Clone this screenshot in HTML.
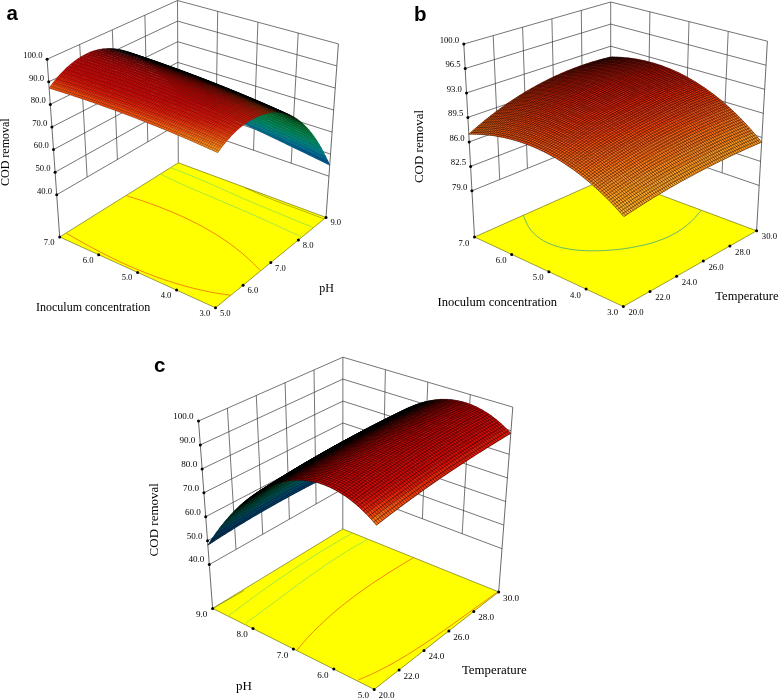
<!DOCTYPE html>
<html><head><meta charset="utf-8"><title>Figure</title>
<style>
html,body{margin:0;padding:0;background:#fff}
svg{display:block}
.g{stroke:#3a3a3a;stroke-width:.7;fill:none}
.ax{stroke:#2a2a2a;stroke-width:.7;fill:none}
.fl{fill:#ffff00;stroke:#5a5a00;stroke-width:.6}
.m{stroke:#000;fill:none;stroke-linejoin:round}
text{font-family:"Liberation Serif",serif;fill:#000}
.t{font-size:8.6px}
.tc{font-size:9.1px}
.lc{font-size:12.9px}
.ld{font-size:13px}
.l{font-size:12px}
.lb{font-size:12.55px}
.tb{font-size:8.7px}
.p{font-family:"Liberation Sans",sans-serif;font-weight:bold;font-size:20.5px;fill:#000}
</style></head><body>
<svg width="779" height="699" viewBox="0 0 779 699">
<rect width="779" height="699" fill="#fff"/>
<g><path class="g" d="M56.7 194.8L178.1 124.2"/>
<path class="g" d="M178.1 124.2L328.9 176.2"/>
<path class="g" d="M55.1 172.2L178 103.6"/>
<path class="g" d="M178 103.6L330.5 154.1"/>
<path class="g" d="M53.5 149.6L177.9 83"/>
<path class="g" d="M177.9 83L332.1 132.1"/>
<path class="g" d="M51.9 127L177.8 62.4"/>
<path class="g" d="M177.8 62.4L333.7 110"/>
<path class="g" d="M50.3 104.4L177.7 41.7"/>
<path class="g" d="M177.7 41.7L335.2 88"/>
<path class="g" d="M48.7 81.8L177.6 21.1"/>
<path class="g" d="M177.6 21.1L336.8 65.9"/>
<path class="g" d="M47.1 59.2L177.5 0.5"/>
<path class="g" d="M177.5 0.5L338.4 43.9"/>
<path class="g" d="M87.1 177.1L79.7 44.5"/>
<path class="g" d="M117.4 159.5L112.3 29.9"/>
<path class="g" d="M147.8 141.9L144.9 15.2"/>
<path class="g" d="M215.8 137.2L217.7 11.3"/>
<path class="g" d="M253.5 150.2L257.9 22.2"/>
<path class="g" d="M291.2 163.2L298.2 33"/>
<path class="g" d="M178.3 162.8L177.5 0.5"/><path class="fl" d="M59.7 237 215.5 307.8 326 217.4 178.3 162.8z"/></g>
<g><path class="g" d="M471.9 190.8L610.7 134.7"/>
<path class="g" d="M610.7 134.7L759.2 185.5"/>
<path class="g" d="M470.6 166.4L610.7 112.6"/>
<path class="g" d="M610.7 112.6L760.6 161.4"/>
<path class="g" d="M469.2 141.9L610.7 90.5"/>
<path class="g" d="M610.7 90.5L761.9 137.4"/>
<path class="g" d="M467.9 117.4L610.7 68.3"/>
<path class="g" d="M610.7 68.3L763.3 113.3"/>
<path class="g" d="M466.5 92.9L610.7 46.2"/>
<path class="g" d="M610.7 46.2L764.7 89.3"/>
<path class="g" d="M465.2 68.5L610.7 24.1"/>
<path class="g" d="M610.7 24.1L766 65.2"/>
<path class="g" d="M463.8 44L610.7 2"/>
<path class="g" d="M610.7 2L767.4 41.2"/>
<path class="g" d="M499.7 179.6L493.2 35.6"/>
<path class="g" d="M527.4 168.4L522.6 27.2"/>
<path class="g" d="M555.2 157.2L551.9 18.8"/>
<path class="g" d="M582.9 145.9L581.3 10.4"/>
<path class="g" d="M647.8 147.4L649.9 11.8"/>
<path class="g" d="M684.9 160.1L689 21.6"/>
<path class="g" d="M722.1 172.8L728.2 31.4"/>
<path class="g" d="M610.7 176.4L610.7 2"/><path class="fl" d="M474.5 237 623.3 306.5 756.6 230.8 610.7 176.4z"/></g>
<g><path class="g" d="M209.3 564.6L342.8 488.8"/>
<path class="g" d="M342.8 488.8L502 548.7"/>
<path class="g" d="M207.5 540.7L342.8 466.9"/>
<path class="g" d="M342.8 466.9L503.8 525.1"/>
<path class="g" d="M205.7 516.7L342.8 445"/>
<path class="g" d="M342.8 445L505.6 501.5"/>
<path class="g" d="M203.9 492.8L342.9 423"/>
<path class="g" d="M342.9 423L507.4 477.9"/>
<path class="g" d="M202.1 468.9L342.9 401.1"/>
<path class="g" d="M342.9 401.1L509.2 454.3"/>
<path class="g" d="M200.3 444.9L342.9 379.1"/>
<path class="g" d="M342.9 379.1L511 430.7"/>
<path class="g" d="M198.5 421L342.9 357.2"/>
<path class="g" d="M342.9 357.2L512.8 407.1"/>
<path class="g" d="M236 549.5L227.4 408.2"/>
<path class="g" d="M262.7 534.3L256.3 395.5"/>
<path class="g" d="M289.4 519.1L285.1 382.7"/>
<path class="g" d="M316.1 504L314 370"/>
<path class="g" d="M382.6 503.8L385.4 369.7"/>
<path class="g" d="M422.4 518.8L427.8 382.1"/>
<path class="g" d="M462.2 533.7L470.3 394.6"/>
<path class="g" d="M342.8 529L342.9 357.2"/><path class="fl" d="M212.6 608.4 374.2 689.4 498.7 591.9 342.8 529z"/></g>
<path d="M126.4 195.7C129.1 196.6 137.3 199.1 142.7 200.9C148.1 202.8 153.6 204.7 158.9 206.8C164.3 208.9 169.7 211 175 213.3C180.4 215.6 185.6 218 190.8 220.6C196 223.1 201.2 225.8 206.2 228.7C211.2 231.5 216.2 234.5 221 237.6C225.8 240.8 230.5 244.1 235.1 247.6C239.6 251.1 244 254.7 248.3 258.6C252.5 262.4 258.5 268.7 260.5 270.7" fill="none" stroke="#ee6a12" stroke-width=".8"/>
<path d="M66.6 233.3C69.3 234.9 77.6 239.8 83.3 242.9C89 246.1 94.7 249.2 100.5 252.2C106.3 255.2 112.2 258.1 118.1 260.9C124 263.7 130 266.4 136.1 268.9C142.1 271.4 148.2 273.9 154.4 276.2C160.5 278.4 166.7 280.6 173 282.5C179.2 284.5 185.5 286.3 191.9 287.9C198.2 289.5 204.6 290.9 211 292.2C217.5 293.4 227.2 294.7 230.4 295.2" fill="none" stroke="#ee6a12" stroke-width=".8"/>
<path d="M161.2 174.5C166 176.7 175.6 181.5 190 187.8C204.4 194.1 229.3 204.3 247.9 212.5C266.5 220.7 292.6 232.9 301.5 237" fill="none" stroke="#8fe24e" stroke-width=".8"/>
<path d="M170.8 167.7C176.5 170 192.2 176 205 181.5C217.8 187 229.9 192.8 247.9 200.5C265.9 208.2 302.1 223 313 227.5" fill="none" stroke="#8fe24e" stroke-width=".8"/>
<path d="M245 187.8C249.3 189.7 261.8 195.3 271 199C280.2 202.7 291.2 206.5 300 209.8C308.8 213.1 320 217.3 324 218.8" fill="none" stroke="#6b6b10" stroke-width=".5"/>
<path d="M523.1 215.3C524.2 217.4 526.8 224.4 529.3 228C531.8 231.7 534.9 234.6 538.2 237.2C541.5 239.8 545.2 241.8 549.1 243.5C553 245.3 557.2 246.5 561.5 247.6C565.9 248.7 570.4 249.3 575 249.9C579.6 250.4 584.4 250.7 589.1 250.8C593.9 250.9 598.7 250.8 603.5 250.6C608.2 250.3 613 250 617.7 249.5C622.4 249 627.1 248.3 631.7 247.5C636.2 246.7 640.7 245.8 645.1 244.8C649.4 243.7 653.7 242.5 657.8 241C661.9 239.6 665.9 238 669.8 236.1C673.6 234.2 677.4 232.2 681 229.7C684.6 227.2 688 224.5 691.4 221.3C694.8 218.1 699.5 212.3 701.1 210.5" fill="none" stroke="#3fa878" stroke-width=".8"/>
<path d="M228.6 615.8C230.8 614.1 237.4 609.1 241.8 605.8C246.2 602.5 250.7 599.2 255.2 596C259.6 592.7 264.1 589.5 268.6 586.3C273.2 583.1 277.7 580 282.2 576.9C286.8 573.8 291.4 570.7 296 567.6C300.6 564.6 305.2 561.6 309.9 558.6C314.5 555.6 319.2 552.7 323.9 549.8C328.6 546.9 333.4 544.1 338.1 541.3C342.9 538.5 350.1 534.4 352.5 533" fill="none" stroke="#8fe24e" stroke-width=".8"/>
<path d="M245.5 623.4C247.7 621.8 254.4 616.9 258.8 613.7C263.3 610.4 267.7 607.1 272.1 603.8C276.5 600.5 280.9 597.2 285.4 593.9C289.8 590.6 294.2 587.3 298.7 584.1C303.1 580.8 307.6 577.6 312.1 574.4C316.6 571.2 321.1 568 325.7 565C330.2 561.9 334.8 558.8 339.5 555.9C344.1 552.9 348.8 550.1 353.6 547.3C358.3 544.5 365.6 540.5 368 539.2" fill="none" stroke="#8fe24e" stroke-width=".8"/>
<path d="M296.9 650.1C298.7 648 304.1 641.6 307.8 637.5C311.6 633.4 315.5 629.4 319.5 625.6C323.5 621.7 327.6 618 331.8 614.3C336 610.6 340.3 607.1 344.7 603.6C349.1 600.2 353.5 596.8 358 593.5C362.5 590.2 367.1 587 371.7 583.9C376.4 580.8 381 577.7 385.7 574.7C390.4 571.7 395.2 568.7 399.9 565.8C404.7 562.9 411.8 558.7 414.2 557.3" fill="none" stroke="#ee6a12" stroke-width=".8"/>
<path d="M358.2 680C361 678.8 369.5 675.2 375.1 672.5C380.6 669.9 386 667 391.4 664.1C396.8 661.1 402.1 658 407.3 654.8C412.6 651.6 417.8 648.3 422.9 644.9C428.1 641.5 433.1 638 438.2 634.5C443.3 631 448.3 627.4 453.3 623.8C458.3 620.3 463.3 616.6 468.3 613C473.3 609.4 478.2 605.8 483.2 602.2C488.2 598.6 495.7 593.4 498.2 591.6" fill="none" stroke="#ee6a12" stroke-width=".8"/>
<path d="M213.5 608.2C215.9 606.8 222.9 602.7 228 599.8C233.1 596.9 241.3 592.1 244 590.6" fill="none" stroke="#6b6b10" stroke-width=".5"/>
<g transform="scale(.1)" stroke-width="6.5" stroke-opacity="0.38"><path fill="#00ac98" d="M1747 893l80 34 28 42-79-36z"/>
<path fill="#00ab9c" d="M1820 926l80 34 28 42-79-35z"/>
<path fill="#00aba1" d="M1894 959l79 34 28 43-79-35z"/>
<path fill="#00aaa5" d="M1967 992l79 34 28 44-79-36z"/>
<path fill="#00a9a9" d="M2040 1025l79 34 28 45-79-36z"/>
<path fill="#00a7ad" d="M2113 1058l79 34 27 46-78-36z"/>
<path fill="#00a6b1" d="M2186 1091l79 34 27 46-79-35z"/>
<path fill="#00a4b4" d="M2259 1124l79 35 26 47-78-36z"/>
<path fill="#00a0b5" d="M2332 1157l79 35 26 48-79-36z"/>
<path fill="#009bb5" d="M2405 1191l79 35 25 48-78-36z"/>
<path fill="#0097b6" d="M2477 1224l79 35 26 49-79-36z"/>
<path fill="#0093b6" d="M2550 1258l79 35 25 49-79-35z"/>
<path fill="#008eb6" d="M2623 1292l78 35 25 50-78-36z"/>
<path fill="#008ab7" d="M2695 1326l79 35 24 50-78-36z"/>
<path fill="#0085b7" d="M2768 1360l78 35 24 51-78-36z"/>
<path fill="#0081b8" d="M2840 1394l78 35 24 51-78-36z"/>
<path fill="#007db8" d="M2912 1428l79 35 22 52-77-36z"/>
<path fill="#0078b9" d="M2985 1462l78 36 22 51-78-36z"/>
<path fill="#0074b8" d="M3057 1496l78 36 22 52-78-36z"/>
<path fill="#0171b5" d="M3129 1531l78 36 21 52-77-36z"/>
<path fill="#016eb2" d="M3201 1565l78 36 21 53-78-36z"/>
<path class="m" d="M1765 914l73 33 73 33 73 34 73 33 73 33 73 34 73 34 72 33 73 34 72 34 73 34 72 34 73 34 72 34 72 34 72 35 72 34 72 35 72 34 72 35 71 35m-1506-694l73 34 73 33 72 34 73 34 73 34 73 33 72 34 73 34 72 34 73 35 72 34 72 34 72 34 72 35 72 34 72 35 72 34 72 35 71 35 72 35 71 35m-1547-757l30 38m18 8l-30-38m18 8l30 39m18 8l-29-38m18 8l30 39m18 8l-30-39m19 8l29 39m18 9l-29-40m18 9l30 39m18 9l-29-40m18 8l29 40m18 8l-29-40m19 9l28 40m19 8l-29-40m18 8l29 41m18 8l-28-41m18 9l28 41m18 8l-28-41m18 8l29 42m18 8l-28-42m18 9l28 42m18 8l-28-42m18 8l28 42m18 9l-27-42m18 8l28 42m18 9l-28-43m18 9l28 42m18 9l-27-43m18 8l27 43m18 9l-27-43m18 8l27 43m19 9l-28-44m19 9l27 43m18 9l-27-44m18 8l27 44m18 9l-27-44m18 8l27 44m18 9l-26-45m18 9l26 45m18 8l-26-45m18 9l27 45m18 8l-27-45m19 8l26 46m18 8l-26-45m18 8l26 46m18 8l-26-45m18 8l26 46m18 9l-26-46m18 8l26 46m18 9l-25-47m18 9l25 46m18 9l-25-47m18 9l25 46m18 9l-25-47m18 9l25 47m18 8l-25-47m18 9l25 47m18 8l-25-47m19 9l24 47m18 9l-24-48m18 9l24 47m18 9l-24-48m18 9l24 48m18 8l-24-48m18 9l24 48m18 9l-24-48m18 8l24 48m18 9l-24-48m18 8l24 48m18 9l-24-48m18 8l24 49m18 8l-24-48m18 9l24 48m17 9l-23-49m18 9l23 48m18 9l-23-49m18 9l23 49m18 9l-23-49m18 8l23 49m18 9l-23-49m18 8l23 50m18 8l-23-49m18 9l23 49m17 9l-22-50m18 9l22 50"/>
<path fill="#00b281" d="M1717 857l80 33 29 40-80-35z"/>
<path fill="#00b285" d="M1791 889l80 33 28 41-79-35z"/>
<path fill="#00b189" d="M1864 921l80 33 29 42-80-35z"/>
<path fill="#00b08d" d="M1938 953l80 34 28 42-80-35z"/>
<path fill="#00b091" d="M2011 985l80 34 28 43-80-35z"/>
<path fill="#00af95" d="M2085 1018l79 34 28 43-80-35z"/>
<path fill="#00ae99" d="M2158 1050l80 34 27 44-80-35z"/>
<path fill="#00ad9c" d="M2231 1083l80 34 26 45-79-35z"/>
<path fill="#00aba0" d="M2305 1116l79 34 26 45-79-35z"/>
<path fill="#00aaa4" d="M2378 1148l79 35 26 46-79-35z"/>
<path fill="#00a9a8" d="M2451 1181l79 35 26 46-79-35z"/>
<path fill="#00a8ac" d="M2524 1215l79 34 25 47-79-35z"/>
<path fill="#00a6af" d="M2597 1248l79 35 25 47-79-35z"/>
<path fill="#00a5b3" d="M2670 1281l79 35 24 48-78-35z"/>
<path fill="#00a2b4" d="M2743 1315l78 35 24 48-78-35z"/>
<path fill="#009db5" d="M2815 1348l79 36 24 48-79-35z"/>
<path fill="#0099b5" d="M2888 1382l79 35 23 49-78-35z"/>
<path fill="#0095b6" d="M2960 1416l79 35 23 50-78-36z"/>
<path fill="#0091b6" d="M3033 1450l78 36 23 49-78-36z"/>
<path fill="#008cb7" d="M3105 1484l79 36 22 50-78-36z"/>
<path fill="#0088b7" d="M3178 1518l78 36 22 50-78-36z"/>
<path class="m" d="M1735 877l73 32 74 32 73 33 73 33 74 32 73 33 73 33 73 33 73 34 73 33 73 33 73 34 72 33 73 34 72 34 73 34 72 34 73 34 72 34 72 35 72 34m-1514-683l73 33 73 33 74 33 73 33 73 33 73 33 73 33 73 34 72 33 73 34 73 33 72 34 73 34 72 34 73 34 72 34 72 34 72 35 72 34 72 34 72 35m-1555-743l30 36m18 8l-30-36m19 8l29 36m19 9l-30-37m18 8l30 37m18 8l-29-37m18 8l30 37m18 8l-29-37m18 8l29 38m19 8l-30-38m19 8l29 38m18 8l-29-38m19 8l29 39m18 8l-29-39m18 8l29 39m19 8l-29-39m18 8l29 40m18 8l-29-40m19 8l28 40m19 8l-29-39m19 8l28 40m18 8l-28-40m18 8l28 40m19 9l-28-41m18 8l28 41m18 8l-28-41m19 9l27 41m19 8l-28-41m18 8l28 41m18 9l-27-42m18 8l27 42m18 8l-27-42m18 9l28 42m18 8l-27-42m18 8l27 42m18 9l-27-43m19 9l26 42m19 8l-27-42m18 8l27 43m18 8l-27-43m19 9l26 43m18 8l-26-43m18 8l27 43m18 9l-27-44m19 9l26 43m18 9l-26-44m18 8l26 44m18 9l-26-44m19 8l25 44m19 8l-26-44m18 9l26 44m18 8l-26-44m18 8l26 45m18 8l-25-44m18 8l25 45m18 8l-25-44m18 8l25 45m18 8l-25-45m19 9l25 45m18 8l-25-45m18 9l25 45m18 8l-25-45m18 8l25 46m18 8l-25-45m19 8l24 46m18 9l-24-46m18 8l24 46m18 9l-24-46m18 8l24 46m18 9l-24-46m18 8l24 46m18 9l-23-46m18 8l23 47m18 8l-23-46m18 8l23 47m18 8l-23-46m18 8l23 47m18 9l-23-47m18 9l23 46m18 9l-23-47m18 9l23 46m18 9l-22-47m18 9l22 47m18 8l-22-46m18 8l22 47"/>
<path fill="#00b070" d="M1687 822l80 33 29 38-80-34z"/>
<path fill="#00b173" d="M1761 853l80 33 29 39-80-34z"/>
<path fill="#00b276" d="M1835 885l80 33 29 39-80-34z"/>
<path fill="#00b378" d="M1909 916l80 33 28 40-80-34z"/>
<path fill="#00b47b" d="M1982 948l80 33 28 41-79-34z"/>
<path fill="#00b47e" d="M2056 980l80 33 28 41-80-34z"/>
<path fill="#00b581" d="M2130 1011l80 34 27 42-80-34z"/>
<path fill="#00b484" d="M2203 1044l80 33 27 43-79-35z"/>
<path fill="#00b388" d="M2277 1076l80 34 26 43-79-35z"/>
<path fill="#00b28c" d="M2351 1108l79 34 26 44-79-35z"/>
<path fill="#00b190" d="M2424 1141l80 34 25 44-79-35z"/>
<path fill="#00b093" d="M2497 1173l80 35 25 44-79-35z"/>
<path fill="#00af97" d="M2571 1206l79 35 25 45-79-35z"/>
<path fill="#00ad9a" d="M2644 1239l79 35 25 45-79-35z"/>
<path fill="#00ac9e" d="M2717 1272l79 35 25 46-79-35z"/>
<path fill="#00aba2" d="M2790 1305l79 35 24 47-78-36z"/>
<path fill="#00aaa6" d="M2863 1339l79 35 24 46-79-35z"/>
<path fill="#00a8aa" d="M2936 1372l79 36 23 46-78-35z"/>
<path fill="#00a7ad" d="M3009 1406l79 36 23 47-79-36z"/>
<path fill="#00a6b1" d="M3082 1440l79 36 22 47-78-36z"/>
<path fill="#00a4b4" d="M3154 1474l79 36 22 47-78-36z"/>
<path class="m" d="M1705 841l74 32 73 31 74 32 74 32 73 32 74 33 73 32 74 32 73 33 73 33 73 33 74 33 73 33 73 33 72 34 73 33 73 34 73 34 72 34 73 34 72 35m-1521-674l73 32 74 32 74 32 73 32 74 33 73 32 73 33 73 33 74 33 73 33 73 33 73 33 72 33 73 34 73 34 73 33 72 34 73 34 72 34 72 35 73 34m-1563-731l30 35m18 8l-30-35m19 7l30 36m18 8l-30-36m19 8l29 36m19 8l-30-36m19 8l29 36m19 8l-30-36m19 8l29 36m18 8l-29-37m19 8l29 37m18 8l-29-37m18 8l30 37m18 8l-29-37m18 8l29 37m19 8l-29-37m18 8l29 37m18 8l-28-37m18 8l29 37m18 9l-28-38m18 8l29 38m18 8l-29-39m19 8l28 39m19 8l-29-39m19 8l28 39m18 8l-28-39m19 8l28 40m18 8l-28-39m18 8l28 39m19 8l-28-39m18 8l28 39m18 8l-27-39m18 8l27 40m19 8l-28-40m19 8l27 40m18 8l-27-40m18 8l28 41m18 8l-27-41m18 8l27 41m18 8l-27-40m19 8l27 41m18 8l-27-41m19 8l26 41m18 8l-26-41m18 8l27 42m18 8l-26-41m18 8l26 41m18 9l-26-42m18 8l27 42m18 8l-26-42m18 9l26 42m18 8l-26-42m19 8l25 42m19 9l-26-43m18 9l26 42m18 9l-25-43m18 8l25 43m18 8l-25-42m18 8l26 43m18 8l-25-43m18 9l25 43m18 8l-25-43m18 8l25 43m18 9l-24-43m18 8l25 43m18 9l-25-44m18 9l25 43m18 9l-24-44m18 9l24 43m18 9l-24-44m18 9l24 43m19 9l-24-44m18 8l24 44m18 9l-24-44m18 8l24 44m18 9l-24-44m18 8l24 44m18 9l-23-44m18 8l23 45m18 8l-23-44m18 8l23 45m19 8l-24-44m19 9l23 44m18 9l-23-45m18 9l23 44"/>
<path fill="#00ae61" d="M1656 789l81 32 30 36-81-33z"/>
<path fill="#00af64" d="M1731 819l80 33 30 36-81-33z"/>
<path fill="#00af66" d="M1805 850l81 33 28 37-80-33z"/>
<path fill="#00b068" d="M1879 881l81 33 28 38-80-34z"/>
<path fill="#00b16b" d="M1953 912l81 33 28 38-80-33z"/>
<path fill="#00b26d" d="M2027 943l81 33 28 39-80-33z"/>
<path fill="#00b270" d="M2101 975l81 33 27 40-80-34z"/>
<path fill="#00b372" d="M2175 1006l81 33 27 41-80-34z"/>
<path fill="#00b375" d="M2249 1038l80 33 27 41-80-34z"/>
<path fill="#00b477" d="M2323 1070l80 33 27 42-80-34z"/>
<path fill="#00b47a" d="M2397 1102l80 34 26 41-80-34z"/>
<path fill="#00b57c" d="M2471 1134l80 34 25 42-79-34z"/>
<path fill="#00b57f" d="M2544 1166l80 35 26 42-80-34z"/>
<path fill="#00b582" d="M2618 1199l80 34 25 43-80-34z"/>
<path fill="#00b486" d="M2691 1232l80 34 25 44-80-35z"/>
<path fill="#00b38a" d="M2765 1265l79 34 25 44-80-35z"/>
<path fill="#00b28d" d="M2838 1298l80 35 24 44-80-35z"/>
<path fill="#00b091" d="M2911 1331l80 35 23 45-79-36z"/>
<path fill="#00af95" d="M2985 1365l79 35 23 44-79-35z"/>
<path fill="#00ae99" d="M3058 1398l79 36 23 45-79-36z"/>
<path fill="#00ad9d" d="M3131 1432l79 36 23 45-79-36z"/>
<path class="m" d="M1675 807l74 31 74 31 74 31 74 32 74 31 74 32 73 32 74 32 74 32 73 32 74 32 73 33 74 33 73 33 73 33 73 33 74 34 73 33 73 34 72 34 73 34m-1528-665l74 31 74 32 73 31 74 32 74 32 74 31 73 33 74 32 73 32 74 33 73 32 73 33 74 33 73 33 73 34 73 33 73 34 73 33 72 34 73 34 73 35m-1571-720l31 33m18 8l-30-34m19 8l30 33m18 8l-30-33m19 7l30 34m18 8l-30-34m19 8l30 34m18 8l-30-35m19 8l30 35m18 7l-30-34m19 7l30 35m18 8l-29-35m18 8l29 35m19 8l-29-35m18 7l29 36m19 8l-29-36m18 8l29 36m19 8l-29-36m18 8l29 36m19 8l-29-37m18 8l29 37m18 7l-28-36m18 8l29 36m18 8l-28-36m18 8l29 36m18 8l-28-37m18 8l29 37m18 9l-28-38m18 8l28 38m19 8l-28-38m18 8l28 38m19 8l-28-38m18 8l28 38m18 8l-27-38m18 8l28 38m18 8l-27-38m18 8l27 38m19 8l-28-38m19 8l27 38m18 9l-27-39m19 8l27 39m18 8l-27-39m19 8l27 39m18 8l-27-39m18 8l27 39m19 9l-27-40m18 8l27 40m18 8l-26-40m18 8l26 40m19 8l-26-39m18 8l26 40m18 8l-26-40m19 8l26 40m18 8l-26-40m18 8l26 41m19 8l-26-40m18 8l26 40m18 9l-25-41m18 8l25 41m19 8l-26-40m19 8l25 41m18 8l-25-41m18 8l25 41m19 9l-25-41m18 8l25 41m18 8l-25-41m19 9l24 41m19 8l-25-41m18 8l25 42m18 8l-24-41m18 8l24 42m19 8l-25-42m18 9l25 41m18 9l-24-42m18 9l24 41m18 9l-24-42m19 9l23 41m19 9l-24-42m18 9l24 41m18 9l-24-42m19 9l23 41m18 9l-23-42m18 9l24 42m18 8l-24-42m19 9l23 42"/>
<path fill="#00ab53" d="M1626 757l81 32 30 34-81-32z"/>
<path fill="#00ab55" d="M1701 787l81 32 29 35-81-33z"/>
<path fill="#00ac57" d="M1775 817l81 32 29 36-81-33z"/>
<path fill="#00ad59" d="M1850 848l80 32 29 36-80-33z"/>
<path fill="#00ae5c" d="M1924 878l81 32 28 37-80-33z"/>
<path fill="#00ae5e" d="M1998 909l81 32 28 37-80-33z"/>
<path fill="#00af60" d="M2073 940l80 32 28 38-80-33z"/>
<path fill="#00b062" d="M2147 971l81 32 27 39-80-34z"/>
<path fill="#00b065" d="M2221 1002l81 33 27 39-80-34z"/>
<path fill="#00b167" d="M2295 1033l81 34 27 39-80-34z"/>
<path fill="#00b169" d="M2370 1065l80 33 26 40-80-34z"/>
<path fill="#00b26c" d="M2444 1097l80 33 26 40-80-34z"/>
<path fill="#00b26e" d="M2518 1129l80 34 26 40-80-34z"/>
<path fill="#00b371" d="M2592 1161l80 34 25 41-80-35z"/>
<path fill="#00b373" d="M2665 1194l80 34 25 41-79-35z"/>
<path fill="#00b376" d="M2739 1226l80 35 25 41-80-35z"/>
<path fill="#00b478" d="M2813 1259l80 35 24 41-80-35z"/>
<path fill="#00b47b" d="M2886 1292l80 35 24 42-79-35z"/>
<path fill="#00b47d" d="M2960 1326l80 35 23 42-79-36z"/>
<path fill="#00b480" d="M3034 1359l79 36 23 42-79-36z"/>
<path fill="#00b384" d="M3107 1393l80 36 22 42-79-36z"/>
<path class="m" d="M1644 775l75 30 74 30 74 31 75 31 74 31 74 31 74 31 74 32 74 31 74 32 74 32 74 32 74 33 73 32 74 33 73 33 74 34 73 33 73 34 74 34 73 34m-1536-658l75 30 74 31 74 31 74 31 74 31 74 32 74 31 74 32 74 32 74 32 73 32 74 32 74 33 73 33 74 33 73 33 73 33 73 34 74 34 73 34 73 34m-1578-710l30 32m19 7l-30-31m18 7l31 32m18 8l-30-33m19 8l30 32m18 8l-30-32m19 7l30 33m18 7l-30-32m19 7l30 33m18 8l-29-33m18 7l30 33m19 8l-30-33m19 7l29 34m19 8l-30-34m19 8l29 33m19 8l-30-34m19 8l29 34m19 8l-29-34m18 7l29 35m19 7l-29-34m18 8l29 34m19 8l-29-35m19 8l28 35m19 8l-29-35m19 7l28 36m19 7l-29-35m19 8l28 35m19 8l-29-35m19 8l28 35m19 8l-28-36m18 8l28 36m19 8l-28-36m18 8l28 36m19 8l-28-36m18 8l28 36m19 8l-28-37m18 8l28 37m18 8l-27-37m18 8l28 37m18 8l-27-37m18 8l28 37m18 8l-27-37m19 8l27 37m18 8l-27-37m19 8l26 37m19 8l-27-37m19 8l26 37m19 8l-27-37m18 8l27 37m19 9l-27-38m18 8l27 38m18 8l-26-38m18 8l27 38m18 8l-26-38m18 8l26 38m19 9l-26-39m18 9l26 38m19 8l-26-38m18 8l26 38m18 9l-25-39m18 8l26 39m18 8l-26-38m19 8l25 38m19 9l-26-39m19 8l25 39m18 8l-25-39m19 9l25 39m18 8l-25-39m18 8l25 39m19 9l-25-39m18 8l25 39m18 8l-25-39m19 9l24 39m19 8l-25-39m19 8l24 40m18 8l-24-39m18 8l25 40m18 8l-24-39m18 8l24 40m18 8l-24-39m19 8l24 40m18 8l-24-39m18 8l24 40m18 8l-23-39m18 8l24 40"/>
<path fill="#00a34a" d="M1595 727l82 31 30 33-82-32z"/>
<path fill="#00a44b" d="M1670 757l82 31 29 33-81-32z"/>
<path fill="#00a64c" d="M1745 786l81 32 30 33-81-32z"/>
<path fill="#00a74e" d="M1820 816l81 32 29 34-81-32z"/>
<path fill="#00a84f" d="M1895 846l81 32 28 34-80-32z"/>
<path fill="#00aa51" d="M1969 876l81 32 29 35-81-32z"/>
<path fill="#00ab52" d="M2044 906l81 33 28 35-81-32z"/>
<path fill="#00ac53" d="M2119 937l81 33 27 36-80-33z"/>
<path fill="#00ad55" d="M2193 968l81 33 27 36-80-33z"/>
<path fill="#00ae58" d="M2268 999l80 33 27 37-80-34z"/>
<path fill="#00ae5a" d="M2342 1030l81 33 26 38-80-34z"/>
<path fill="#00ae5c" d="M2416 1062l81 33 26 38-80-34z"/>
<path fill="#00af5e" d="M2491 1093l80 34 26 38-80-34z"/>
<path fill="#00af61" d="M2565 1125l81 34 25 39-80-35z"/>
<path fill="#00b063" d="M2639 1158l81 34 25 38-80-34z"/>
<path fill="#00b065" d="M2713 1190l81 34 25 39-80-34z"/>
<path fill="#00b068" d="M2787 1223l81 34 24 39-80-35z"/>
<path fill="#00b16a" d="M2861 1256l80 35 25 39-80-35z"/>
<path fill="#00b16d" d="M2935 1289l80 35 24 39-80-35z"/>
<path fill="#00b16f" d="M3009 1322l80 36 24 39-80-35z"/>
<path fill="#00b172" d="M3083 1356l80 36 23 39-80-36z"/>
<path class="m" d="M1614 744l74 30 75 29 75 30 74 31 75 30 74 31 75 31 74 31 74 31 75 31 74 32 74 32 74 32 74 32 74 33 74 33 74 33 73 33 74 34 74 33 73 34m-1542-651l75 30 74 30 75 30 74 31 74 31 75 30 74 32 74 31 74 31 74 32 75 32 73 32 74 32 74 33 74 32 74 33 73 33 74 34 73 33 74 34 73 34m-1585-700l31 30m19 8l-31-31m19 8l30 30m19 7l-30-30m18 7l31 31m18 8l-30-31m19 7l30 31m18 8l-30-31m19 7l30 31m19 8l-30-32m18 8l30 31m19 8l-30-32m19 8l30 31m18 8l-29-32m18 8l30 32m18 7l-29-32m19 8l29 32m19 8l-30-33m19 8l29 32m19 8l-29-33m18 8l29 33m19 7l-29-32m19 7l29 33m18 8l-29-33m19 7l29 33m18 8l-28-33m18 8l29 33m18 8l-28-34m19 8l28 34m19 7l-29-33m19 7l28 34m19 8l-29-34m19 8l28 34m19 8l-28-34m18 7l28 35m19 7l-28-34m19 8l27 34m19 8l-28-34m19 7l27 35m19 8l-28-35m19 8l27 35m19 8l-27-35m18 8l28 35m18 8l-27-35m18 8l28 35m18 8l-27-35m18 7l28 36m18 8l-27-36m19 8l26 36m19 8l-27-36m19 8l26 36m19 8l-27-36m19 8l26 36m19 8l-27-36m19 8l26 36m19 8l-27-35m19 8l26 36m19 8l-26-36m18 8l26 36m19 8l-26-36m18 8l26 36m18 9l-25-37m18 8l26 37m18 8l-25-36m18 8l26 36m18 8l-25-36m18 8l26 37m18 8l-25-37m18 9l25 36m19 9l-25-37m18 8l25 37m18 8l-24-36m18 8l25 37m18 8l-25-37m19 9l25 36m18 9l-25-37m19 8l24 37m19 9l-25-37m19 8l24 37m18 9l-24-37m19 8l24 37m18 9l-24-38m18 9l24 37m19 9l-24-38m18 9l24 37"/>
<path fill="#009b41" d="M1565 699l81 31 30 30-81-31z"/>
<path fill="#009c42" d="M1640 728l81 31 30 31-81-32z"/>
<path fill="#009e43" d="M1715 757l82 31 29 31-81-31z"/>
<path fill="#009f45" d="M1790 786l82 31 29 32-82-31z"/>
<path fill="#00a046" d="M1865 816l82 31 28 33-81-32z"/>
<path fill="#00a147" d="M1940 845l82 32 28 33-81-32z"/>
<path fill="#00a349" d="M2015 875l81 32 29 34-82-33z"/>
<path fill="#00a44a" d="M2090 905l81 33 28 34-81-33z"/>
<path fill="#00a54b" d="M2165 936l81 32 28 35-81-33z"/>
<path fill="#00a64c" d="M2240 967l81 32 27 35-81-33z"/>
<path fill="#00a84e" d="M2314 998l81 32 27 36-81-34z"/>
<path fill="#00a94f" d="M2389 1029l81 33 27 35-81-33z"/>
<path fill="#00aa51" d="M2464 1060l81 34 26 35-81-33z"/>
<path fill="#00ab52" d="M2538 1092l81 34 26 36-81-35z"/>
<path fill="#00ac54" d="M2613 1124l81 34 25 36-80-34z"/>
<path fill="#00ac56" d="M2687 1156l81 34 25 37-80-35z"/>
<path fill="#00ad58" d="M2761 1189l81 34 25 37-80-35z"/>
<path fill="#00ad5b" d="M2836 1221l80 35 25 37-80-35z"/>
<path fill="#00ad5d" d="M2910 1254l80 36 25 36-81-35z"/>
<path fill="#00ad5f" d="M2984 1288l80 35 24 37-80-36z"/>
<path fill="#00ae62" d="M3058 1321l80 36 24 37-80-36z"/>
<path class="m" d="M1583 715l75 29 75 29 75 30 75 29 75 30 75 30 74 31 75 31 75 30 74 32 75 31 74 31 75 32 74 32 74 33 74 32 74 33 74 33 74 34 74 33 74 34m-1549-645l75 29 75 30 75 30 75 30 74 30 75 30 75 31 74 31 75 31 74 31 74 32 75 31 74 32 74 33 74 32 74 33 74 33 74 33 74 33 74 34 73 34m-1591-691l30 28m19 7l-31-28m19 7l31 29m19 7l-31-29m19 8l30 28m19 8l-30-29m18 7l31 29m18 8l-30-30m19 8l30 29m19 7l-30-29m19 7l29 30m19 7l-30-29m19 7l30 30m19 7l-30-30m19 8l29 30m19 7l-30-30m19 7l30 31m18 7l-29-30m19 7l29 31m19 7l-30-30m19 7l29 31m19 8l-29-31m19 7l29 31m18 8l-29-31m19 7l29 31m19 8l-29-31m18 7l29 32m19 7l-29-31m19 7l29 32m18 8l-28-32m18 7l29 32m18 8l-28-32m19 8l28 32m19 8l-29-33m19 8l28 32m19 8l-28-32m19 7l28 33m18 8l-28-33m19 8l28 32m18 8l-27-32m18 7l28 33m19 8l-28-33m19 8l27 33m19 8l-28-33m19 8l27 33m19 8l-27-34m18 8l27 33m19 8l-27-33m19 8l27 33m18 8l-27-33m19 8l27 33m18 8l-27-33m19 8l27 33m18 8l-26-33m18 8l27 33m18 9l-26-34m19 8l26 34m19 8l-27-34m19 8l26 34m19 8l-27-34m19 8l26 34m19 8l-26-34m18 8l26 34m19 9l-26-35m18 9l26 34m19 8l-26-34m18 8l26 34m19 8l-26-34m19 8l25 35m19 8l-26-34m19 8l25 34m19 9l-26-35m19 8l25 35m18 8l-25-34m19 8l25 35m18 8l-25-35m19 9l25 34m18 9l-25-35m19 9l25 34m18 9l-25-35m19 8l25 35m18 8l-25-34m19 8l24 35m19 8l-25-34m19 8l24 35"/>
<path fill="#009339" d="M1534 672l82 30 30 29-82-30z"/>
<path fill="#00943a" d="M1609 701l82 30 30 29-82-31z"/>
<path fill="#00953b" d="M1685 729l82 31 29 30-82-32z"/>
<path fill="#00973c" d="M1760 758l82 31 29 30-81-31z"/>
<path fill="#00983d" d="M1835 787l82 31 29 31-81-32z"/>
<path fill="#00993e" d="M1911 816l81 32 29 31-81-32z"/>
<path fill="#009a3f" d="M1986 846l82 32 28 31-81-32z"/>
<path fill="#009b41" d="M2061 876l82 32 28 32-82-33z"/>
<path fill="#009d42" d="M2136 906l82 32 28 32-82-32z"/>
<path fill="#009e43" d="M2211 936l82 33 27 32-81-33z"/>
<path fill="#009f44" d="M2286 967l82 33 27 32-81-33z"/>
<path fill="#00a046" d="M2361 998l82 33 27 33-82-33z"/>
<path fill="#00a147" d="M2436 1029l82 33 26 34-81-34z"/>
<path fill="#00a248" d="M2511 1061l81 33 27 34-81-34z"/>
<path fill="#00a34a" d="M2586 1092l81 34 26 34-81-34z"/>
<path fill="#00a44b" d="M2661 1124l81 35 25 33-80-34z"/>
<path fill="#00a54d" d="M2735 1157l81 34 26 34-81-35z"/>
<path fill="#00a74e" d="M2810 1189l81 35 25 34-81-35z"/>
<path fill="#00a84f" d="M2884 1222l81 36 25 34-81-36z"/>
<path fill="#00a951" d="M2959 1256l81 35 24 34-81-35z"/>
<path fill="#00a953" d="M3033 1289l81 36 24 34-81-36z"/>
<path class="m" d="M1552 687l76 29 75 29 75 29 75 29 75 29 75 30 76 30 75 30 74 31 75 31 75 31 75 31 75 32 74 32 75 32 74 32 75 33 74 33 74 33 75 34 74 34m-1555-640l75 29 75 29 75 29 75 29 75 30 75 30 75 30 75 31 75 30 74 31 75 32 75 31 74 32 75 32 74 32 74 33 75 32 74 33 74 34 74 33 74 34m-1598-683l31 27m18 7l-30-27m19 7l30 27m19 7l-31-27m19 7l31 28m19 7l-31-27m19 7l30 27m19 7l-30-27m19 7l30 28m19 7l-30-28m18 7l31 28m18 8l-30-28m19 7l30 28m19 7l-30-28m19 7l30 29m18 7l-29-28m18 7l30 28m19 8l-30-29m19 7l30 29m18 8l-29-29m19 7l29 29m19 8l-30-29m19 7l30 29m18 8l-29-30m19 8l29 29m19 8l-29-30m19 8l28 29m19 8l-29-30m19 8l29 29m19 8l-29-30m19 8l28 29m19 8l-29-30m19 8l29 30m18 7l-28-30m19 8l28 30m19 8l-28-31m18 8l29 30m18 8l-28-30m19 7l28 31m19 8l-28-31m18 8l28 30m19 8l-28-31m19 8l28 31m18 8l-27-31m18 8l28 31m19 7l-28-31m19 8l27 31m19 8l-27-31m18 8l28 31m18 8l-27-31m19 8l27 31m18 8l-27-31m19 7l27 32m19 8l-27-32m19 8l26 32m19 8l-27-32m19 8l27 32m18 8l-26-32m18 8l27 32m18 8l-26-32m19 8l26 32m19 8l-27-32m19 8l26 32m19 8l-26-31m18 8l26 32m19 8l-26-32m19 8l25 32m19 8l-26-32m19 8l26 32m18 9l-25-32m18 8l26 32m18 8l-25-32m18 8l26 32m18 9l-25-32m19 8l25 32m18 8l-25-32m19 9l25 32m18 8l-25-32m19 8l25 33m18 8l-24-32m18 8l25 32m18 9l-24-32m18 8l25 32m18 9l-24-32m18 8l25 32"/>
<path fill="#008a31" d="M1503 648l82 29 30 27-82-30z"/>
<path fill="#008c32" d="M1579 675l82 30 30 28-82-31z"/>
<path fill="#008d33" d="M1654 703l82 31 30 27-82-30z"/>
<path fill="#008e34" d="M1730 732l82 30 29 28-81-30z"/>
<path fill="#008f35" d="M1805 761l83 30 29 29-82-31z"/>
<path fill="#009136" d="M1881 789l82 31 29 29-82-31z"/>
<path fill="#009237" d="M1957 819l82 31 28 29-82-31z"/>
<path fill="#009338" d="M2032 848l82 32 28 29-81-32z"/>
<path fill="#009439" d="M2108 878l81 32 28 30-81-32z"/>
<path fill="#00953a" d="M2183 908l82 32 27 30-81-32z"/>
<path fill="#00963b" d="M2258 938l82 33 27 30-81-32z"/>
<path fill="#00973d" d="M2334 969l81 33 27 31-81-33z"/>
<path fill="#00983e" d="M2409 1000l81 33 27 31-81-33z"/>
<path fill="#00993f" d="M2484 1031l82 34 26 31-81-34z"/>
<path fill="#009a40" d="M2559 1063l82 34 26 31-82-34z"/>
<path fill="#009b42" d="M2634 1095l81 34 26 31-81-34z"/>
<path fill="#009c43" d="M2709 1127l81 35 26 31-81-35z"/>
<path fill="#009d45" d="M2784 1160l81 35 25 31-81-35z"/>
<path fill="#009e46" d="M2859 1193l81 35 25 31-81-35z"/>
<path fill="#009f47" d="M2933 1226l82 36 24 31-81-36z"/>
<path fill="#00a049" d="M3008 1259l81 36 24 32-80-36z"/>
<path class="m" d="M1521 661l76 28 76 29 75 28 75 29 76 29 75 30 76 29 75 30 75 31 75 30 75 31 76 31 75 32 74 31 75 32 75 33 75 32 75 33 74 33 75 34 74 34m-1561-636l75 28 76 29 75 29 75 29 76 29 75 30 75 30 75 30 75 30 75 31 75 31 75 31 75 31 75 32 75 32 74 33 75 32 74 33 75 34 74 33 74 34m-1604-676l31 25m19 7l-31-25m19 7l31 25m18 7l-30-25m19 7l30 25m19 8l-30-26m19 7l30 26m19 7l-31-26m19 7l31 26m19 7l-31-26m19 7l30 26m19 8l-30-27m19 7l30 27m19 7l-30-26m19 7l30 26m19 8l-30-27m19 7l29 27m19 7l-30-27m19 8l30 26m19 8l-30-27m19 7l30 27m18 8l-29-28m19 8l29 27m19 7l-29-27m19 7l29 28m19 7l-29-27m18 7l30 28m18 7l-29-28m19 8l29 28m19 7l-29-28m19 8l29 28m18 7l-28-28m19 8l28 28m19 7l-29-28m19 8l29 28m19 7l-29-28m19 8l28 28m19 8l-28-29m19 8l28 28m19 8l-29-28m19 7l28 29m19 7l-28-28m19 7l28 29m19 8l-28-29m19 8l27 29m19 7l-28-28m19 7l28 29m19 8l-28-29m19 8l27 29m19 8l-27-29m18 8l28 29m18 8l-27-30m19 8l27 29m19 8l-27-29m18 8l28 29m18 8l-27-29m19 8l27 29m19 8l-27-29m19 8l26 29m19 8l-27-29m19 8l27 29m18 8l-26-29m19 8l26 29m19 9l-27-30m19 8l26 30m19 8l-26-30m18 8l27 30m18 8l-26-30m19 9l26 29m19 9l-26-30m18 8l26 30m19 8l-26-30m19 8l25 30m19 9l-26-30m19 8l26 30m18 8l-25-30m18 9l26 30m18 8l-25-30m19 8l25 30m19 9l-26-30m19 8l25 30m19 9l-25-30m18 8l25 30m19 9l-25-30m19 8l24 30"/>
<path fill="#018129" d="M1472 624l82 30 31 24-82-29z"/>
<path fill="#00832a" d="M1548 652l82 29 30 26-82-30z"/>
<path fill="#00842b" d="M1624 679l82 30 30 26-82-30z"/>
<path fill="#00852c" d="M1700 707l82 31 30 26-83-31z"/>
<path fill="#00872d" d="M1775 736l83 30 29 27-82-31z"/>
<path fill="#00882e" d="M1851 764l83 31 29 27-82-31z"/>
<path fill="#00892f" d="M1927 793l82 31 29 27-82-31z"/>
<path fill="#008a30" d="M2003 822l82 32 29 27-82-31z"/>
<path fill="#008b31" d="M2079 852l82 32 28 27-82-32z"/>
<path fill="#008c32" d="M2154 882l82 32 28 28-82-33z"/>
<path fill="#008d33" d="M2230 912l82 32 28 29-82-33z"/>
<path fill="#008e34" d="M2305 942l83 33 27 29-82-33z"/>
<path fill="#008f35" d="M2381 973l82 33 27 29-82-33z"/>
<path fill="#009036" d="M2456 1004l82 34 27 29-82-34z"/>
<path fill="#009138" d="M2532 1036l82 34 26 29-81-35z"/>
<path fill="#009239" d="M2607 1068l82 34 26 29-81-35z"/>
<path fill="#00933a" d="M2682 1100l82 35 26 28-81-34z"/>
<path fill="#00933b" d="M2758 1132l81 35 26 29-82-35z"/>
<path fill="#00943d" d="M2833 1165l81 36 25 29-81-36z"/>
<path fill="#00953e" d="M2908 1198l81 36 25 29-81-36z"/>
<path fill="#00963f" d="M2983 1232l81 36 25 29-81-36z"/>
<path class="m" d="M1490 637l76 28 76 28 76 28 76 29 75 28 76 29 76 30 75 29 76 30 75 31 76 30 75 31 75 31 75 32 76 32 75 32 75 33 75 32 75 34 74 33 75 34m-1567-632l76 28 75 28 76 28 76 29 75 29 76 29 75 30 76 30 75 30 75 30 76 31 75 31 75 31 75 32 75 32 75 32 75 33 75 32 74 34 75 33 75 34m-1611-669l31 23m19 7l-31-23m19 6l31 24m19 7l-31-24m19 7l31 24m19 7l-31-24m19 7l31 24m18 7l-30-24m19 7l30 24m19 7l-30-24m19 7l30 24m19 7l-30-24m19 7l30 24m19 8l-30-25m19 7l30 25m19 7l-30-25m19 7l30 25m18 7l-29-25m19 8l29 25m19 7l-30-25m19 7l30 25m19 7l-30-25m19 7l30 26m19 7l-30-25m19 7l30 25m19 8l-30-26m19 7l29 26m19 7l-29-25m19 7l29 26m19 7l-29-26m19 8l29 26m19 7l-29-26m19 8l29 26m18 7l-28-26m19 8l28 26m19 7l-29-26m19 8l29 26m19 7l-29-26m19 8l29 26m18 8l-28-27m19 8l28 26m19 8l-28-27m19 8l28 26m19 8l-28-26m19 7l28 27m18 8l-28-27m19 8l28 26m19 8l-28-27m19 8l28 27m19 8l-28-27m19 8l27 27m19 7l-27-27m19 8l27 27m19 8l-28-27m19 8l27 27m19 8l-27-27m19 8l27 27m19 8l-27-27m19 8l27 27m18 8l-27-27m19 7l27 28m19 8l-27-28m19 9l27 27m18 8l-26-27m18 8l27 27m19 8l-27-27m19 8l26 27m19 8l-26-27m19 8l26 28m19 8l-27-28m19 9l26 27m19 8l-26-27m19 8l26 27m18 9l-25-28m18 9l26 27m19 8l-26-27m19 8l25 28m19 8l-25-27m18 8l26 27m18 9l-25-28m19 9l25 27m19 9l-26-28m19 9l25 27m19 9l-25-28m19 9l25 27"/>
<path fill="#087120" d="M1441 603l83 29 30 23-82-30z"/>
<path fill="#087321" d="M1517 630l83 29 30 23-83-29z"/>
<path fill="#077522" d="M1593 657l83 30 30 23-83-29z"/>
<path fill="#067723" d="M1669 685l83 30 30 24-83-30z"/>
<path fill="#057924" d="M1745 713l83 30 30 24-83-30z"/>
<path fill="#047b25" d="M1822 741l82 31 29 24-82-30z"/>
<path fill="#037c26" d="M1898 770l82 31 29 25-82-32z"/>
<path fill="#027e27" d="M1974 799l82 31 29 25-82-31z"/>
<path fill="#018028" d="M2050 828l82 32 28 25-82-32z"/>
<path fill="#00822a" d="M2126 858l82 32 28 25-82-32z"/>
<path fill="#00832b" d="M2201 888l83 32 28 26-82-33z"/>
<path fill="#00842c" d="M2277 918l83 33 27 26-82-33z"/>
<path fill="#00852d" d="M2353 949l82 33 28 26-82-33z"/>
<path fill="#00862e" d="M2429 980l82 33 27 26-82-33z"/>
<path fill="#00862f" d="M2505 1011l82 34 26 26-82-34z"/>
<path fill="#008730" d="M2580 1043l82 34 27 26-82-34z"/>
<path fill="#008831" d="M2656 1075l82 35 26 26-82-35z"/>
<path fill="#008932" d="M2731 1107l82 35 26 27-82-35z"/>
<path fill="#008934" d="M2807 1140l81 36 26 26-82-36z"/>
<path fill="#008a35" d="M2882 1173l82 36 25 27-82-36z"/>
<path fill="#008b36" d="M2957 1207l82 36 25 27-82-37z"/>
<path class="m" d="M1459 615l77 27 76 28 76 27 76 29 76 28 75 29 76 29 76 29 76 30 76 30 75 31 76 30 76 31 75 32 76 32 75 32 75 32 76 33 75 33 75 34 75 34m-1573-629l76 27 76 28 76 28 76 28 75 29 76 29 76 29 76 30 75 30 76 30 76 30 75 31 76 31 75 32 75 31 75 33 76 32 75 33 75 33 75 34 75 34m-1617-664l31 22m19 7l-31-22m19 7l31 21m19 7l-31-22m19 7l31 22m19 7l-31-22m19 7l31 22m19 7l-31-22m19 7l31 22m19 7l-31-22m19 6l31 23m19 7l-31-23m19 7l31 23m19 7l-31-23m19 7l31 23m19 7l-30-23m19 7l30 23m19 7l-30-23m19 7l30 24m18 7l-29-23m19 7l29 23m19 7l-29-23m19 7l29 23m19 8l-29-24m19 7l29 24m19 7l-29-23m19 7l29 23m19 8l-29-24m19 7l29 24m19 7l-29-23m19 7l29 24m19 7l-29-24m19 8l29 24m19 7l-29-24m19 7l29 25m18 7l-28-24m19 7l28 25m19 7l-28-24m19 7l28 25m19 7l-28-24m19 7l28 25m19 7l-28-24m18 7l29 25m19 8l-29-25m19 8l29 24m18 8l-28-25m19 8l28 25m19 7l-28-24m19 7l28 25m19 8l-28-25m19 8l28 25m19 7l-28-24m19 7l28 25m18 8l-27-25m19 8l27 25m19 8l-27-25m19 8l27 25m19 8l-28-25m19 8l28 25m18 8l-27-25m19 7l27 25m19 8l-27-25m19 8l27 26m19 8l-27-25m19 8l26 25m19 8l-26-25m18 8l27 25m19 8l-27-25m19 8l27 25m18 8l-26-25m19 8l26 26m19 8l-26-25m19 8l26 25m19 8l-27-25m19 8l26 26m19 8l-26-25m19 8l26 25m19 9l-26-26m18 9l26 25m19 8l-26-25m19 9l26 25m18 8l-25-25m19 9l25 25m19 8l-26-25m19 9l26 25"/>
<path fill="#0e6118" d="M1410 583l83 29 30 21-83-29z"/>
<path fill="#0e6319" d="M1486 610l83 29 30 21-82-29z"/>
<path fill="#0d6519" d="M1562 637l83 29 31 22-83-30z"/>
<path fill="#0d671a" d="M1639 664l83 30 30 22-83-30z"/>
<path fill="#0c681b" d="M1715 692l83 30 30 22-83-30z"/>
<path fill="#0b6a1c" d="M1792 720l83 30 29 23-83-31z"/>
<path fill="#0b6c1d" d="M1868 748l83 31 29 23-83-31z"/>
<path fill="#0a6d1e" d="M1944 777l83 31 29 23-83-31z"/>
<path fill="#096f1f" d="M2020 806l83 32 29 23-83-32z"/>
<path fill="#087120" d="M2097 836l82 32 29 23-83-32z"/>
<path fill="#067321" d="M2173 865l83 33 28 23-83-32z"/>
<path fill="#057423" d="M2249 896l83 32 27 24-82-33z"/>
<path fill="#047624" d="M2325 926l83 33 27 24-82-33z"/>
<path fill="#037825" d="M2401 957l83 34 27 23-83-33z"/>
<path fill="#017a26" d="M2477 988l82 34 27 24-82-34z"/>
<path fill="#007b28" d="M2553 1020l82 34 27 24-82-34z"/>
<path fill="#007c29" d="M2629 1052l82 35 26 24-82-35z"/>
<path fill="#007c2a" d="M2704 1085l83 35 26 24-82-36z"/>
<path fill="#007d2b" d="M2780 1117l82 36 26 24-82-36z"/>
<path fill="#007d2c" d="M2856 1151l82 36 25 23-82-36z"/>
<path fill="#007e2d" d="M2931 1184l82 37 25 23-81-36z"/>
<path class="m" d="M1428 594l77 27 76 27 76 28 76 28 77 28 76 28 76 29 76 29 76 30 76 30 76 30 76 31 76 31 76 31 76 32 75 32 76 32 75 33 76 33 75 34 75 34m-1578-627l76 27 76 28 76 27 77 28 76 29 76 28 76 29 76 30 76 29 76 30 75 31 76 30 76 31 76 32 75 31 76 33 75 32 76 33 75 33 75 34 75 34m-1622-659l31 20m19 7l-31-20m19 7l31 20m19 6l-31-20m19 7l31 20m19 7l-31-20m19 7l31 20m19 7l-31-21m20 7l30 21m19 7l-30-21m19 7l30 20m19 7l-30-20m19 7l30 20m19 7l-30-21m19 7l30 21m20 7l-31-21m19 7l31 21m19 7l-31-21m20 7l30 21m19 8l-30-22m19 7l30 22m19 7l-30-22m19 8l30 21m19 7l-30-21m19 7l30 21m19 8l-30-22m19 7l30 22m19 7l-30-22m19 8l30 21m19 8l-30-22m19 7l30 22m19 7l-29-22m19 8l29 22m19 7l-29-22m19 7l29 22m19 8l-29-22m19 7l29 22m19 8l-29-22m19 7l29 22m19 8l-29-22m19 7l29 22m19 8l-29-22m19 7l28 22m19 8l-28-22m19 7l28 23m19 7l-28-22m19 7l28 23m19 8l-28-23m19 8l28 22m19 8l-28-23m19 8l28 23m19 8l-28-23m19 8l28 22m19 8l-28-23m19 8l28 23m19 8l-28-23m19 8l28 23m18 8l-27-23m19 8l27 23m19 8l-27-23m19 8l27 22m19 8l-27-22m19 8l27 22m19 9l-27-23m19 8l27 23m19 8l-27-23m19 8l26 23m19 8l-26-23m18 8l27 23m19 8l-27-23m19 9l27 22m19 9l-27-23m19 8l27 23m18 8l-26-23m19 9l26 22m19 9l-26-23m19 8l26 23m19 8l-26-22m18 8l26 23m19 8l-26-22m19 8l26 23m19 8l-26-23m19 9l26 23m18 8l-25-22m19 8l25 23"/>
<path fill="#135010" d="M1378 565l84 28 30 19-83-28z"/>
<path fill="#135211" d="M1455 591l83 29 31 20-83-30z"/>
<path fill="#125412" d="M1532 618l83 29 30 20-83-30z"/>
<path fill="#125612" d="M1608 645l84 30 30 20-83-30z"/>
<path fill="#115713" d="M1685 673l83 30 30 20-83-30z"/>
<path fill="#115914" d="M1762 701l83 30 29 20-83-30z"/>
<path fill="#105a15" d="M1838 729l83 30 30 21-83-31z"/>
<path fill="#0f5c16" d="M1915 757l83 31 29 21-83-31z"/>
<path fill="#0e5d17" d="M1991 786l83 32 29 21-83-32z"/>
<path fill="#0e5f17" d="M2068 816l83 31 28 22-83-33z"/>
<path fill="#0d6018" d="M2144 845l83 33 28 21-82-33z"/>
<path fill="#0b6219" d="M2220 875l83 33 28 21-82-33z"/>
<path fill="#0a631b" d="M2297 906l83 33 27 21-82-33z"/>
<path fill="#09651c" d="M2373 937l83 33 27 22-82-34z"/>
<path fill="#08661d" d="M2449 968l83 34 27 21-82-34z"/>
<path fill="#07671e" d="M2525 1000l83 34 27 21-82-34z"/>
<path fill="#05691f" d="M2601 1032l83 35 27 21-83-35z"/>
<path fill="#046a20" d="M2677 1064l83 35 26 22-82-36z"/>
<path fill="#026b21" d="M2753 1097l83 36 26 21-82-36z"/>
<path fill="#016c22" d="M2829 1130l82 37 26 21-82-37z"/>
<path fill="#006d23" d="M2905 1164l82 37 26 21-82-37z"/>
<path class="m" d="M1397 575l77 27 76 27 77 27 76 27 77 28 76 29 77 28 76 29 76 30 77 30 76 30 76 30 76 31 76 31 76 32 76 32 76 33 76 33 76 33 75 34 76 34m-1584-626l76 27 77 27 76 28 76 27 77 28 76 29 76 29 77 29 76 29 76 30 76 30 76 31 76 31 76 31 76 32 76 32 75 32 76 33 76 33 75 34 76 34m-1629-654l32 18m19 7l-31-18m19 6l31 19m19 6l-31-18m19 7l31 18m19 7l-31-19m20 7l30 19m19 6l-30-18m19 6l31 19m19 7l-31-19m19 7l31 19m19 7l-31-19m19 7l31 19m19 6l-30-19m19 7l30 19m19 7l-30-19m19 7l30 19m19 7l-30-19m19 7l31 19m19 7l-30-19m19 7l30 19m19 7l-30-19m19 7l30 20m19 7l-30-20m19 7l30 20m19 7l-30-20m20 7l29 20m19 7l-29-19m19 7l29 20m19 7l-29-20m19 7l29 20m20 7l-30-20m19 8l30 20m19 7l-30-20m20 7l29 20m19 8l-29-20m19 7l29 20m19 8l-29-21m19 8l29 20m19 8l-29-21m19 8l29 20m19 8l-29-21m19 8l29 20m19 8l-28-21m19 8l28 20m19 8l-28-21m19 8l28 20m19 8l-28-20m19 7l28 21m19 7l-28-20m19 8l28 20m19 8l-28-21m19 8l28 21m19 7l-28-20m19 8l28 20m19 8l-28-20m19 8l28 20m19 8l-28-21m19 8l28 21m19 8l-27-21m19 8l27 21m19 8l-27-21m19 8l27 21m19 8l-27-21m19 8l27 21m19 8l-27-21m19 8l27 21m19 8l-27-20m19 8l26 20m19 8l-26-20m19 8l26 21m19 8l-26-21m19 9l26 20m19 8l-27-20m19 8l27 21m19 8l-27-20m19 8l27 20m19 9l-27-21m19 9l26 20m19 9l-26-21m19 9l26 20m19 8l-26-20m19 9l26 20m19 9l-26-21m19 9l26 20"/>
<path fill="#143d09" d="M1347 549l84 28 30 17-83-29z"/>
<path fill="#143f0a" d="M1424 575l83 28 31 18-83-29z"/>
<path fill="#14410a" d="M1501 601l83 29 31 18-84-29z"/>
<path fill="#14420b" d="M1578 628l83 30 30 17-83-29z"/>
<path fill="#14440c" d="M1655 655l83 30 30 18-83-30z"/>
<path fill="#13450c" d="M1731 683l84 30 30 19-84-31z"/>
<path fill="#13460d" d="M1808 711l84 31 29 18-83-31z"/>
<path fill="#12480e" d="M1885 740l83 31 30 18-84-31z"/>
<path fill="#12490e" d="M1962 768l83 32 29 19-83-32z"/>
<path fill="#114a0f" d="M2039 798l83 32 28 18-83-32z"/>
<path fill="#104b10" d="M2115 827l83 33 29 18-83-32z"/>
<path fill="#0f4c11" d="M2192 857l83 33 28 19-83-33z"/>
<path fill="#0e4d12" d="M2268 888l83 33 28 19-82-34z"/>
<path fill="#0d4e12" d="M2345 918l83 34 28 19-83-34z"/>
<path fill="#0c4f13" d="M2421 950l83 34 28 19-83-34z"/>
<path fill="#0b4f14" d="M2498 981l83 35 27 19-83-35z"/>
<path fill="#095015" d="M2574 1013l83 35 27 19-83-35z"/>
<path fill="#085015" d="M2650 1046l83 35 27 19-83-35z"/>
<path fill="#075016" d="M2727 1079l82 36 26 18-82-35z"/>
<path fill="#055017" d="M2803 1112l82 37 26 18-82-36z"/>
<path fill="#044f17" d="M2879 1146l82 37 26 18-82-36z"/>
<path class="m" d="M1366 558l77 26 76 27 77 27 77 27 77 28 76 28 77 29 77 29 76 29 77 29 76 31 77 30 76 31 76 31 77 32 76 32 76 32 76 33 76 34 76 33 76 35m-1590-625l77 27 77 26 76 28 77 27 77 28 76 28 77 29 76 29 77 29 76 30 77 30 76 30 76 31 76 32 77 31 76 32 76 33 76 33 75 33 76 34 76 34m-1634-650l31 16m20 7l-32-17m20 7l31 16m19 7l-31-17m19 7l31 17m19 6l-31-16m20 6l31 17m19 7l-31-17m19 7l31 16m19 7l-31-17m19 7l31 17m19 7l-30-17m19 7l30 17m20 6l-31-17m19 7l31 17m19 7l-30-17m19 7l30 17m19 7l-30-17m19 7l30 17m20 7l-31-17m20 7l30 17m19 7l-30-17m19 7l30 17m19 7l-30-17m19 7l30 17m19 7l-29-17m19 7l30 17m19 8l-30-18m19 7l30 18m19 7l-30-18m20 7l29 18m19 7l-29-17m19 7l29 18m19 7l-29-18m19 7l30 18m19 8l-29-18m19 7l29 18m19 7l-29-18m19 8l29 18m19 7l-29-18m19 8l29 18m19 7l-28-18m19 8l28 18m20 7l-29-18m19 8l29 18m19 7l-29-18m19 8l29 18m19 8l-29-18m20 7l28 18m19 8l-28-18m19 8l28 18m19 7l-28-18m19 8l28 18m19 8l-28-18m19 8l28 18m19 8l-28-19m20 8l27 19m19 7l-27-18m19 8l27 18m20 8l-28-18m19 8l28 18m19 8l-28-18m19 8l28 18m19 8l-28-18m19 8l28 18m19 8l-28-18m19 8l28 18m19 9l-28-19m20 9l27 18m19 8l-27-18m19 8l27 18m19 8l-27-18m19 8l27 19m18 8l-26-18m19 8l26 18m19 9l-26-19m19 9l26 18m19 8l-26-18m19 9l26 18m19 8l-26-18m19 9l26 18m19 8l-26-18m19 9l26 18m19 8l-26-18m19 9l26 18"/>
<path fill="#0f2304" d="M1316 534l83 28 31 15-83-28z"/>
<path fill="#102504" d="M1393 560l84 28 30 16-83-29z"/>
<path fill="#112704" d="M1470 586l84 29 30 16-83-29z"/>
<path fill="#112905" d="M1547 613l84 29 30 16-83-29z"/>
<path fill="#112a05" d="M1624 640l84 30 30 16-84-30z"/>
<path fill="#112b05" d="M1701 668l84 30 30 16-84-30z"/>
<path fill="#112c06" d="M1778 696l84 30 29 16-83-30z"/>
<path fill="#102d06" d="M1855 724l84 31 29 16-83-31z"/>
<path fill="#102e07" d="M1932 753l84 31 29 16-83-31z"/>
<path fill="#0f2e07" d="M2009 782l84 32 29 16-84-32z"/>
<path fill="#0e2f08" d="M2086 811l84 33 28 16-83-32z"/>
<path fill="#0d2f08" d="M2163 841l83 33 29 17-83-33z"/>
<path fill="#0d2e08" d="M2240 872l83 33 28 16-83-33z"/>
<path fill="#0b2e09" d="M2317 902l83 34 28 17-83-34z"/>
<path fill="#0a2d09" d="M2393 934l84 34 27 16-83-34z"/>
<path fill="#092c09" d="M2470 965l83 35 27 16-82-34z"/>
<path fill="#082a09" d="M2547 997l83 36 27 16-83-35z"/>
<path fill="#072709" d="M2623 1030l83 36 27 16-83-36z"/>
<path fill="#062409" d="M2700 1063l82 36 27 16-83-36z"/>
<path fill="#042008" d="M2776 1097l83 36 26 16-83-36z"/>
<path fill="#031b07" d="M2852 1130l83 38 26 15-82-37z"/>
<path class="m" d="M1335 542l77 26 77 27 77 27 77 27 77 28 76 28 77 28 77 29 77 29 77 29 77 30 76 31 77 31 77 31 76 32 77 32 76 32 76 33 76 34 77 34 76 34m-1595-624l77 26 77 27 77 27 77 27 77 28 76 28 77 28 77 29 77 29 76 30 77 30 77 30 76 31 77 31 76 32 76 32 77 33 76 32 76 34 76 34 76 34m-1639-647l31 15m19 6l-31-14m19 6l32 15m19 6l-31-14m19 6l31 15m19 7l-31-15m20 6l31 15m19 7l-31-15m19 7l31 15m19 6l-31-15m20 7l30 15m20 7l-31-15m19 6l31 16m19 6l-30-15m19 7l30 15m20 7l-31-15m19 7l31 15m19 7l-30-16m19 7l30 16m19 7l-30-16m19 7l31 16m19 7l-30-16m19 7l30 16m19 7l-30-16m19 7l30 16m20 7l-30-16m19 7l30 16m19 7l-30-16m20 7l29 16m19 7l-29-16m19 8l30 15m19 8l-30-16m19 7l30 16m19 7l-29-16m19 8l29 15m20 8l-30-16m19 7l30 16m19 7l-29-15m19 7l29 16m19 7l-29-16m19 8l29 16m20 7l-29-16m19 8l29 16m19 7l-29-16m19 8l29 16m19 7l-29-16m20 8l28 16m19 8l-28-17m19 8l29 16m19 8l-29-16m19 7l29 17m19 7l-28-16m19 8l28 16m19 8l-28-16m19 7l28 17m19 7l-28-16m20 8l28 16m19 8l-28-16m19 8l28 16m19 8l-28-16m19 8l28 16m19 8l-28-16m19 8l28 16m19 8l-27-16m19 8l27 16m19 8l-27-16m19 8l27 16m19 8l-27-16m19 9l28 16m19 8l-28-16m19 8l28 16m19 8l-27-16m19 9l27 15m19 9l-27-16m19 8l27 16m19 8l-27-15m19 8l27 16m19 8l-27-16m19 9l27 16m19 8l-27-16m19 9l27 16m19 8l-27-15m19 8l27 16m19 8l-27-15m19 8l27 16"/>
<path fill="#000000" d="M1284 521l84 28 31 13-84-28zM1362 547l84 28 30 14-83-29zM1439 573l84 29 31 14-84-29zM1516 600l84 29 31 14-84-30zM1594 627l84 30 30 13-84-30zM1671 654l84 30 30 14-84-30zM1748 682l84 31 30 14-84-31zM1825 710l84 31 30 14-84-31zM1903 739l83 31 30 14-84-31zM1980 768l84 32 29 14-84-32zM2057 798l84 32 28 14-83-32zM2134 827l84 33 28 14-83-32zM2211 858l84 33 28 14-83-33zM2288 889l84 33 28 15-83-34zM2365 920l84 34 27 14-83-34zM2442 952l83 34 28 14-83-34zM2519 984l83 35 27 14-83-35zM2596 1016l83 36 27 14-83-36zM2672 1050l83 36 27 13-83-36zM2749 1083l83 37 26 13-82-36zM2825 1117l83 37 27 14-83-37z"/>
<path class="m" d="M1303 529l77 26 78 26 77 26 77 28 77 27 77 28 78 28 77 29 77 29 77 30 77 29 77 31 77 31 76 31 77 32 77 32 77 32 76 33 77 34 76 34 76 34m-1599-624l77 26 77 27 77 26 77 28 77 27 77 28 78 28 76 29 77 29 77 30 77 30 77 30 77 31 77 31 76 32 77 32 76 33 77 33 76 33 76 34 76 34m-1644-644l32 13m19 7l-31-13m19 6l31 13m20 7l-31-13m19 6l31 13m19 7l-31-13m20 6l31 13m19 7l-31-13m19 6l31 14m19 6l-30-13m19 7l31 13m19 7l-31-14m20 7l30 13m20 7l-31-13m19 7l31 13m19 7l-30-14m19 7l30 14m20 6l-31-13m20 7l30 13m19 7l-30-13m19 7l30 13m20 7l-31-14m20 7l30 14m19 7l-30-14m19 7l30 14m20 7l-30-14m19 7l30 14m19 7l-30-14m20 8l30 13m19 7l-30-13m19 7l30 14m19 7l-29-14m19 7l29 14m20 7l-30-14m20 8l29 14m19 7l-29-14m19 7l29 14m20 8l-30-14m20 7l29 14m19 7l-29-14m19 8l29 14m20 7l-29-14m19 8l29 14m19 7l-29-14m19 8l29 14m19 7l-28-14m19 8l29 14m19 7l-29-13m19 7l29 14m19 8l-28-14m19 8l28 13m20 8l-29-14m19 8l29 14m19 8l-28-14m19 8l28 13m19 8l-28-14m19 8l29 14m19 8l-28-14m19 8l28 14m19 8l-28-14m19 8l28 14m19 8l-28-14m20 8l27 14m20 8l-28-14m19 8l28 14m19 8l-28-14m19 8l28 14m19 8l-27-13m19 8l27 14m19 8l-27-14m19 8l27 14m20 8l-28-13m19 8l28 14m19 8l-27-14m19 9l27 13m19 9l-27-14m19 9l27 13m19 8l-27-13m19 8l27 14m19 8l-27-13m20 9l26 13m19 9l-26-14m19 9l26 13m19 9l-26-14m19 9l26 13"/>
<path fill="#000000" d="M1253 510l84 28 31 11-84-28zM1330 536l85 28 30 12-83-29zM1408 562l84 29 31 11-84-29zM1485 589l85 29 30 11-84-29zM1563 615l84 30 30 12-83-30zM1641 643l84 30 30 12-84-31zM1718 671l84 30 30 12-84-31zM1796 699l84 31 29 11-84-31zM1873 727l84 32 29 12-83-32zM1950 756l84 32 30 12-84-32zM2028 786l84 32 29 12-84-32zM2105 816l84 33 29 11-84-32zM2182 846l84 34 29 11-84-33zM2260 877l83 34 29 12-84-34zM2337 908l83 35 28 11-83-34zM2414 940l83 35 28 12-83-35zM2491 972l83 36 28 11-83-35zM2568 1005l83 36 28 11-83-36zM2645 1038l83 37 27 11-83-36zM2722 1072l83 37 27 11-83-37zM2798 1106l83 38 27 11-83-38z"/>
<path class="m" d="M1272 517l77 26 78 26 77 26 78 27 77 27 77 28 78 28 77 29 77 29 78 30 77 30 77 30 77 31 77 31 77 32 77 32 77 33 77 33 76 34 77 34 77 34m-1605-625l78 26 77 26 78 27 77 27 77 28 77 27 78 29 77 28 77 29 77 30 77 30 77 30 77 31 77 31 77 32 77 32 77 33 76 33 77 34 77 34 76 34m-1649-641l31 10m20 7l-32-11m20 6l31 11m20 7l-32-11m20 6l31 11m19 7l-31-11m19 6l32 11m19 7l-31-11m19 6l31 11m20 7l-31-11m19 6l31 12m19 6l-31-11m20 7l31 11m19 7l-31-12m20 7l30 12m20 6l-31-11m19 7l31 11m19 7l-30-12m19 7l31 12m19 7l-31-12m20 7l30 12m19 6l-30-11m20 7l30 11m19 7l-30-11m19 7l30 11m20 7l-30-11m19 7l30 11m19 7l-30-11m20 7l30 12m19 7l-30-12m20 7l29 12m20 7l-30-12m19 8l30 11m19 7l-29-11m19 7l30 12m19 7l-30-12m20 8l29 11m19 8l-29-12m19 7l30 12m19 7l-29-11m19 7l29 12m20 7l-30-11m20 7l29 12m19 7l-29-11m19 7l29 12m20 7l-29-11m19 7l29 12m19 8l-29-12m20 7l28 12m20 8l-29-12m19 8l29 12m19 7l-28-11m19 7l28 12m20 8l-29-12m19 8l29 12m19 7l-28-11m19 8l28 11m20 8l-29-11m20 7l28 12m19 8l-28-12m19 8l28 12m19 8l-28-12m20 8l28 12m19 8l-28-11m19 8l28 11m19 8l-28-11m20 8l27 11m20 9l-28-12m19 8l28 12m19 8l-28-11m20 8l27 11m19 9l-27-12m19 9l27 11m20 8l-28-11m20 8l27 12m19 8l-27-11m19 8l27 12m19 8l-27-11m19 8l27 11m19 9l-27-11m20 9l27 11m19 8l-27-11m19 9l27 11m19 8l-27-11m19 9l27 11"/>
<path fill="#000000" d="M1221 501l85 28 31 9-84-28zM1299 527l84 28 32 9-85-28zM1377 553l84 29 31 9-84-29zM1455 579l84 29 31 10-85-29zM1532 606l85 30 30 9-84-30zM1610 633l84 30 31 10-84-30zM1688 661l84 31 30 9-84-31zM1766 689l84 31 30 10-84-31zM1843 718l84 31 30 10-84-32zM1921 747l84 32 29 9-84-32zM1998 776l85 33 29 9-84-32zM2076 806l84 33 29 10-84-33zM2154 837l83 33 29 10-84-34zM2231 867l84 35 28 9-83-34zM2308 899l84 34 28 10-83-35zM2386 931l83 35 28 9-83-35zM2463 963l84 36 27 9-83-36zM2540 996l84 36 27 9-83-36zM2617 1029l84 37 27 9-83-37zM2694 1063l84 37 27 9-83-37zM2771 1097l83 38 27 9-82-38z"/>
<path class="m" d="M1240 507l78 25 78 26 77 27 78 27 78 27 77 28 78 28 77 28 78 29 77 30 78 30 77 30 78 31 77 32 77 31 77 33 77 33 77 33 77 34 77 34 77 35m-1609-626l78 25 77 26 78 27 77 27 78 27 77 28 78 28 77 29 78 29 77 29 77 30 78 30 77 31 77 32 77 31 77 33 77 32 77 34 77 33 77 35 76 34m-1653-640l31 10m19 6l-31-9m20 6l31 9m19 7l-31-9m19 6l32 9m19 7l-31-10m19 7l31 9m20 7l-31-10m19 7l31 9m20 7l-31-10m19 7l31 9m19 7l-30-9m19 6l31 10m19 6l-31-9m20 7l31 9m19 7l-31-10m20 7l30 10m20 6l-31-9m20 7l30 9m19 7l-30-9m19 6l31 10m19 7l-30-10m19 7l31 10m19 7l-30-10m19 7l30 10m20 7l-30-10m19 7l30 10m19 7l-30-10m20 7l30 10m19 7l-30-10m20 8l30 9m19 7l-30-9m20 7l29 10m20 7l-30-10m19 7l30 10m19 7l-29-9m19 7l30 10m19 7l-29-10m19 8l29 9m20 8l-30-10m20 7l29 10m19 8l-29-10m20 7l29 10m19 8l-29-10m19 7l29 10m20 8l-29-10m19 8l29 9m19 8l-29-10m20 8l29 9m19 8l-29-9m20 7l28 10m20 8l-29-10m19 8l29 9m19 8l-28-9m19 7l28 10m20 8l-29-10m20 8l28 10m19 8l-28-10m19 8l29 9m19 8l-28-9m19 8l28 9m19 8l-28-9m20 8l28 9m19 9l-28-10m19 8l28 10m19 8l-27-9m19 8l28 9m19 8l-28-9m19 8l28 9m19 9l-27-10m19 9l28 9m19 8l-28-9m20 9l27 9m19 8l-27-9m19 8l28 9m19 9l-28-9m20 8l27 9m19 9l-27-9m19 8l27 9m19 9l-27-9m20 9l27 9m19 8l-27-9m19 9l27 9m19 8l-27-8m19 9l27 8"/>
<path fill="#000000" d="M1190 494l84 28 32 7-85-28zM1268 520l84 28 32 7-85-28zM1346 545l84 29 31 7-84-28zM1424 572l84 29 31 7-84-29zM1502 599l84 29 31 7-85-29zM1580 626l84 30 30 7-84-30zM1658 653l84 31 30 7-84-30zM1736 682l84 31 30 7-84-31zM1813 710l85 32 29 7-84-32zM1891 739l85 32 29 8-84-33zM1969 769l84 32 30 8-84-33zM2047 799l84 33 29 7-84-33zM2125 829l84 34 29 7-84-34zM2202 860l84 34 29 7-84-34zM2280 892l84 34 28 7-83-34zM2357 924l84 35 29 7-84-36zM2435 956l84 36 28 6-84-35zM2512 989l84 36 28 7-84-36zM2590 1022l83 37 28 7-84-37zM2667 1056l83 38 28 6-83-37zM2744 1091l83 38 28 6-84-38z"/>
<path class="m" d="M1209 499l78 25 78 26 78 26 77 27 78 27 78 28 78 28 78 29 77 29 78 29 78 30 77 31 78 31 77 31 78 32 77 33 78 32 77 34 77 34 77 34 77 35m-1613-628l77 26 78 26 78 26 78 27 77 27 78 28 78 28 78 29 77 29 78 29 77 30 78 31 77 31 78 31 77 32 77 32 77 33 78 34 77 33 77 35 76 35m-1658-639l32 7m19 7l-31-8m19 7l32 7m19 7l-31-8m19 7l31 7m20 6l-31-7m19 7l31 7m20 6l-31-7m19 7l31 7m20 6l-31-7m19 7l31 7m20 7l-31-8m19 7l31 7m19 7l-30-7m19 6l31 8m19 6l-30-7m19 7l31 7m19 7l-30-8m19 7l31 8m19 7l-30-8m19 7l30 7m20 7l-31-7m20 7l30 7m20 7l-31-7m20 7l30 7m20 7l-31-7m20 7l30 7m19 7l-30-7m20 7l30 7m19 7l-30-7m20 7l30 8m19 7l-30-8m20 7l30 8m19 7l-30-7m20 7l29 7m20 8l-30-8m20 7l29 8m20 7l-30-7m19 7l30 8m19 7l-29-8m19 8l30 7m19 8l-29-8m19 8l30 7m19 8l-29-8m19 8l29 7m20 8l-29-8m19 8l29 8m19 7l-29-7m20 7l29 8m19 8l-29-8m20 8l29 7m19 8l-29-7m20 7l28 8m20 8l-29-8m19 8l29 7m19 8l-28-7m19 8l29 7m19 8l-28-7m19 8l28 7m20 8l-29-7m20 8l28 7m19 8l-28-7m19 8l29 7m19 8l-28-7m19 8l28 7m20 9l-29-8m20 9l28 7m19 8l-28-7m20 8l27 7m20 8l-28-6m19 8l28 7m19 8l-27-7m19 9l28 7m19 8l-28-7m19 9l28 6m19 9l-27-7m19 9l28 6m19 9l-28-7m20 9l27 6m19 9l-27-7m19 9l28 7m19 8l-27-6m19 9l27 6m19 9l-27-7m19 9l27 7"/>
<path fill="#000000" d="M1158 489l85 28 32 5-85-28zM1237 514l84 28 32 5-85-28zM1315 540l84 29 31 5-84-29zM1393 566l85 30 30 5-84-30zM1471 593l85 30 30 5-84-30zM1549 620l85 30 30 6-84-31zM1627 648l85 31 30 5-84-31zM1705 676l85 31 30 5-84-31zM1784 705l84 31 30 5-84-31zM1862 734l84 32 30 5-85-32zM1940 763l84 33 29 5-84-33zM2018 793l84 34 29 5-84-34zM2095 824l85 34 29 4-84-33zM2173 855l85 34 28 5-84-34zM2251 887l84 34 29 5-84-35zM2329 919l84 35 28 4-83-35zM2407 951l84 36 28 4-84-35zM2484 984l84 37 28 4-83-37zM2562 1018l84 37 27 4-83-37zM2639 1052l84 38 28 3-84-37zM2717 1087l83 38 28 3-84-38z"/>
<path class="m" d="M1178 492l78 26 78 26 78 26 78 27 78 27 78 28 78 28 78 28 78 29 78 30 78 30 77 30 78 31 78 32 77 32 78 33 78 33 77 33 77 34 78 35 77 35m-1618-630l78 26 78 26 78 26 78 27 78 27 78 28 78 28 78 28 78 29 77 30 78 30 78 30 78 31 77 32 78 32 77 32 78 33 77 34 77 34 77 34 77 35m-1662-637l31 5m20 6l-32-5m20 6l31 6m20 6l-32-5m20 6l31 6m20 6l-32-5m20 6l31 6m20 6l-31-5m19 6l31 6m20 6l-31-5m19 6l31 6m20 6l-31-5m19 6l31 6m20 7l-31-6m19 7l31 5m20 7l-31-6m19 7l31 6m20 6l-31-5m19 7l31 5m20 7l-31-6m20 7l30 6m19 7l-30-6m20 7l30 6m19 7l-30-6m20 7l30 6m19 7l-30-6m20 7l30 6m19 7l-30-6m20 7l30 6m19 7l-30-6m20 7l30 6m19 7l-30-5m20 7l30 5m19 8l-30-6m20 7l30 6m19 7l-30-5m20 7l30 5m19 8l-30-6m20 8l29 5m20 7l-30-5m20 7l29 6m20 7l-30-5m20 7l29 6m20 7l-30-5m20 8l29 5m20 7l-30-5m20 8l29 5m19 8l-29-6m20 8l29 5m19 8l-29-5m20 8l29 5m19 8l-29-6m20 8l29 5m19 8l-29-5m20 8l28 5m20 8l-29-5m19 8l29 5m20 8l-29-5m19 8l29 5m19 8l-28-5m19 8l29 5m19 8l-28-5m19 8l28 5m20 8l-29-5m20 8l28 5m19 8l-28-4m20 8l28 5m19 8l-28-5m20 8l28 5m19 9l-28-5m19 8l28 5m20 8l-28-4m19 8l28 5m19 8l-28-5m20 9l27 5m20 8l-28-4m19 8l28 5m19 8l-27-4m19 8l28 5m19 8l-27-4m19 9l27 4m20 9l-28-4m20 8l27 5m19 8l-27-4m19 9l27 4"/>
<path fill="#000000" d="M1127 485l85 28 31 3-84-28zM1205 511l85 28 31 3-84-28zM1284 537l85 28 31 3-85-28zM1362 563l85 29 31 3-85-29zM1440 590l85 29 31 3-85-29zM1519 617l84 30 31 3-85-30zM1597 645l85 30 30 3-84-31zM1675 673l85 31 30 3-84-31zM1754 701l84 32 30 3-84-32zM1832 730l84 33 30 2-84-32zM1910 760l85 33 29 3-84-33zM1988 790l85 34 29 2-84-33zM2066 821l85 34 29 2-84-34zM2144 852l85 34 29 3-84-35z"/>
<path fill="#060200" d="M2222 884l85 35 29 2-85-35z"/>
<path fill="#0d0401" d="M2300 916l85 35 28 2-84-35z"/>
<path fill="#140701" d="M2378 948l84 37 29 2-84-37z"/>
<path fill="#1b0b02" d="M2456 982l84 36 28 2-83-36z"/>
<path fill="#231003" d="M2534 1015l84 38 28 1-84-37z"/>
<path fill="#2a1504" d="M2611 1050l84 38 28 1-83-38z"/>
<path fill="#311b06" d="M2689 1084l84 39 27 1-83-38z"/>
<path class="m" d="M1146 488l78 25 79 26 78 26 78 27 78 27 79 28 78 28 78 29 78 29 78 30 78 30 78 30 78 31 78 32 78 32 78 33 77 33 78 34 78 34 77 34 77 36m-1621-632l78 25 78 26 78 26 78 27 79 27 78 28 78 28 78 29 78 29 78 29 78 31 78 30 78 31 77 32 78 32 78 32 78 33 77 34 77 34 78 35 77 35m-1667-637l32 4m19 6l-31-3m20 6l31 3m19 7l-31-4m20 7l31 3m19 7l-31-4m20 7l31 3m20 7l-32-4m20 7l31 3m20 7l-31-4m19 7l31 3m20 7l-31-4m19 7l31 3m20 7l-31-4m20 7l30 4m20 6l-31-3m20 7l30 3m20 7l-31-4m20 7l30 4m20 6l-31-3m20 7l31 3m19 7l-30-3m19 7l31 3m19 7l-30-3m19 7l31 3m19 7l-30-3m20 7l30 3m19 7l-30-3m20 7l30 3m19 7l-30-3m20 7l30 3m19 8l-30-4m20 7l30 4m19 7l-30-3m20 7l30 3m19 8l-29-4m19 7l30 4m19 7l-29-3m19 7l30 4m19 7l-29-3m19 7l30 3m19 8l-29-3m19 7l30 3m19 8l-29-3m20 7l29 4m19 7l-29-3m20 8l29 3m19 7l-29-3m20 8l29 3m19 8l-29-3m20 7l29 4m19 7l-29-3m20 8l29 3m19 8l-29-3m20 8l29 3m19 8l-29-3m20 8l28 3m20 8l-29-3m20 8l28 3m20 8l-29-3m20 8l28 3m20 8l-29-3m20 8l28 3m19 8l-28-3m20 9l28 2m19 9l-28-3m19 8l29 3m19 8l-28-3m19 9l29 2m19 9l-28-3m19 9l28 2m20 9l-28-3m19 9l28 2m19 8l-27-2m19 9l28 2m19 9l-28-3m20 9l27 2m20 9l-28-3m20 9l27 2m20 9l-28-2m19 9l28 2m19 9l-27-3m19 9l28 2m19 9l-28-2m20 9l27 2"/>
<path fill="#100101" d="M1096 484l85 28 31 1-85-28z"/>
<path fill="#130101" d="M1174 509l85 29 31 0-84-28z"/>
<path fill="#160101" d="M1253 535l85 29 31 1-85-29z"/>
<path fill="#190201" d="M1331 561l85 30 31 0-85-29z"/>
<path fill="#1c0201" d="M1410 588l85 30 30 1-84-30z"/>
<path fill="#1f0301" d="M1488 615l85 31 31 0-85-30z"/>
<path fill="#230301" d="M1567 643l85 31 30 1-85-31z"/>
<path fill="#270402" d="M1645 671l85 32 30 0-84-31z"/>
<path fill="#2b0402" d="M1724 700l84 32 31 0-85-31z"/>
<path fill="#2f0502" d="M1802 729l85 33 30 0-85-32z"/>
<path fill="#340602" d="M1880 759l85 33 30 0-85-33z"/>
<path fill="#380702" d="M1959 789l84 34 30 0-84-34z"/>
<path fill="#3d0903" d="M2037 820l85 34 29 0-84-34z"/>
<path fill="#420c03" d="M2115 851l85 35 29 0-84-35z"/>
<path fill="#470f04" d="M2194 883l84 35 29 0-84-35z"/>
<path fill="#4d1304" d="M2272 915l84 36 29 0-84-36z"/>
<path fill="#521705" d="M2350 948l84 36 29 0-84-36z"/>
<path fill="#581c06" d="M2428 981l84 37 28 0-84-37z"/>
<path fill="#5d2207" d="M2506 1015l84 38 28-1-84-37z"/>
<path fill="#632808" d="M2584 1050l83 38 29-1-84-38z"/>
<path fill="#682f0a" d="M2661 1085l84 38 28-1-84-38z"/>
<path class="m" d="M1115 485l78 26 79 26 78 26 78 27 79 27 78 28 79 28 78 28 78 30 79 29 78 30 78 31 78 31 78 32 78 32 78 33 78 33 78 34 78 34 77 35 78 36m-1626-635l79 26 78 26 78 26 79 27 78 27 78 28 79 28 78 28 78 29 78 30 79 30 78 31 78 31 78 32 78 32 78 33 77 33 78 34 78 34 77 35 78 35m-1671-636l31 1m20 7l-31-2m19 6l32 2m19 6l-31-1m20 6l31 2m19 6l-31-1m20 6l31 2m19 6l-31-1m20 6l31 2m20 6l-31-1m19 6l31 2m20 6l-31-1m20 6l30 2m20 6l-31-1m20 7l31 1m19 7l-31-2m20 7l31 2m19 6l-30-1m19 7l31 1m19 7l-30-2m20 7l30 2m20 7l-31-2m20 7l30 2m20 7l-31-2m20 7l30 2m20 7l-30-2m19 7l31 2m19 7l-30-2m20 7l30 2m19 7l-30-2m20 8l30 1m19 7l-30-1m20 7l30 1m19 8l-29-2m19 8l30 1m20 7l-30-1m19 7l30 1m20 8l-30-1m20 7l29 1m20 8l-30-2m20 8l29 1m20 8l-30-2m20 8l29 1m20 8l-29-1m19 7l30 1m19 8l-29-1m19 7l30 2m19 7l-29-1m19 8l30 1m19 8l-29-1m20 7l29 1m19 8l-29-1m20 8l29 1m19 8l-29-1m20 8l29 1m19 8l-29-1m20 8l29 1m19 8l-29-1m20 8l29 1m19 8l-28-1m19 8l29 1m19 8l-28-1m19 8l29 1m19 8l-28 0m19 8l29 1m19 8l-28-1m19 9l28 0m20 8l-28 0m19 8l28 1m20 8l-28 0m19 8l28 1m20 8l-28 0m19 8l28 1m20 8l-29 0m20 8l28 1m19 8l-28 0m20 9l28 0m19 8l-28 0m20 9l28 0m19 9l-28 0m20 9l27 0m20 8l-28 0m19 9l28 0m19 9l-27 0m19 9l28 0"/>
<path fill="#440303" d="M1064 485l85 27 32-1-85-28z"/>
<path fill="#460303" d="M1143 510l85 28 31-1-85-28z"/>
<path fill="#480303" d="M1222 536l85 29 31-2-85-29z"/>
<path fill="#4b0303" d="M1300 562l85 29 31-1-85-29z"/>
<path fill="#4d0403" d="M1379 589l85 30 31-2-85-30z"/>
<path fill="#4f0403" d="M1458 616l85 30 30-1-84-30z"/>
<path fill="#520503" d="M1536 644l85 31 31-2-85-31z"/>
<path fill="#550503" d="M1615 672l85 31 30-1-84-32z"/>
<path fill="#590603" d="M1694 701l85 32 30-2-85-32z"/>
<path fill="#5c0704" d="M1772 730l85 33 30-2-85-33z"/>
<path fill="#600904" d="M1851 760l85 33 30-2-85-33z"/>
<path fill="#630a04" d="M1929 790l85 34 30-2-85-34z"/>
<path fill="#670c04" d="M2008 821l85 34 29-2-84-34z"/>
<path fill="#6c0d05" d="M2086 852l85 35 29-2-84-35z"/>
<path fill="#701005" d="M2165 884l84 36 29-3-84-35z"/>
<path fill="#741406" d="M2243 917l84 35 29-2-84-36z"/>
<path fill="#791906" d="M2321 949l85 37 28-3-84-36z"/>
<path fill="#7e1f07" d="M2399 983l85 37 28-3-84-37z"/>
<path fill="#832508" d="M2477 1017l85 38 28-3-84-38z"/>
<path fill="#872d09" d="M2556 1052l84 38 28-3-84-38z"/>
<path fill="#8c350b" d="M2633 1087l84 39 29-4-84-38z"/>
<path class="m" d="M1083 485l79 25 79 26 78 26 79 27 78 27 79 28 78 28 79 29 78 29 79 30 78 30 79 31 78 31 78 32 79 33 78 32 78 34 78 34 78 34 78 35 77 36m-1629-637l79 25 78 26 79 26 78 27 79 27 78 28 79 28 78 29 78 29 79 30 78 30 78 31 79 31 78 32 78 32 78 33 78 33 78 34 78 35 78 35 77 35m-1674-636l31 0m20 6l-32 1m20 6l31-1m20 7l-31 0m19 7l32-1m19 7l-31 0m20 7l31-1m19 7l-31 0m20 6l31 0m20 7l-31 0m19 7l31-1m20 7l-31 0m20 7l31-1m19 7l-31 0m20 7l31 0m19 6l-30 1m19 7l31-1m20 7l-31 0m20 7l30 0m20 6l-31 1m20 7l31-1m19 7l-30 1m19 7l31-1m19 7l-30 1m20 7l30-1m20 7l-31 1m20 7l30-1m20 7l-30 1m19 7l31-1m19 7l-30 1m20 7l30 0m19 7l-30 0m20 8l30-1m20 7l-30 1m19 7l30 0m20 7l-30 1m20 7l29-1m20 8l-30 0m20 8l30-1m19 7l-29 1m19 8l30-1m19 7l-29 1m19 8l30-1m20 8l-30 0m20 8l29-1m20 8l-30 1m20 7l29-1m20 8l-29 1m19 8l29-1m20 8l-29 1m19 7l30-1m19 8l-29 1m20 8l29-1m19 8l-29 1m20 8l29-1m19 8l-29 1m20 8l29-1m19 8l-28 1m19 8l29-1m20 8l-29 1m19 9l29-2m20 8l-29 2m19 8l29-2m20 9l-29 1m20 8l28-1m20 8l-29 2m20 8l28-1m20 8l-29 2m20 8l28-2m20 9l-29 1m20 9l28-2m20 9l-29 1m20 9l28-2m19 9l-28 2m20 8l28-2m19 9l-28 2m20 9l28-2m19 8l-28 2m20 9l28-2m19 9l-28 2m20 9l28-2m19 8l-28 3m20 9l27-3m20 9l-28 2m20 9l27-2"/>
<path fill="#680504" d="M1033 487l85 28 32-4-85-27z"/>
<path fill="#690504" d="M1112 512l85 29 31-4-85-28z"/>
<path fill="#6b0504" d="M1191 538l85 29 31-3-85-29z"/>
<path fill="#6d0504" d="M1269 565l86 29 31-4-85-29z"/>
<path fill="#6f0504" d="M1348 591l86 30 30-3-85-30z"/>
<path fill="#700504" d="M1427 619l85 30 31-4-85-30z"/>
<path fill="#720504" d="M1506 646l85 31 31-3-85-31z"/>
<path fill="#740504" d="M1585 675l85 31 30-4-85-31z"/>
<path fill="#770604" d="M1664 704l85 32 30-4-85-32z"/>
<path fill="#790605" d="M1742 733l85 33 31-4-85-33z"/>
<path fill="#7c0805" d="M1821 763l85 33 30-4-85-33z"/>
<path fill="#800905" d="M1900 793l85 34 30-4-85-34z"/>
<path fill="#830b05" d="M1978 824l85 34 30-4-85-34z"/>
<path fill="#870d06" d="M2057 856l85 34 29-4-84-35z"/>
<path fill="#8b0f06" d="M2136 888l84 35 30-5-85-35z"/>
<path fill="#8f1206" d="M2214 920l85 36 29-5-85-36z"/>
<path fill="#931607" d="M2293 953l84 37 29-5-84-37z"/>
<path fill="#971c07" d="M2371 987l84 37 29-5-84-37z"/>
<path fill="#9c2308" d="M2449 1021l85 38 28-5-84-38z"/>
<path fill="#a12a09" d="M2527 1056l85 38 28-5-84-39z"/>
<path fill="#a5330b" d="M2606 1091l84 39 28-6-84-38z"/>
<path class="m" d="M1052 486l79 26 78 25 79 27 79 27 79 27 79 28 78 28 79 29 79 29 78 30 79 30 79 31 78 32 79 32 78 32 78 33 79 34 78 34 78 34 78 36 78 35m-1633-640l78 26 79 25 79 27 78 27 79 27 79 28 78 28 79 29 79 29 78 30 79 30 78 31 79 31 78 32 78 33 79 32 78 34 78 34 78 35 78 35 78 35m-1679-635l32-3m19 7l-31 2m20 6l31-2m20 6l-32 3m20 6l31-2m20 6l-31 3m20 6l31-2m19 6l-31 2m20 7l31-3m20 7l-31 2m19 7l31-2m20 6l-31 3m20 6l31-2m19 6l-30 3m19 7l31-3m20 7l-31 2m20 7l30-2m20 6l-31 3m20 7l31-3m19 7l-30 3m20 6l30-2m20 7l-31 2m20 7l30-2m20 7l-30 2m19 7l31-2m19 7l-30 2m20 7l30-2m20 7l-31 2m20 8l30-3m20 7l-30 3m20 7l30-3m19 7l-30 3m20 7l30-2m20 7l-30 3m19 7l30-3m20 8l-30 2m20 8l30-3m19 7l-30 3m20 8l30-3m20 7l-30 3m19 8l30-3m20 7l-30 3m20 8l29-3m20 7l-29 3m19 8l30-3m19 8l-29 3m20 7l29-3m20 8l-30 3m20 8l29-3m20 8l-29 3m19 8l29-4m20 8l-29 4m19 7l30-3m19 8l-29 3m20 8l29-3m19 8l-29 3m20 8l29-3m20 8l-29 4m19 8l29-4m20 8l-29 4m20 8l28-3m20 8l-29 3m20 8l28-3m20 8l-29 4m20 8l29-4m19 9l-28 3m19 9l29-4m19 9l-28 3m19 9l29-4m19 8l-28 4m19 9l29-4m19 8l-28 4m20 9l28-4m19 9l-28 4m20 8l28-4m19 9l-28 4m20 9l28-4m19 8l-28 4m20 9l28-4m19 9l-28 4m20 9l28-4m19 9l-28 4m20 9l28-4m19 8l-28 5m20 9l28-5"/>
<path fill="#820605" d="M1002 492l85 27 32-5-86-28z"/>
<path fill="#830605" d="M1081 517l85 28 31-5-85-29z"/>
<path fill="#840605" d="M1160 543l85 29 31-6-85-29z"/>
<path fill="#860605" d="M1239 569l85 30 31-6-85-30z"/>
<path fill="#870605" d="M1318 596l85 30 31-6-85-30z"/>
<path fill="#880605" d="M1397 623l85 31 31-6-85-30z"/>
<path fill="#8a0605" d="M1476 651l85 31 31-6-86-31z"/>
<path fill="#8c0605" d="M1555 680l85 31 30-6-85-31z"/>
<path fill="#8d0605" d="M1634 709l85 32 30-6-85-33z"/>
<path fill="#8f0705" d="M1712 738l86 33 30-7-85-32z"/>
<path fill="#910705" d="M1791 768l86 33 30-6-85-33z"/>
<path fill="#930706" d="M1870 798l85 34 30-6-85-34z"/>
<path fill="#960906" d="M1949 829l85 35 30-7-85-34z"/>
<path fill="#9a0c06" d="M2028 861l85 35 29-7-84-35z"/>
<path fill="#9d0e06" d="M2107 893l84 36 30-7-85-36z"/>
<path fill="#a11007" d="M2185 926l85 36 29-7-84-36z"/>
<path fill="#a51307" d="M2264 959l85 37 29-7-85-37z"/>
<path fill="#a91607" d="M2342 993l85 37 29-7-84-37z"/>
<path fill="#ad1e08" d="M2421 1027l84 38 29-7-84-38z"/>
<path fill="#b22609" d="M2499 1062l85 38 28-7-84-39z"/>
<path fill="#b62e0a" d="M2577 1097l85 40 28-8-84-39z"/>
<path class="m" d="M1021 490l79 25 79 26 78 26 79 27 79 28 79 27 79 29 79 29 79 29 79 30 78 30 79 31 79 32 79 32 78 33 79 33 78 33 78 35 79 34 78 36 78 36m-1637-643l79 25 79 26 79 26 79 27 79 27 78 28 79 29 79 28 79 30 78 30 79 30 79 31 78 31 79 32 79 33 78 33 78 34 79 34 78 35 78 35 78 36m-1682-636l31-4m20 6l-31 5m20 6l31-5m19 7l-31 4m20 7l31-5m20 7l-31 4m20 6l31-4m19 6l-31 5m20 6l31-4m20 6l-31 5m20 7l30-5m20 7l-31 4m20 7l31-5m20 7l-31 5m20 6l30-4m20 6l-31 5m20 7l31-5m19 7l-30 5m20 6l30-4m20 7l-31 4m20 7l31-5m19 7l-30 5m20 7l30-5m20 7l-31 5m20 7l30-5m20 7l-30 5m20 7l30-5m19 7l-30 5m20 7l30-4m20 7l-30 5m19 7l31-5m19 7l-30 5m20 7l30-5m20 8l-30 5m19 7l30-5m20 7l-30 5m20 8l30-5m19 7l-29 5m19 8l30-5m20 7l-30 5m20 8l29-5m20 7l-29 5m19 8l30-5m20 7l-30 5m20 8l29-5m20 8l-30 5m20 8l30-6m19 8l-29 5m19 8l30-5m20 8l-30 5m20 8l29-5m20 8l-29 5m19 8l29-6m20 8l-29 6m20 8l29-6m19 8l-29 6m20 8l29-6m20 9l-29 5m19 8l29-5m20 8l-29 5m20 9l29-6m19 8l-29 6m20 8l29-6m19 9l-28 5m19 9l29-6m20 8l-29 6m20 9l28-6m20 8l-29 6m20 9l28-6m20 8l-29 6m20 9l28-6m20 8l-28 6m19 9l29-6m19 9l-28 6m19 8l29-6m19 9l-28 6m20 9l28-6m19 8l-28 7m20 8l28-6m19 9l-28 6m20 9l28-6m19 9l-28 6m20 9l28-6m19 9l-28 6m20 9l28-6"/>
<path fill="#950606" d="M970 498l86 28 32-8-86-28z"/>
<path fill="#960606" d="M1050 524l85 28 32-8-86-28z"/>
<path fill="#970606" d="M1129 549l85 29 31-8-85-29z"/>
<path fill="#980606" d="M1208 576l85 29 31-8-85-29z"/>
<path fill="#990706" d="M1287 603l85 30 31-8-85-30z"/>
<path fill="#9a0706" d="M1366 630l86 31 30-8-85-31z"/>
<path fill="#9c0706" d="M1445 658l86 31 30-8-85-31z"/>
<path fill="#9d0706" d="M1524 686l86 32 30-8-85-32z"/>
<path fill="#9e0706" d="M1604 715l85 33 30-9-85-32z"/>
<path fill="#a00706" d="M1683 745l85 33 30-9-85-32z"/>
<path fill="#a10706" d="M1762 775l85 33 30-8-85-33z"/>
<path fill="#a30806" d="M1841 806l85 34 30-9-85-34z"/>
<path fill="#a40806" d="M1920 837l85 34 30-8-85-35z"/>
<path fill="#a70906" d="M1999 868l85 35 29-8-84-35z"/>
<path fill="#aa0c07" d="M2077 900l85 36 30-9-85-35z"/>
<path fill="#ae0f07" d="M2156 933l85 37 30-9-85-37z"/>
<path fill="#b21207" d="M2235 967l85 37 29-10-84-37z"/>
<path fill="#b51508" d="M2314 1000l84 38 30-9-85-38z"/>
<path fill="#ba1808" d="M2392 1035l85 38 29-9-84-38z"/>
<path fill="#be2009" d="M2471 1070l84 39 29-10-84-39z"/>
<path fill="#c3290a" d="M2549 1106l85 39 28-10-84-39z"/>
<path class="m" d="M989 495l80 26 79 26 79 26 79 27 79 27 79 28 79 29 79 28 79 30 79 30 79 30 79 32 79 31 78 32 79 33 79 33 78 34 79 35 78 35 79 35 78 36m-1640-646l79 26 79 25 79 27 79 27 79 27 79 28 79 28 79 29 79 30 79 30 79 30 78 31 79 32 79 32 79 33 78 33 79 34 78 34 79 35 78 35 78 36m-1685-635l31-7m20 7l-31 6m19 6l32-6m19 6l-31 7m20 6l31-6m20 6l-31 7m20 6l31-7m19 7l-31 7m20 6l31-7m20 7l-31 7m20 6l31-6m19 6l-30 7m19 6l31-6m20 7l-31 6m20 7l31-7m19 7l-30 7m19 6l31-6m20 7l-31 6m20 7l31-7m19 7l-30 7m20 7l30-7m20 7l-31 7m20 7l31-7m19 7l-30 7m20 7l30-7m20 7l-30 7m19 7l31-7m19 7l-30 7m20 7l30-7m20 8l-30 6m19 8l30-7m20 7l-30 7m20 7l30-7m20 8l-30 6m20 8l29-7m20 7l-30 7m20 8l30-7m20 7l-30 7m20 8l29-7m20 7l-30 7m20 8l30-7m20 7l-30 7m20 8l29-7m20 7l-30 8m20 7l30-7m19 8l-29 7m20 8l29-7m20 7l-30 8m20 7l29-7m20 8l-29 7m20 8l29-7m20 8l-30 7m20 8l29-7m20 8l-29 7m19 8l30-7m19 8l-29 7m20 8l29-7m20 8l-29 7m19 9l29-8m20 8l-29 8m20 8l29-7m19 8l-29 7m20 9l29-8m20 8l-29 8m19 8l29-7m20 8l-29 8m20 8l29-7m19 8l-29 8m20 8l29-7m19 8l-28 8m19 8l29-7m20 8l-29 8m20 9l28-8m20 9l-29 7m20 9l28-8m20 9l-28 8m19 9l29-8m19 9l-28 8m20 9l28-9m19 9l-28 8m20 9l28-8m19 9l-28 8m20 9l28-8m19 9l-28 9m20 9l28-9"/>
<path fill="#a50706" d="M939 507l86 28 31-10-85-28zM1019 532l85 29 32-10-86-29z"/>
<path fill="#a60706" d="M1098 558l85 29 32-10-86-29z"/>
<path fill="#a70706" d="M1177 585l86 29 31-10-86-30z"/>
<path fill="#a80706" d="M1256 611l86 31 31-11-85-30z"/>
<path fill="#a90707" d="M1336 639l85 31 31-11-85-30zM1415 667l85 31 31-10-85-31z"/>
<path fill="#ab0707" d="M1494 695l86 32 30-10-85-32z"/>
<path fill="#ac0707" d="M1574 724l85 33 30-11-85-32z"/>
<path fill="#ad0807" d="M1653 754l85 33 31-11-86-32z"/>
<path fill="#ae0807" d="M1732 784l85 34 31-11-86-33z"/>
<path fill="#af0807" d="M1811 815l85 34 31-11-86-34z"/>
<path fill="#b10807" d="M1890 846l85 35 30-11-85-35z"/>
<path fill="#b20807" d="M1969 878l85 35 30-11-85-35z"/>
<path fill="#b40a07" d="M2048 910l85 36 30-11-85-36z"/>
<path fill="#b80d07" d="M2127 943l85 36 30-11-85-36z"/>
<path fill="#bb1008" d="M2206 976l85 37 30-11-85-37z"/>
<path fill="#bf1308" d="M2285 1010l85 38 29-11-84-38z"/>
<path fill="#c31708" d="M2364 1045l85 38 29-11-85-39z"/>
<path fill="#c71b09" d="M2443 1080l84 39 29-12-84-39z"/>
<path fill="#cc240a" d="M2521 1116l85 39 28-12-84-39z"/>
<path class="m" d="M958 503l80 25 79 26 79 27 79 26 79 28 80 28 79 28 79 29 79 30 79 30 79 31 79 31 79 31 79 33 79 33 79 33 79 34 79 34 78 36 79 35 78 37m-1643-649l79 25 79 26 79 26 79 27 80 28 79 28 79 28 79 29 79 30 79 30 79 30 79 31 79 32 79 32 79 33 78 33 79 34 79 35 78 35 79 35 78 37m-1688-636l31-8m20 6l-31 9m19 6l31-9m20 7l-31 8m20 7l31-9m20 7l-31 8m20 7l31-9m19 7l-31 8m20 7l31-9m20 7l-31 8m20 7l31-9m20 7l-31 8m20 7l30-9m20 7l-31 9m20 7l31-9m20 7l-31 8m20 7l30-9m20 7l-30 9m20 7l30-9m20 7l-31 9m20 7l31-9m19 7l-30 8m20 7l30-8m20 7l-30 8m19 8l31-9m20 7l-31 9m20 7l30-9m20 7l-30 9m20 7l30-9m20 7l-30 9m19 7l30-8m20 7l-30 9m20 7l30-9m20 7l-30 9m20 8l30-9m19 7l-30 9m20 8l30-9m20 7l-30 9m20 8l30-9m19 7l-29 9m19 8l30-9m20 7l-30 9m20 8l30-9m19 8l-29 9m20 7l29-9m20 8l-30 9m20 8l30-9m19 8l-29 9m20 8l29-10m20 8l-30 10m20 7l30-9m19 8l-29 9m20 8l29-9m20 8l-29 9m19 8l29-9m20 8l-29 10m20 8l29-10m20 8l-29 10m19 8l29-9m20 8l-29 9m20 9l29-10m19 8l-29 10m20 8l29-9m20 8l-29 10m20 8l28-10m20 9l-29 9m20 9l29-10m19 9l-28 9m19 9l29-10m20 9l-29 10m20 8l28-10m20 9l-28 10m19 9l29-10m19 8l-28 10m20 9l28-10m20 9l-29 10m20 9l28-10m20 9l-28 10m19 9l29-10m19 8l-28 11m20 9l28-11m19 9l-28 11m20 9l28-11m19 10l-28 10m20 9l28-10"/>
<path fill="#b10707" d="M908 518l86 28 32-13-86-28z"/>
<path fill="#b20707" d="M988 543l85 29 32-13-86-28zM1067 569l86 29 31-12-85-29z"/>
<path fill="#b30707" d="M1146 595l86 30 31-12-85-30zM1226 622l86 31 31-13-86-30z"/>
<path fill="#b40807" d="M1305 650l86 31 31-13-86-31z"/>
<path fill="#b50807" d="M1385 678l85 31 31-12-85-32zM1464 706l86 32 30-12-85-32z"/>
<path fill="#b60807" d="M1544 735l85 33 31-13-86-32z"/>
<path fill="#b70807" d="M1623 765l85 33 31-13-86-33z"/>
<path fill="#b80807" d="M1702 795l86 34 30-13-85-33z"/>
<path fill="#b90807" d="M1782 826l85 34 30-13-85-34z"/>
<path fill="#bb0807" d="M1861 857l85 35 30-13-85-35z"/>
<path fill="#bc0907" d="M1940 889l85 35 30-13-85-35z"/>
<path fill="#bd0907" d="M2019 921l85 36 30-13-85-36z"/>
<path fill="#c00b07" d="M2098 954l85 37 30-13-85-37z"/>
<path fill="#c30e08" d="M2177 988l85 37 30-13-85-37z"/>
<path fill="#c71208" d="M2256 1022l85 38 30-14-85-37z"/>
<path fill="#cb1508" d="M2335 1057l85 38 29-13-84-39z"/>
<path fill="#cf1909" d="M2414 1092l85 39 29-14-85-39z"/>
<path fill="#d3200a" d="M2493 1128l84 39 29-13-84-40z"/>
<path class="m" d="M927 512l80 26 79 26 79 26 80 27 79 28 79 28 80 28 79 29 79 30 80 30 79 31 79 31 79 32 79 32 79 33 79 34 79 34 79 34 79 35 78 36 79 37m-1646-652l79 26 79 26 80 26 79 27 79 28 79 28 80 28 79 29 79 30 79 30 80 30 79 32 79 31 79 33 79 33 79 33 78 34 79 35 79 35 79 36 78 36m-1691-635l31-11m20 7l-31 10m19 7l31-11m20 6l-31 11m20 7l31-11m20 6l-31 11m20 6l31-10m19 6l-30 11m20 6l30-10m20 6l-31 11m20 7l31-11m20 6l-31 11m20 7l31-11m19 7l-30 11m20 6l30-10m20 6l-31 11m20 7l31-11m20 7l-31 11m20 7l31-11m19 7l-30 10m20 7l30-10m20 6l-30 11m19 7l31-11m20 7l-31 11m20 7l30-10m20 7l-30 10m20 8l30-11m20 7l-30 11m20 7l30-11m20 7l-31 11m20 7l30-11m20 8l-30 11m20 7l30-11m20 7l-30 11m20 8l30-11m19 7l-30 11m20 8l30-11m20 7l-30 11m20 8l30-11m20 7l-30 11m20 8l29-11m20 7l-30 11m20 8l30-11m20 8l-30 11m20 8l30-12m19 8l-29 11m20 8l29-11m20 8l-30 11m20 8l30-11m19 8l-29 11m20 8l29-12m20 8l-29 12m19 8l30-12m20 8l-30 12m20 8l29-12m20 9l-29 11m20 8l29-11m20 8l-30 11m20 8l29-11m20 8l-29 12m20 8l29-11m19 8l-28 11m19 9l29-12m20 9l-29 11m20 9l29-12m19 8l-28 12m19 8l29-11m20 8l-29 12m20 9l28-12m20 9l-28 11m19 9l29-12m20 9l-29 12m20 8l28-11m20 8l-29 12m20 9l29-12m19 9l-28 12m20 9l28-12m20 9l-29 12m20 8l28-11m20 9l-28 11m19 9l29-11m19 9l-28 12m20 9l28-12m19 9l-28 12m20 9l28-12"/>
<path fill="#bc0807" d="M877 531l86 28 32-15-86-28zM957 556l86 29 31-15-86-29zM1036 582l86 29 31-15-85-29zM1116 608l86 30 31-15-86-29z"/>
<path fill="#bd0807" d="M1195 635l86 30 31-14-85-30zM1275 663l86 30 31-14-86-31z"/>
<path fill="#be0807" d="M1354 691l86 31 31-15-86-31zM1434 719l86 32 30-14-85-32z"/>
<path fill="#bf0807" d="M1514 748l85 33 31-15-86-32z"/>
<path fill="#c00807" d="M1593 778l86 33 30-15-85-33z"/>
<path fill="#c10807" d="M1673 808l85 34 30-15-85-34z"/>
<path fill="#c20907" d="M1752 839l85 34 31-15-86-34z"/>
<path fill="#c30907" d="M1831 870l86 35 30-15-85-35z"/>
<path fill="#c40907" d="M1911 902l85 36 30-15-85-36z"/>
<path fill="#c50907" d="M1990 935l85 36 30-15-85-36z"/>
<path fill="#c60a07" d="M2069 968l85 36 30-15-85-36z"/>
<path fill="#ca0d08" d="M2148 1001l86 37 29-15-85-37z"/>
<path fill="#cd1008" d="M2228 1035l85 38 29-15-85-38z"/>
<path fill="#d11409" d="M2307 1070l85 39 29-16-85-38z"/>
<path fill="#d51809" d="M2386 1105l84 40 30-16-85-39z"/>
<path fill="#d91c09" d="M2464 1141l85 40 29-15-84-40z"/>
<path class="m" d="M896 524l80 26 79 26 80 26 79 27 80 28 79 28 80 28 79 29 79 30 80 30 79 31 80 31 79 32 79 32 79 33 79 34 79 34 79 35 79 35 79 36 79 37m-1649-654l79 26 80 25 79 27 79 27 80 27 79 28 80 29 79 29 79 30 80 30 79 31 79 31 79 32 80 32 79 33 79 34 79 34 79 34 79 36 78 35 79 37m-1694-634l31-13m20 6l-31 13m20 7l30-13m20 6l-31 13m20 7l31-13m20 6l-31 13m20 6l31-13m20 7l-31 13m20 6l31-13m19 7l-30 13m20 7l30-13m20 6l-31 13m20 7l31-13m20 7l-31 13m20 6l31-13m19 7l-30 13m20 7l30-13m20 7l-30 13m20 6l30-12m20 6l-30 13m19 7l31-13m20 7l-31 13m20 7l30-13m20 7l-30 13m20 7l30-13m20 7l-30 13m20 7l30-12m20 7l-30 13m19 7l31-13m19 7l-30 13m20 7l30-13m20 8l-30 13m20 7l30-13m20 7l-30 13m20 8l30-13m19 7l-29 13m19 8l30-13m20 7l-30 13m20 8l30-13m20 7l-30 13m20 8l30-13m19 7l-29 13m20 8l29-13m20 8l-29 13m19 7l30-12m20 7l-30 13m20 8l30-13m19 8l-29 13m20 8l29-13m20 8l-29 13m19 8l30-13m20 8l-30 13m20 8l29-13m20 8l-29 13m20 8l29-13m20 8l-29 13m19 8l30-13m19 8l-29 13m20 9l29-14m20 9l-29 13m20 8l29-13m20 8l-29 14m19 8l29-13m20 8l-29 13m20 9l29-13m20 8l-29 13m19 9l29-14m20 9l-29 13m20 9l29-13m20 8l-29 14m20 8l28-13m20 9l-29 13m20 9l29-14m19 9l-28 14m20 8l28-13m20 9l-29 13m20 9l29-13m19 9l-28 13m19 9l29-14m20 9l-29 14m20 9l28-14m20 10l-28 13m19 9l29-13m19 9l-28 14m20 9l28-14"/>
<path fill="#c50808" d="M847 546l85 28 32-17-86-28zM926 571l86 29 31-17-85-29z"/>
<path fill="#c40808" d="M1006 597l86 29 31-17-86-29z"/>
<path fill="#c50808" d="M1085 623l86 30 31-17-85-29zM1165 650l86 30 31-16-86-31zM1245 678l85 30 31-16-85-31zM1324 706l86 31 31-17-86-31z"/>
<path fill="#c60808" d="M1404 734l86 32 30-17-85-32zM1484 763l85 33 31-17-86-32z"/>
<path fill="#c70808" d="M1563 793l86 33 30-17-85-33z"/>
<path fill="#c70908" d="M1643 823l85 34 31-17-86-34z"/>
<path fill="#c80908" d="M1722 854l86 34 30-17-85-34z"/>
<path fill="#c90908" d="M1802 885l85 35 31-17-86-35z"/>
<path fill="#ca0908" d="M1881 917l86 35 30-16-85-36z"/>
<path fill="#cb0908" d="M1961 949l85 37 30-17-85-36z"/>
<path fill="#cc0a08" d="M2040 983l85 36 30-17-85-36z"/>
<path fill="#cf0c08" d="M2120 1016l85 37 29-16-85-38z"/>
<path fill="#d21008" d="M2199 1050l85 38 30-17-85-37z"/>
<path fill="#d61309" d="M2278 1085l85 39 29-17-84-39z"/>
<path fill="#da1809" d="M2357 1121l85 39 29-17-84-39z"/>
<path fill="#de1c0a" d="M2436 1157l85 40 29-18-85-39z"/>
<path class="m" d="M865 539l80 25 80 26 79 26 80 27 79 27 80 28 79 29 80 29 80 30 79 30 80 31 79 31 79 32 80 32 79 33 79 34 80 34 79 35 79 36 79 36 79 36m-1652-655l79 26 80 25 79 27 80 27 79 27 80 28 79 29 80 29 79 30 80 30 79 30 80 32 79 32 79 32 80 33 79 34 79 34 79 35 79 35 79 36 79 37m-1697-633l31-15m20 6l-31 16m20 6l31-15m19 6l-30 15m20 7l30-15m20 6l-30 15m19 7l31-16m20 7l-31 15m20 6l31-15m20 7l-31 15m20 7l31-15m19 6l-30 15m20 7l30-15m20 7l-30 14m20 7l30-15m20 7l-30 15m19 7l31-15m20 7l-31 14m20 7l31-15m20 7l-31 15m20 7l30-15m20 7l-30 15m20 7l30-15m20 7l-30 15m20 7l30-15m20 7l-30 15m20 7l30-15m20 8l-30 14m19 8l30-15m20 7l-30 15m20 7l30-15m20 8l-30 14m20 8l30-15m20 7l-30 15m20 7l30-14m20 7l-30 15m20 7l29-14m20 7l-29 15m19 7l30-14m20 7l-30 15m20 7l30-14m20 7l-30 15m20 8l30-15m20 8l-30 15m20 7l29-15m20 8l-29 15m20 8l29-15m20 8l-30 15m20 8l30-15m20 8l-30 15m20 7l29-14m20 8l-29 14m20 9l29-15m20 8l-29 15m20 8l29-15m20 8l-30 15m20 8l29-15m20 8l-29 15m20 8l29-14m20 8l-29 15m20 8l29-15m20 9l-30 14m20 9l29-15m20 8l-29 15m20 9l29-15m20 8l-29 15m20 9l28-15m20 8l-29 15m20 9l29-15m20 9l-29 15m20 8l29-15m19 9l-28 15m19 9l29-15m20 9l-29 15m20 9l29-16m19 9l-28 15m20 9l28-15m20 9l-29 15m20 9l28-15m20 9l-28 15m20 9l28-15m20 9l-29 16m20 9l28-16m20 10l-28 15m19 9l29-15"/>
<path fill="#cb0808" d="M816 563l86 28 31-19-86-28zM896 588l85 29 32-19-86-29zM975 614l86 29 31-19-85-29zM1055 640l86 30 31-19-86-29zM1135 667l86 30 31-19-86-30z"/>
<path fill="#cc0808" d="M1214 695l86 30 31-19-85-30zM1294 722l86 32 31-19-86-31z"/>
<path fill="#cc0908" d="M1374 751l86 32 31-19-86-32zM1454 780l85 32 31-18-86-33z"/>
<path fill="#cd0908" d="M1533 809l86 33 31-18-86-33zM1613 840l86 33 30-18-85-34z"/>
<path fill="#ce0908" d="M1693 870l85 34 31-18-86-34zM1772 902l86 34 30-18-85-35z"/>
<path fill="#cf0908" d="M1852 933l86 36 30-18-86-36z"/>
<path fill="#d00a08" d="M1932 966l85 36 30-18-85-36z"/>
<path fill="#d10a08" d="M2011 999l86 37 29-19-85-36z"/>
<path fill="#d30c08" d="M2091 1033l85 37 30-18-85-38z"/>
<path fill="#d70f08" d="M2170 1067l85 38 30-19-85-37z"/>
<path fill="#da1309" d="M2249 1102l85 38 30-18-85-39z"/>
<path fill="#de1709" d="M2329 1137l85 40 29-19-85-39z"/>
<path fill="#e31c0a" d="M2408 1173l85 40 29-18-85-40z"/>
<path class="m" d="M835 555l79 25 80 26 80 26 79 27 80 27 80 28 79 29 80 29 80 29 79 30 80 31 80 32 79 32 80 32 79 33 80 34 79 34 79 35 79 35 79 37 79 36m-1654-656l80 26 79 25 80 27 79 27 80 27 80 28 79 29 80 29 80 29 79 30 80 31 79 32 80 32 79 32 80 33 79 34 79 34 79 35 80 35 79 36 78 37m-1699-630l31-18m20 7l-31 17m20 6l31-17m20 6l-31 17m20 7l31-17m20 6l-31 17m20 7l30-17m20 6l-30 17m20 7l30-18m20 7l-30 17m20 7l30-17m20 6l-30 17m19 7l31-17m20 6l-31 17m20 7l31-17m20 7l-31 17m20 7l30-17m20 6l-30 17m20 7l30-17m20 7l-30 17m20 7l30-17m20 7l-30 17m20 7l30-17m20 7l-30 17m20 7l30-17m20 7l-30 17m20 7l30-17m20 7l-31 17m20 7l30-16m20 7l-30 16m20 8l30-17m20 7l-30 17m20 7l30-16m20 7l-30 17m20 7l30-17m20 8l-30 16m20 8l30-17m20 8l-30 16m20 8l29-17m20 8l-29 16m20 8l29-17m20 8l-29 17m19 7l30-16m20 8l-30 16m20 8l30-17m20 8l-30 16m20 8l30-16m19 8l-29 16m20 8l29-16m20 8l-29 16m20 8l29-17m20 8l-29 17m20 8l29-16m20 8l-30 16m20 8l30-16m19 8l-29 16m20 8l29-16m20 8l-29 17m20 8l29-17m20 9l-29 16m20 9l29-17m19 8l-29 17m20 8l29-16m20 8l-29 17m20 8l29-16m20 8l-29 17m20 8l29-16m19 8l-28 17m19 9l29-17m20 9l-29 16m20 9l29-17m20 9l-29 17m20 8l28-16m20 9l-28 16m19 9l29-16m20 8l-29 17m20 9l29-17m19 9l-28 17m20 9l28-17m20 9l-29 17m20 9l29-17m19 10l-28 16m20 9l28-16m20 9l-29 17m20 9l28-17"/>
<path fill="#ce0908" d="M785 582l86 28 32-21-86-28z"/>
<path fill="#ce0808" d="M865 608l86 28 31-21-86-29zM945 633l86 29 31-21-86-29zM1025 659l86 30 31-21-86-30z"/>
<path fill="#ce0908" d="M1104 686l86 30 31-21-85-30zM1184 713l86 31 31-21-86-30z"/>
<path fill="#cf0908" d="M1264 741l86 31 31-20-86-32zM1344 770l86 31 31-20-86-32zM1424 799l86 32 30-21-85-32z"/>
<path fill="#d00908" d="M1504 828l85 33 31-21-86-33zM1583 858l86 34 31-21-86-33z"/>
<path fill="#d10908" d="M1663 889l86 34 30-21-85-34zM1743 920l86 35 30-21-86-34z"/>
<path fill="#d20a08" d="M1823 952l85 35 31-20-86-36z"/>
<path fill="#d30a08" d="M1902 984l86 36 30-20-85-36z"/>
<path fill="#d40a08" d="M1982 1017l86 37 29-20-85-37z"/>
<path fill="#d60c08" d="M2062 1051l85 37 30-20-85-37z"/>
<path fill="#d91009" d="M2141 1085l85 38 30-20-85-38z"/>
<path fill="#dc1309" d="M2221 1120l85 38 29-19-85-39z"/>
<path fill="#e01709" d="M2300 1155l85 40 30-20-85-40z"/>
<path fill="#e41c0a" d="M2379 1191l85 40 30-20-85-39z"/>
<path class="m" d="M804 573l80 25 80 26 79 26 80 27 80 27 80 28 79 28 80 29 80 30 80 30 80 31 79 31 80 32 79 32 80 33 80 34 79 34 79 35 80 36 79 36 79 37m-1657-656l80 25 80 26 79 26 80 27 80 27 80 28 79 28 80 29 80 30 80 30 79 31 80 31 80 32 79 32 80 34 79 33 79 35 80 34 79 36 79 36 79 37m-1701-628l30-19m20 6l-30 19m20 6l30-19m20 6l-30 19m20 7l30-19m20 6l-31 19m20 7l31-19m20 6l-31 19m20 6l31-18m20 6l-31 19m20 7l31-19m20 6l-31 19m20 7l30-19m20 6l-30 19m20 7l30-19m20 7l-30 19m20 6l30-18m20 6l-30 19m20 7l30-19m20 7l-30 19m20 7l30-19m20 7l-30 19m20 7l30-19m20 7l-30 19m20 7l30-19m20 7l-30 19m20 7l30-19m19 7l-29 19m19 7l30-19m20 7l-30 19m20 7l30-18m20 7l-30 19m20 7l30-19m20 8l-30 18m20 8l30-19m20 7l-30 19m20 7l30-18m20 7l-30 19m20 7l30-18m20 7l-30 19m20 8l30-19m20 8l-30 18m20 8l29-19m20 8l-29 18m20 8l29-18m20 7l-29 19m20 8l29-19m20 8l-29 19m19 7l30-18m20 8l-30 18m20 8l30-18m20 8l-30 18m20 8l30-18m19 8l-29 18m20 8l29-18m20 8l-29 19m20 8l29-19m20 9l-29 18m20 8l29-18m20 8l-29 18m20 9l29-18m19 8l-29 18m20 8l29-18m20 9l-29 18m20 8l29-18m20 9l-29 18m20 8l29-18m20 9l-29 18m20 9l28-18m20 8l-29 18m20 9l29-18m20 9l-29 18m20 8l29-18m20 9l-29 18m20 9l28-18m20 9l-28 18m19 9l29-18m20 9l-29 18m20 9l29-18m19 9l-28 18m20 9l28-18m20 9l-29 18m20 9l29-18m19 10l-28 18m20 9l28-18"/>
<path fill="#cf0908" d="M755 603l86 28 31-23-86-28zM835 629l86 28 31-23-86-29zM915 654l85 29 32-23-86-29zM994 680l86 30 31-23-85-30zM1074 707l86 30 31-23-86-30zM1154 734l86 31 31-23-86-31zM1234 762l86 31 31-23-86-31zM1314 790l86 32 31-23-86-32z"/>
<path fill="#d00908" d="M1394 819l86 33 31-23-86-33zM1474 849l86 33 30-23-85-33z"/>
<path fill="#d10908" d="M1554 879l86 33 30-22-85-34zM1634 909l86 34 30-22-86-34z"/>
<path fill="#d20908" d="M1714 941l85 34 31-22-86-35z"/>
<path fill="#d20a08" d="M1793 972l86 36 30-23-85-35z"/>
<path fill="#d30a08" d="M1873 1005l86 36 30-23-86-36z"/>
<path fill="#d40a08" d="M1953 1038l85 36 31-22-86-37z"/>
<path fill="#d70d08" d="M2033 1071l85 37 30-22-85-37z"/>
<path fill="#da1009" d="M2112 1105l86 38 29-22-85-38z"/>
<path fill="#dd1409" d="M2192 1140l85 39 30-23-85-38z"/>
<path fill="#e11809" d="M2271 1175l85 40 30-22-85-40z"/>
<path fill="#e41c0a" d="M2351 1211l85 40 29-22-85-40z"/>
<path class="m" d="M774 593l79 25 80 26 80 26 80 27 80 27 80 28 80 28 79 29 80 29 80 31 80 30 80 31 80 32 79 33 80 33 80 33 79 34 80 35 79 36 79 36 80 36m-1659-655l80 25 79 25 80 27 80 26 80 28 80 28 79 28 80 29 80 29 80 31 80 30 79 31 80 32 80 33 80 33 79 33 80 35 79 34 79 36 80 36 79 37m-1704-625l31-21m20 6l-31 21m20 6l31-21m20 6l-31 21m20 7l31-21m19 6l-30 21m20 6l30-20m20 6l-30 21m20 6l30-21m20 7l-30 21m20 6l30-20m20 6l-30 21m20 7l30-21m20 6l-30 21m20 7l30-21m20 7l-30 21m20 6l30-21m20 7l-30 21m20 7l30-21m20 7l-30 21m20 7l30-21m20 7l-30 20m20 7l30-20m20 7l-30 20m20 7l30-20m20 7l-30 20m20 7l30-20m20 7l-30 21m20 7l29-21m20 7l-29 21m20 7l29-21m20 8l-29 20m20 8l29-21m20 7l-29 21m19 7l30-20m20 7l-30 21m20 7l30-21m20 8l-30 20m20 8l30-21m20 8l-30 21m20 7l30-20m20 7l-30 21m20 7l30-20m20 7l-30 21m20 8l30-21m20 8l-30 20m20 8l30-20m20 8l-30 20m20 8l29-21m20 8l-29 21m20 8l29-21m20 8l-29 21m20 8l29-21m20 8l-29 21m20 8l29-21m20 9l-29 20m20 8l29-20m20 8l-29 20m20 8l29-20m20 8l-30 21m20 8l30-20m19 8l-29 20m20 9l29-21m20 9l-29 20m20 9l29-21m20 9l-29 20m20 9l29-21m20 9l-29 20m20 9l29-20m19 8l-28 20m19 9l29-20m20 9l-29 20m20 9l29-21m20 9l-29 20m20 9l29-20m20 9l-29 20m20 9l28-20m20 9l-28 20m19 9l29-20m20 9l-29 20m20 9l29-20m19 9l-28 20m20 9l28-20m20 10l-28 19m19 10l29-20"/>
<path fill="#d00908" d="M725 626l85 28 32-25-86-28z"/>
<path fill="#cf0908" d="M804 652l86 28 32-26-86-28zM884 677l86 29 31-25-85-29zM964 703l86 30 31-26-86-29zM1044 730l86 30 31-25-86-30z"/>
<path fill="#d00908" d="M1124 757l86 31 31-26-86-30zM1204 785l86 31 31-25-86-31zM1284 813l86 32 31-25-86-32zM1364 842l86 32 31-25-86-32z"/>
<path fill="#d10908" d="M1444 871l86 33 31-25-86-32zM1524 901l86 34 31-25-86-33z"/>
<path fill="#d20908" d="M1604 932l86 34 31-25-86-34z"/>
<path fill="#d20a08" d="M1684 963l86 35 30-25-85-35z"/>
<path fill="#d30a08" d="M1764 995l86 35 30-25-85-35z"/>
<path fill="#d40a08" d="M1844 1027l86 36 30-25-86-36z"/>
<path fill="#d60c08" d="M1924 1060l85 37 31-25-86-37z"/>
<path fill="#d80f08" d="M2004 1094l85 37 30-25-85-37z"/>
<path fill="#db1209" d="M2083 1128l86 37 30-24-86-38z"/>
<path fill="#df1609" d="M2163 1162l85 39 30-25-85-38z"/>
<path fill="#e21a0a" d="M2243 1198l85 39 30-25-86-39z"/>
<path fill="#e61e0a" d="M2322 1234l85 39 30-24-85-40z"/>
<path class="m" d="M743 615l80 25 80 26 80 26 80 26 80 28 80 27 80 29 80 29 80 29 80 30 80 31 79 31 80 32 80 32 80 33 80 33 79 35 80 34 79 36 80 36 79 37m-1661-656l80 25 80 25 80 27 80 26 80 28 80 27 80 29 80 29 79 29 80 30 80 31 80 31 80 32 80 32 79 33 80 34 80 34 79 35 80 35 79 36 79 37m-1705-623l30-22m20 6l-30 23m20 6l30-23m20 6l-30 23m20 7l30-23m20 6l-30 23m20 6l30-23m20 7l-30 23m20 6l30-23m20 7l-30 23m20 6l30-23m20 7l-30 23m20 6l30-22m20 6l-30 23m20 7l30-23m20 7l-30 22m20 7l30-23m20 7l-30 23m20 7l30-23m20 7l-30 22m20 7l30-22m20 6l-30 23m20 7l30-23m20 7l-30 23m20 7l30-23m20 7l-30 23m20 7l30-23m20 8l-30 22m20 7l30-22m20 7l-30 23m20 7l30-23m20 7l-30 23m20 7l30-22m20 7l-30 23m20 7l29-23m20 8l-29 22m20 8l29-23m20 7l-29 23m20 8l29-23m20 8l-29 22m20 8l29-23m20 8l-29 22m20 8l29-23m20 8l-29 23m20 7l29-22m20 7l-29 23m20 8l29-23m20 8l-29 23m20 7l29-22m20 8l-29 22m20 8l29-22m20 8l-29 22m20 8l29-22m20 8l-29 22m20 8l29-22m20 8l-29 22m20 8l29-22m20 8l-30 23m20 8l30-23m19 9l-29 22m20 8l29-22m20 8l-29 23m20 8l29-22m20 8l-29 23m20 8l29-22m20 8l-29 22m20 9l29-22m20 8l-29 22m20 9l29-22m20 8l-29 23m20 8l28-22m20 9l-28 22m19 9l29-22m20 8l-29 23m20 8l29-22m20 9l-29 22m20 9l29-22m20 9l-29 22m20 9l28-22m20 9l-28 22m20 9l28-22m20 9l-29 22m20 9l29-22m20 9l-29 23m20 9l28-22"/>
<path fill="#d10908" d="M694 651l86 28 31-27-85-28zM774 676l86 29 31-28-86-28zM854 702l86 29 31-28-86-28z"/>
<path fill="#d00908" d="M934 728l86 29 31-27-86-29z"/>
<path fill="#d10908" d="M1014 755l86 30 31-28-86-29zM1094 782l86 30 31-27-86-30zM1174 810l86 31 31-28-86-30zM1255 838l86 32 30-28-86-31zM1335 867l86 32 30-27-86-32z"/>
<path fill="#d20908" d="M1415 896l86 33 30-27-86-33z"/>
<path fill="#d20a08" d="M1495 926l86 33 30-27-86-33z"/>
<path fill="#d30a08" d="M1575 957l86 34 30-27-86-34zM1655 988l86 34 30-27-86-34z"/>
<path fill="#d40a08" d="M1735 1019l86 36 30-27-86-35z"/>
<path fill="#d60c08" d="M1815 1052l86 36 30-27-86-36z"/>
<path fill="#d80f08" d="M1895 1085l85 36 31-27-86-36z"/>
<path fill="#db1209" d="M1975 1118l85 37 30-27-85-37z"/>
<path fill="#de1509" d="M2054 1152l86 38 30-27-85-38z"/>
<path fill="#e11809" d="M2134 1187l86 38 30-26-86-39z"/>
<path fill="#e41c0a" d="M2214 1222l85 39 30-26-85-39z"/>
<path fill="#e8230b" d="M2294 1258l85 40 29-27-85-39z"/>
<path class="m" d="M713 639l80 25 80 25 80 27 80 26 80 27 80 28 80 28 80 29 80 30 80 30 80 30 80 31 80 32 80 32 80 33 80 34 79 34 80 35 80 35 79 36 80 37m-1663-657l80 26 80 25 80 26 80 27 80 27 80 28 80 28 80 29 80 30 80 30 80 30 80 31 80 32 80 32 79 33 80 34 80 34 79 35 80 35 80 36 79 37m-1707-620l30-25m20 7l-30 25m20 6l30-25m20 6l-30 25m20 6l30-24m20 6l-30 25m20 6l30-25m20 7l-30 25m20 6l30-25m20 7l-30 25m20 6l30-25m20 7l-30 25m20 6l30-25m20 7l-30 25m20 6l30-24m20 6l-30 25m20 7l30-25m20 7l-30 25m20 6l30-24m20 6l-30 25m20 7l30-25m20 7l-30 25m20 7l30-25m20 7l-30 25m20 7l30-25m20 7l-30 25m20 7l30-25m20 7l-30 25m20 7l30-25m20 8l-30 24m20 7l30-24m20 7l-30 25m20 7l30-25m20 8l-30 24m20 8l30-25m20 7l-30 25m20 7l30-24m20 7l-30 25m20 7l30-24m20 7l-30 25m20 7l30-24m20 7l-30 25m20 8l30-25m20 8l-30 24m20 8l30-25m20 8l-30 25m20 7l30-24m20 8l-30 24m20 8l30-25m20 8l-30 25m20 8l30-25m20 8l-30 25m20 8l30-25m20 8l-30 25m20 8l30-25m20 8l-30 25m20 8l30-25m19 9l-29 24m20 8l29-24m20 8l-29 25m20 8l29-25m20 9l-29 24m20 9l29-25m20 9l-29 24m20 8l29-24m20 8l-29 25m20 8l29-24m20 8l-29 25m20 9l29-25m20 9l-29 24m20 9l29-25m20 9l-29 25m20 8l28-24m20 9l-28 24m20 9l28-25m20 9l-29 25m20 9l29-25m20 9l-29 25m20 9l29-25m20 9l-29 25m20 9l29-25m19 9l-28 25m20 9l28-25m20 10l-28 24m20 9l28-24"/>
<path fill="#d20a08" d="M664 678l86 28 31-30-86-27z"/>
<path fill="#d20908" d="M744 703l86 28 31-29-86-28zM824 729l86 29 31-30-86-28zM904 755l86 29 31-29-86-29zM985 782l86 29 30-29-86-30zM1065 809l86 30 30-29-85-31z"/>
<path fill="#d20a08" d="M1145 837l86 30 31-29-86-31zM1225 865l86 31 31-29-86-31z"/>
<path fill="#d30a08" d="M1305 894l86 32 31-30-86-32zM1385 923l86 33 31-30-86-32zM1465 953l86 33 31-29-86-33z"/>
<path fill="#d40a08" d="M1546 983l85 34 31-29-86-34z"/>
<path fill="#d50b08" d="M1626 1015l85 34 31-29-86-35z"/>
<path fill="#d70d08" d="M1706 1046l86 35 30-29-86-35z"/>
<path fill="#d91009" d="M1786 1079l86 35 30-29-86-36z"/>
<path fill="#db1209" d="M1866 1111l85 37 31-29-86-37z"/>
<path fill="#de1509" d="M1946 1145l85 37 30-29-85-37z"/>
<path fill="#e11809" d="M2026 1179l85 38 30-29-85-38z"/>
<path fill="#e41c0a" d="M2105 1214l86 38 30-29-85-38z"/>
<path fill="#e7210a" d="M2185 1249l86 39 30-29-86-39z"/>
<path fill="#eb2b0b" d="M2265 1285l85 39 30-29-85-39z"/>
<path class="m" d="M683 665l80 25 80 25 80 26 80 27 80 27 80 28 80 28 80 29 80 29 81 30 80 31 80 31 80 32 80 32 80 33 80 33 80 35 79 34 80 36 80 36 79 36m-1664-657l80 25 80 26 80 26 80 27 80 27 80 28 80 28 80 29 80 29 80 30 80 31 80 31 80 32 80 32 80 33 80 33 80 35 80 34 79 36 80 36 80 36m-1709-617l30-27m20 7l-30 26m20 7l30-27m20 6l-30 27m20 6l30-27m20 7l-30 27m20 6l30-27m20 7l-30 26m20 7l30-27m20 7l-30 26m20 7l30-27m20 7l-30 26m20 7l30-27m20 7l-30 27m20 6l30-27m20 7l-30 27m20 7l30-27m20 7l-30 26m20 7l30-27m20 7l-30 27m20 7l30-27m20 7l-30 27m20 7l30-27m20 7l-30 27m20 7l30-27m20 7l-30 27m20 7l30-27m20 7l-30 27m20 7l30-27m20 7l-30 27m21 7l29-27m20 8l-29 26m20 8l29-27m20 7l-29 27m20 7l29-26m20 7l-29 27m20 7l29-27m20 8l-29 27m20 7l29-27m20 8l-29 27m20 7l29-27m20 8l-29 27m20 7l29-26m20 7l-29 27m20 8l29-27m20 8l-29 26m20 8l29-27m20 8l-29 27m20 8l29-27m20 8l-29 27m20 8l29-27m20 8l-29 26m20 8l29-26m20 8l-29 26m20 8l29-26m20 8l-29 27m20 8l29-27m20 8l-29 27m20 8l29-27m20 9l-29 26m20 9l29-27m20 8l-29 27m20 8l29-26m20 8l-29 27m20 8l29-27m20 9l-29 27m20 8l29-27m20 9l-29 27m20 8l29-26m20 8l-29 27m20 8l29-26m20 9l-29 26m20 9l29-27m20 9l-29 27m20 8l29-26m19 9l-28 26m20 9l28-26m20 9l-28 26m20 9l28-26m20 9l-28 26m19 9l29-26m20 9l-29 26m20 9l29-26m20 9l-29 26m20 10l29-27"/>
<path fill="#d40a08" d="M635 707l85 28 31-32-86-27zM715 732l85 28 31-31-86-28z"/>
<path fill="#d30a08" d="M795 758l86 28 30-31-85-29zM875 784l86 29 31-31-86-30zM955 811l86 29 31-31-86-30zM1035 838l86 30 31-31-86-31zM1115 865l86 31 31-31-86-31z"/>
<path fill="#d40a08" d="M1195 894l86 31 31-31-86-32zM1276 923l86 32 30-32-86-32z"/>
<path fill="#d50b08" d="M1356 952l86 33 30-32-86-33z"/>
<path fill="#d60c08" d="M1436 982l86 33 31-31-86-34z"/>
<path fill="#d80e08" d="M1516 1012l86 34 31-31-86-34z"/>
<path fill="#d91009" d="M1596 1043l86 35 31-31-86-35z"/>
<path fill="#db1209" d="M1677 1075l85 35 31-31-86-35z"/>
<path fill="#dd1409" d="M1757 1107l85 36 31-31-86-36z"/>
<path fill="#e01709" d="M1837 1140l85 37 31-32-86-36z"/>
<path fill="#e21a0a" d="M1917 1174l85 37 31-32-86-37z"/>
<path fill="#e51d0a" d="M1997 1208l85 37 30-31-85-38z"/>
<path fill="#e8230b" d="M2077 1242l85 39 30-32-85-38z"/>
<path fill="#eb2b0b" d="M2157 1278l85 39 30-32-85-39z"/>
<path fill="#ef340c" d="M2236 1314l86 39 30-31-86-40z"/>
<path class="m" d="M653 692l80 25 80 26 80 26 80 27 80 27 80 28 81 28 80 29 80 29 80 30 80 31 81 31 80 32 80 32 80 33 80 33 80 34 80 35 79 35 80 36 80 37m-1666-658l80 25 80 26 80 26 80 27 80 27 80 28 80 28 81 29 80 29 80 30 80 31 80 31 80 31 80 33 80 33 80 33 80 34 80 35 80 35 79 36 80 37m-1710-615l30-29m20 6l-30 29m20 6l30-28m20 6l-30 29m20 6l30-29m20 7l-30 28m20 7l30-29m20 6l-30 29m20 7l30-29m20 6l-30 29m20 7l30-29m20 6l-30 29m20 7l30-29m20 7l-30 28m20 7l30-29m20 7l-30 29m20 6l30-28m20 6l-30 29m20 7l30-29m20 7l-30 29m21 7l29-29m20 7l-29 29m20 6l29-28m20 7l-29 28m20 7l29-28m20 7l-29 28m20 8l29-29m20 7l-29 29m20 7l29-29m20 7l-29 29m20 7l30-29m20 7l-30 29m20 8l30-29m20 7l-30 29m20 7l30-29m20 8l-30 29m20 7l30-29m20 8l-30 28m20 8l30-29m20 8l-30 28m21 8l29-29m20 8l-29 28m20 8l29-29m20 8l-29 29m20 7l29-28m20 7l-29 29m20 8l29-29m20 8l-29 29m20 8l29-29m20 8l-29 28m20 8l29-28m20 7l-29 29m20 8l29-29m20 8l-29 29m20 8l29-29m20 9l-29 28m20 9l29-29m20 8l-29 29m20 8l29-29m20 8l-29 29m20 8l29-28m20 8l-29 29m20 8l29-29m20 9l-29 28m20 9l29-29m20 9l-29 28m20 9l29-29m20 9l-29 28m20 9l29-29m20 9l-29 29m20 8l29-29m20 9l-29 29m20 9l29-29m20 9l-29 28m20 9l29-29m20 9l-29 29m20 9l29-29m20 9l-29 29m20 9l29-29m20 9l-29 29m20 9l28-29m20 9l-28 29m20 9l28-29m20 9l-28 29m20 9l28-28"/>
<path fill="#d91009" d="M605 738l86 28 31-34-86-28z"/>
<path fill="#d80f08" d="M685 763l86 28 31-33-86-29z"/>
<path fill="#d80e08" d="M765 789l86 28 31-33-86-29zM845 815l86 29 31-34-86-29zM925 841l86 30 31-33-86-30zM1006 869l86 30 30-34-86-30zM1086 896l86 31 30-33-86-31z"/>
<path fill="#d90f09" d="M1166 925l86 31 31-34-86-31z"/>
<path fill="#d91009" d="M1246 954l86 32 31-34-86-32z"/>
<path fill="#da1109" d="M1327 983l86 33 30-34-86-33z"/>
<path fill="#db1209" d="M1407 1013l86 33 30-34-86-33z"/>
<path fill="#dd1409" d="M1487 1043l86 34 30-33-85-34z"/>
<path fill="#de1609" d="M1567 1074l86 35 31-34-86-34z"/>
<path fill="#e01809" d="M1647 1106l86 35 31-33-86-35z"/>
<path fill="#e21a0a" d="M1728 1138l85 36 31-34-86-35z"/>
<path fill="#e51c0a" d="M1808 1171l86 37 30-34-86-36z"/>
<path fill="#e7210a" d="M1888 1205l86 37 30-34-86-37z"/>
<path fill="#ea280b" d="M1968 1239l86 37 30-33-86-38z"/>
<path fill="#ed2f0c" d="M2048 1273l85 39 31-34-86-38z"/>
<path fill="#f0380d" d="M2128 1309l85 39 30-34-85-39z"/>
<path fill="#f3410e" d="M2208 1345l85 39 30-33-85-40z"/>
<path class="m" d="M623 722l80 25 80 26 80 26 81 27 80 27 80 28 80 28 80 29 81 29 80 30 80 31 80 31 80 31 81 33 80 33 80 33 80 34 80 35 80 35 80 36 79 37m-1667-659l80 25 80 26 80 26 80 26 81 28 80 27 80 29 80 29 80 29 81 30 80 30 80 32 80 31 80 33 80 32 80 34 80 34 80 35 80 35 80 36 80 36m-1712-612l30-31m20 6l-30 31m20 6l30-31m20 7l-30 31m20 6l30-31m20 6l-30 31m20 7l30-31m20 6l-30 31m20 7l30-31m20 6l-29 31m20 7l29-31m20 6l-29 31m20 7l29-31m20 6l-29 31m20 7l29-31m20 7l-29 31m20 6l29-31m20 7l-29 31m20 7l29-31m20 7l-29 31m20 7l30-31m20 7l-30 30m20 7l30-31m20 7l-30 31m20 7l30-31m20 7l-30 31m20 7l30-30m20 7l-30 30m21 8l29-31m20 7l-29 31m20 7l29-31m20 7l-29 31m20 7l29-30m20 7l-29 31m20 7l29-31m20 8l-29 30m20 8l29-31m20 7l-29 31m20 8l29-31m20 7l-29 31m20 8l30-31m20 7l-30 31m20 8l30-31m20 8l-30 31m21 7l29-31m20 8l-29 31m20 8l29-31m20 8l-29 31m20 7l29-30m20 7l-29 31m20 8l29-31m20 8l-29 31m20 8l29-31m20 8l-29 31m20 8l29-31m20 8l-29 31m20 8l29-30m20 8l-29 31m20 8l29-31m20 8l-29 31m20 8l29-31m20 9l-29 31m20 8l29-31m20 8l-29 31m20 9l29-31m20 8l-29 31m20 9l29-31m20 8l-29 31m20 9l29-31m20 9l-29 31m20 8l29-31m20 9l-29 31m20 9l29-31m20 8l-29 31m20 9l29-31m20 9l-29 31m20 9l29-31m20 9l-29 31m20 9l29-31m20 9l-29 31m20 9l29-31m20 9l-29 31m20 9l29-31m20 9l-29 31m20 9l29-31"/>
<path fill="#e01709" d="M575 771l86 27 31-35-86-28z"/>
<path fill="#df1709" d="M655 796l86 28 31-36-86-28z"/>
<path fill="#df1609" d="M736 822l85 28 31-36-86-28z"/>
<path fill="#de1509" d="M816 848l86 29 30-36-86-29zM896 874l86 30 31-36-86-29zM976 902l86 30 31-36-86-30z"/>
<path fill="#de1609" d="M1056 929l86 31 31-36-86-30z"/>
<path fill="#df1609" d="M1137 958l86 31 30-36-86-31z"/>
<path fill="#e01709" d="M1217 987l86 32 31-36-86-32z"/>
<path fill="#e01809" d="M1297 1016l86 33 31-36-86-33z"/>
<path fill="#e2190a" d="M1378 1046l86 33 30-36-86-33z"/>
<path fill="#e31b0a" d="M1458 1077l86 33 30-36-86-33z"/>
<path fill="#e41c0a" d="M1538 1108l86 34 30-36-85-34z"/>
<path fill="#e61e0a" d="M1618 1139l86 35 31-36-86-35z"/>
<path fill="#e8240b" d="M1699 1172l86 35 30-36-86-35z"/>
<path fill="#ea290b" d="M1779 1204l86 37 30-36-86-36z"/>
<path fill="#ed300c" d="M1859 1238l86 37 30-36-86-37z"/>
<path fill="#f0370d" d="M1939 1272l86 38 30-36-86-38z"/>
<path fill="#f33e0e" d="M2019 1307l86 38 30-36-86-38z"/>
<path fill="#f5470f" d="M2099 1342l86 39 30-36-86-39z"/>
<path fill="#f75211" d="M2179 1378l86 39 29-35-85-40z"/>
<path class="m" d="M594 754l80 25 80 26 80 26 80 27 80 27 81 28 80 28 80 29 80 29 81 30 80 31 80 31 80 31 81 33 80 33 80 33 80 34 80 35 80 35 80 36 80 37m-1669-660l80 25 80 26 81 26 80 26 80 28 80 27 81 29 80 28 80 30 80 30 81 30 80 31 80 32 80 32 80 33 80 34 80 34 80 35 80 35 80 36 80 36m-1712-610l29-33m20 6l-29 33m20 6l29-33m20 7l-29 32m20 7l29-33m20 6l-29 33m20 7l29-33m20 6l-29 33m20 6l29-32m21 6l-30 33m20 6l30-32m20 6l-30 33m20 7l30-33m20 6l-30 33m20 7l30-33m20 7l-30 33m20 6l30-33m20 7l-30 33m21 7l29-33m20 7l-29 33m20 7l29-33m20 6l-29 33m20 7l29-33m20 7l-29 33m20 7l29-33m20 7l-29 33m20 7l29-33m20 7l-29 33m20 8l30-33m20 7l-30 33m20 7l30-33m20 7l-30 33m21 7l29-33m20 8l-29 33m20 7l29-33m20 7l-29 33m20 8l29-33m20 7l-29 33m20 8l29-33m20 7l-29 33m20 8l29-33m20 7l-29 33m20 8l29-33m20 8l-29 33m20 7l30-33m20 8l-30 33m21 8l29-33m20 8l-29 33m20 8l29-34m20 8l-29 33m20 8l29-33m20 8l-29 33m20 8l29-33m20 8l-29 33m20 8l29-33m20 8l-29 33m20 9l29-34m20 9l-29 33m20 8l29-33m20 8l-29 33m20 8l29-33m20 9l-29 33m20 8l29-33m20 8l-29 34m21 8l28-33m20 8l-28 33m20 9l28-33m20 8l-28 34m20 8l28-33m20 9l-28 33m20 8l28-33m20 9l-28 33m20 9l28-33m20 8l-28 34m20 8l28-33m20 9l-28 33m20 9l28-33m20 9l-28 33m20 9l28-33m20 9l-28 33m20 9l28-33m20 9l-28 33m20 9l28-33m20 9l-29 33m20 10l29-34"/>
<path fill="#e8230b" d="M546 806l86 27 30-38-85-27z"/>
<path fill="#e7210a" d="M626 831l86 28 31-38-86-28z"/>
<path fill="#e61f0a" d="M706 857l86 28 31-38-86-28z"/>
<path fill="#e61e0a" d="M786 883l86 29 31-38-86-29zM867 909l86 30 30-38-86-29z"/>
<path fill="#e61d0a" d="M947 937l86 30 30-38-86-30z"/>
<path fill="#e61e0a" d="M1027 965l86 30 31-38-86-30zM1108 993l86 31 30-38-86-31z"/>
<path fill="#e7200a" d="M1188 1022l86 32 30-38-86-32z"/>
<path fill="#e8220a" d="M1268 1051l86 33 31-38-86-33z"/>
<path fill="#e9250b" d="M1349 1081l86 33 30-38-86-33z"/>
<path fill="#ea280b" d="M1429 1112l86 34 30-39-86-33z"/>
<path fill="#eb2c0c" d="M1509 1143l86 34 30-38-85-34z"/>
<path fill="#ed300c" d="M1589 1175l86 35 31-38-86-35z"/>
<path fill="#ef350d" d="M1670 1207l86 36 30-39-86-35z"/>
<path fill="#f13b0d" d="M1750 1240l86 36 30-38-86-36z"/>
<path fill="#f4410e" d="M1830 1273l86 37 30-38-86-37z"/>
<path fill="#f5490f" d="M1910 1307l86 38 30-38-85-38z"/>
<path fill="#f75211" d="M1990 1342l86 38 30-38-85-38z"/>
<path fill="#f95b13" d="M2071 1378l85 38 30-38-85-39z"/>
<path fill="#fa6614" d="M2150 1414l86 39 30-38-85-40z"/>
<path class="m" d="M564 788l80 25 80 26 81 26 80 26 80 28 80 28 81 28 80 29 80 29 81 30 80 31 80 31 80 32 81 32 80 33 80 33 80 35 80 34 80 36 80 36 80 36m-1669-661l80 25 80 25 80 27 80 26 81 28 80 27 80 29 81 28 80 30 80 30 80 30 81 32 80 31 80 33 80 32 81 34 80 34 80 35 80 35 80 36 79 37m-1712-610l29-34m20 6l-29 35m20 6l29-35m20 6l-29 35m20 7l29-35m20 6l-29 35m20 6l29-34m20 6l-29 35m20 6l29-35m20 7l-29 35m20 6l29-35m20 7l-29 35m20 7l29-35m20 6l-29 35m20 7l29-35m20 7l-29 35m20 6l29-35m20 7l-29 35m20 7l30-35m20 7l-30 35m20 7l30-35m20 6l-29 35m20 7l29-35m20 7l-29 35m20 7l29-35m20 7l-29 35m20 7l29-35m20 7l-29 36m20 7l29-35m20 7l-29 35m20 7l29-35m20 7l-29 35m20 8l30-36m20 8l-30 35m21 7l29-35m20 7l-29 36m20 7l29-35m20 7l-29 35m20 8l29-35m20 7l-29 36m20 7l29-35m20 7l-29 36m20 7l29-35m20 8l-29 35m20 8l29-36m20 8l-29 35m21 8l29-35m20 8l-29 35m20 8l29-35m20 7l-29 36m20 8l29-36m20 8l-29 36m20 8l29-36m20 8l-29 36m20 8l29-36m20 8l-29 36m20 8l29-35m20 8l-29 35m20 8l29-35m20 8l-29 36m20 8l29-36m20 9l-28 35m20 9l28-36m20 9l-28 35m20 8l29-35m20 8l-29 36m20 8l29-35m20 9l-29 35m20 8l29-35m20 9l-29 35m20 9l29-36m20 9l-29 35m20 9l29-35m20 9l-29 35m20 9l29-36m20 9l-29 36m20 9l29-36m20 9l-29 35m20 9l29-35m20 9l-29 35m20 10l29-36m20 9l-29 36m20 9l29-36m19 9l-28 36m20 9l28-35"/>
<path fill="#f13a0d" d="M517 843l86 27 30-40-86-27z"/>
<path fill="#f0370d" d="M597 868l86 28 30-40-86-28z"/>
<path fill="#ef350d" d="M677 894l86 28 30-40-85-28z"/>
<path fill="#ee340c" d="M757 920l86 29 31-40-86-29z"/>
<path fill="#ee330c" d="M838 947l86 29 30-40-86-29z"/>
<path fill="#ee320c" d="M918 974l86 30 30-40-86-30z"/>
<path fill="#ee330c" d="M998 1002l86 31 31-41-86-30z"/>
<path fill="#ee340c" d="M1079 1030l86 32 30-41-86-31z"/>
<path fill="#ef350d" d="M1159 1059l86 32 30-40-86-32z"/>
<path fill="#f0370d" d="M1239 1089l86 32 31-40-86-33z"/>
<path fill="#f1390d" d="M1320 1119l86 33 30-41-86-33z"/>
<path fill="#f23d0d" d="M1400 1149l86 34 30-40-86-34z"/>
<path fill="#f3400e" d="M1480 1180l86 35 30-41-85-34z"/>
<path fill="#f5450f" d="M1561 1212l85 35 31-40-86-35z"/>
<path fill="#f64b10" d="M1641 1245l86 35 30-40-86-36z"/>
<path fill="#f75111" d="M1721 1277l86 37 30-41-86-36z"/>
<path fill="#f85912" d="M1801 1311l86 37 30-41-85-36z"/>
<path fill="#fa6114" d="M1882 1345l85 38 30-41-85-37z"/>
<path fill="#fb6915" d="M1962 1380l85 38 31-41-86-38z"/>
<path fill="#fc7217" d="M2042 1415l85 39 30-41-85-38z"/>
<path fill="#fd7c19" d="M2122 1451l85 40 30-41-85-39z"/>
<path class="m" d="M535 824l80 25 80 26 80 26 81 27 80 27 80 28 81 28 80 29 80 29 81 30 80 31 80 31 81 32 80 32 80 33 80 34 80 34 81 35 80 35 80 36 80 37m-1670-664l80 26 80 25 80 27 80 26 80 28 81 27 80 29 80 29 81 29 80 30 80 31 81 31 80 32 80 32 80 33 81 33 80 34 80 35 80 36 80 36 80 36m-1714-608l30-37m20 7l-30 37m20 6l30-37m20 6l-30 37m20 7l30-37m20 6l-29 37m20 6l29-37m20 7l-29 37m20 6l29-37m20 7l-29 37m20 6l29-37m20 7l-29 37m20 7l29-37m20 6l-29 37m20 7l29-37m20 7l-29 37m20 6l29-37m20 7l-29 37m20 7l29-37m20 7l-29 37m20 7l29-37m21 6l-30 38m21 6l29-37m20 7l-29 37m20 7l29-37m20 7l-29 38m20 7l29-38m20 8l-29 37m20 7l29-37m20 7l-29 37m20 7l29-37m20 7l-29 38m20 7l29-37m20 7l-29 37m21 7l29-37m20 8l-29 37m20 7l29-37m20 7l-29 38m20 7l29-37m20 8l-29 37m20 7l29-37m20 8l-29 37m20 8l29-38m20 8l-29 37m20 8l29-37m20 7l-28 38m20 8l29-38m20 8l-29 37m20 8l29-37m20 8l-29 37m20 8l29-37m20 8l-29 37m20 8l29-37m20 8l-29 37m20 8l29-37m20 8l-29 37m20 8l29-37m20 8l-29 38m21 8l28-38m20 9l-28 37m20 8l28-37m21 8l-29 38m20 8l29-37m20 8l-29 37m20 9l29-38m20 9l-29 37m20 9l29-38m20 9l-29 37m20 9l29-38m20 9l-29 38m20 8l29-37m20 8l-29 38m20 9l29-38m20 9l-29 38m20 8l29-37m20 9l-29 37m20 9l29-37m20 8l-29 38m20 9l29-38m20 9l-29 38m20 9l29-37m20 9l-29 37m20 10l29-38m20 9l-29 38m20 9l29-38"/>
<path fill="#f85612" d="M488 882l86 27 30-42-86-27z"/>
<path fill="#f75311" d="M568 907l86 28 30-42-86-28z"/>
<path fill="#f75011" d="M648 933l86 28 30-42-86-29z"/>
<path fill="#f64e10" d="M728 959l86 29 31-42-86-29z"/>
<path fill="#f64d10" d="M809 986l86 30 30-43-86-29z"/>
<path fill="#f64c10" d="M889 1013l86 30 30-42-86-30zM969 1041l86 31 30-42-85-31z"/>
<path fill="#f64d10" d="M1050 1069l86 32 30-43-86-31z"/>
<path fill="#f64e10" d="M1130 1098l86 33 30-43-86-32z"/>
<path fill="#f75111" d="M1210 1128l86 33 31-43-86-33z"/>
<path fill="#f75311" d="M1291 1158l86 33 30-42-86-33z"/>
<path fill="#f85712" d="M1371 1189l86 34 30-43-86-34z"/>
<path fill="#f95b13" d="M1451 1220l86 34 31-42-86-35z"/>
<path fill="#f96013" d="M1532 1252l86 35 30-43-86-35z"/>
<path fill="#fa6614" d="M1612 1284l86 36 30-43-86-35z"/>
<path fill="#fc6c16" d="M1692 1317l86 37 30-43-85-37z"/>
<path fill="#fc7317" d="M1773 1351l85 37 31-43-86-37z"/>
<path fill="#fd7a19" d="M1853 1385l86 38 30-43-86-38z"/>
<path fill="#fd821b" d="M1933 1420l86 38 30-43-86-38z"/>
<path fill="#fe8b1d" d="M2013 1455l86 39 30-43-86-39z"/>
<path fill="#ff941f" d="M2093 1491l86 40 30-43-86-40z"/>
<path class="m" d="M491 881l81 25 80 26 80 27 80 26 80 28 81 28 80 28 80 29 81 30 80 30 81 31 80 31 80 32 81 32 80 33 80 34 80 34 81 35 80 35 80 36 80 37m-1671-667l80 26 80 25 80 27 81 27 80 27 80 28 81 28 80 29 80 30 81 30 80 31 80 31 81 32 80 32 80 33 81 34 80 34 80 35 80 35 80 36 80 37m-1671-666l80 26 81 25 80 27 80 26 80 28 81 27 80 29 80 29 81 29 80 30 80 31 81 31 80 32 80 32 81 33 80 34 80 34 80 35 80 35 80 36 80 37m-1714-607l29-39m20 7l-28 38m20 7l28-39m20 6l-28 39m20 6l28-38m21 6l-29 39m20 6l29-39m20 7l-29 39m20 6l29-39m20 7l-29 39m20 6l29-39m20 7l-29 39m20 7l29-39m20 6l-29 39m20 7l29-39m20 7l-29 39m20 6l29-39m20 7l-29 39m20 7l29-39m20 7l-29 39m20 7l29-39m20 7l-28 39m20 7l29-40m20 7l-29 40m20 7l29-40m20 8l-29 39m20 7l29-39m20 7l-29 39m20 7l29-39m20 7l-29 39m20 8l29-40m20 8l-29 39m20 7l29-39m20 7l-28 40m20 7l29-40m20 8l-29 39m20 8l29-40m20 8l-29 39m20 8l29-40m20 8l-29 39m20 8l29-40m20 8l-29 39m20 8l29-39m20 7l-28 40m20 8l28-40m21 8l-29 39m20 8l29-39m20 7l-29 40m20 8l29-40m20 8l-29 40m20 8l29-40m20 8l-29 40m20 8l29-40m20 8l-29 40m21 8l28-40m20 8l-28 40m20 8l28-40m20 9l-28 39m20 9l29-40m20 8l-29 40m20 8l29-40m20 9l-29 39m20 9l29-40m20 8l-29 40m20 9l29-40m20 8l-29 40m20 9l29-40m20 8l-29 40m20 9l29-40m20 9l-28 40m20 8l28-40m20 9l-28 40m20 9l28-40m20 9l-28 40m20 8l28-40m20 9l-28 40m20 9l28-40m20 9l-28 40m20 9l28-40m20 9l-28 40m20 9l28-40m20 9l-28 40m20 10l28-40m20 9l-28 40m20 9l28-40"/></g>
<g><path class="ax" d="M59.7 237L47.1 59.2"/>
<path class="ax" d="M326 217.4L338.4 43.9"/>
<circle cx="56.7" cy="194.8" r="1.5"/>
<circle cx="55.1" cy="172.2" r="1.5"/>
<circle cx="53.5" cy="149.6" r="1.5"/>
<circle cx="51.9" cy="127" r="1.5"/>
<circle cx="50.3" cy="104.4" r="1.5"/>
<circle cx="48.7" cy="81.8" r="1.5"/>
<circle cx="47.1" cy="59.2" r="1.5"/>
<circle cx="59.7" cy="237" r="1.5"/>
<circle cx="98.7" cy="254.7" r="1.5"/>
<circle cx="137.6" cy="272.4" r="1.5"/>
<circle cx="176.6" cy="290.1" r="1.5"/>
<circle cx="215.5" cy="307.8" r="1.5"/>
<circle cx="243.1" cy="285.2" r="1.5"/>
<circle cx="270.8" cy="262.6" r="1.5"/>
<circle cx="298.4" cy="240" r="1.5"/>
<circle cx="326" cy="217.4" r="1.5"/></g>
<g transform="scale(.1)" stroke-width="7" stroke-opacity="0.65"><path fill="#871306" d="M6044 585l91 4 61-18-92-3z"/>
<path fill="#a21407" d="M6129 587l91 10 61-18-91-10z"/>
<path fill="#b41508" d="M6214 595l92 15 61-19-92-15z"/>
<path fill="#c11608" d="M6300 607l91 20 61-19-91-20z"/>
<path fill="#cb1709" d="M6385 624l91 26 61-20-90-25z"/>
<path fill="#d41809" d="M6471 647l91 31 61-20-91-31z"/>
<path fill="#db1909" d="M6556 675l91 37 61-21-90-37z"/>
<path fill="#e21b0a" d="M6642 708l90 42 61-21-90-42z"/>
<path fill="#e61e0a" d="M6727 746l89 48 61-22-89-47z"/>
<path fill="#e8230b" d="M6812 790l89 54 61-22-89-53z"/>
<path fill="#eb2b0b" d="M6896 840l89 59 61-22-89-59z"/>
<path fill="#ef340c" d="M6980 895l89 65 60-23-88-65z"/>
<path fill="#f33f0e" d="M7064 956l88 71 61-24-88-70z"/>
<path fill="#f64d10" d="M7148 1023l87 77 60-25-87-76z"/>
<path fill="#f95e13" d="M7231 1095l86 83 60-25-86-82z"/>
<path fill="#fc7117" d="M7313 1173l86 90 60-26-86-88z"/>
<path fill="#fe841b" d="M7395 1258l85 95 60-26-85-94z"/>
<path fill="#ff9921" d="M7476 1348l84 102 60-27-84-101z"/>
<path class="m" d="M6067 579l85 3 86 7 85 12 86 18 85 22 86 28 85 33 85 39 85 44 84 49 84 55 84 61 83 67 83 72 82 78 82 84 81 91 80 96m-1491-863l85 2 86 7 85 12 86 17 85 23 85 27 86 33 85 38 84 44 85 50 84 54 84 61 83 66 83 73 82 78 81 84 81 90 80 96m-1490-860l85 2 86 7 85 12 85 17 86 22 85 27 85 33 85 38 85 44 84 49 84 55 84 60 83 66 83 72 82 78 82 84 80 90 80 96m-1569-837l60-15m21 0l-60 15m22 0l60-15m21 1l-60 15m21 1l60-15m22 1l-60 15m21 2l60-15m21 2l-59 15m21 2l60-15m21 2l-60 16m22 3l59-16m22 3l-60 16m21 4l60-16m21 3l-59 17m21 4l60-16m21 4l-59 17m21 4l59-16m22 5l-60 17m22 5l59-17m22 6l-60 17m21 6l60-17m21 6l-59 18m21 7l60-18m21 7l-60 18m22 7l59-18m21 8l-59 18m21 8l60-18m21 8l-59 19m21 8l59-18m22 9l-60 19m22 9l59-18m21 9l-59 19m21 10l59-19m21 11l-59 19m22 10l59-19m21 11l-59 20m21 11l59-19m21 12l-59 19m21 12l59-19m21 12l-59 20m22 13l58-20m21 13l-58 20m21 14l58-20m21 14l-58 20m21 14l58-20m21 14l-58 21m21 15l58-21m21 15l-58 21m21 16l58-21m21 16l-58 21m20 17l59-22m21 17l-59 22m21 17l58-22m21 18l-58 21m20 18l59-21m20 18l-58 22m21 18l58-22m21 19l-59 22m21 20l58-23m21 20l-58 23m20 20l58-23m21 20l-58 23m20 21l58-23m20 21l-58 24m21 21l58-23m20 22l-58 23m20 23l58-24m20 23l-57 24m20 23l57-24m20 23l-57 24m20 24l58-24m20 24l-58 25m20 24l57-24"/>
<path fill="#941407" d="M5984 601l91 5 61-19-92-5z"/>
<path fill="#aa1507" d="M6069 604l92 10 60-20-91-9z"/>
<path fill="#ba1608" d="M6155 612l91 15 61-20-91-15z"/>
<path fill="#c51608" d="M6240 624l91 21 61-21-91-20z"/>
<path fill="#ce1709" d="M6326 642l91 27 61-22-91-25z"/>
<path fill="#d61809" d="M6411 665l91 32 61-22-90-31z"/>
<path fill="#dd1909" d="M6497 694l90 37 62-22-91-37z"/>
<path fill="#e31b0a" d="M6582 727l90 43 62-22-90-43z"/>
<path fill="#e51d0a" d="M6668 766l89 49 61-23-89-48z"/>
<path fill="#e8220a" d="M6753 811l89 54 61-23-89-54z"/>
<path fill="#eb2a0b" d="M6837 861l89 60 61-24-89-59z"/>
<path fill="#ee330c" d="M6922 916l88 66 61-24-88-65z"/>
<path fill="#f33e0e" d="M7006 978l88 71 60-24-87-71z"/>
<path fill="#f64d10" d="M7089 1045l88 78 60-26-87-77z"/>
<path fill="#f95d13" d="M7172 1118l87 84 60-26-86-83z"/>
<path fill="#fc7016" d="M7255 1197l86 90 60-26-86-90z"/>
<path fill="#fe841b" d="M7337 1282l85 96 60-27-85-95z"/>
<path fill="#ff9920" d="M7418 1373l85 102 59-27-84-102z"/>
<path class="m" d="M6007 595l86 3 85 8 86 12 85 18 86 23 85 29 86 33 85 39 85 45 84 50 85 55 84 61 83 68 83 72 83 79 81 85 82 91 80 97m-1494-873l86 2 85 8 85 13 86 17 86 23 85 28 85 34 85 39 85 44 85 50 84 55 84 61 84 67 82 73 83 78 82 85 81 91 80 97m-1493-870l85 2 86 7 85 13 86 17 85 23 86 28 85 33 85 39 85 44 85 50 84 55 84 61 83 67 83 72 82 79 82 84 81 91 80 96m-1572-845l60-16m21 0l-59 16m21 1l60-17m21 1l-60 16m22 2l59-17m22 1l-60 17m21 2l60-17m22 2l-60 17m21 3l60-18m21 3l-59 17m21 3l60-17m21 3l-60 18m22 3l59-17m22 4l-60 17m22 5l59-18m22 5l-60 17m21 5l60-18m21 6l-59 18m21 5l60-18m21 6l-59 18m21 7l59-19m22 7l-60 18m22 7l59-18m21 7l-59 18m21 8l60-19m21 8l-59 19m21 8l59-19m22 9l-60 19m22 9l59-20m21 10l-59 19m21 10l60-20m21 10l-59 20m21 10l59-20m21 11l-59 19m22 11l59-20m21 12l-59 20m21 11l59-20m21 12l-59 20m21 13l59-21m21 13l-58 21m21 13l59-21m21 13l-59 21m21 14l59-21m21 14l-59 21m21 14l59-21m21 15l-59 21m21 15l59-21m21 15l-59 22m21 16l59-22m21 16l-59 22m21 17l58-22m21 17l-58 22m21 17l58-22m21 17l-59 23m21 18l58-23m21 19l-58 22m21 19l58-23m20 19l-58 23m21 20l58-23m21 20l-58 23m20 20l58-23m21 20l-58 24m20 21l58-24m20 22l-57 23m20 22l58-24m20 22l-58 24m21 23l57-24m21 23l-58 24m20 23l58-24m20 23l-57 25m20 24l57-25m20 25l-57 25m20 24l57-25"/>
<path fill="#9f1507" d="M5924 619l92 5 60-21-91-4z"/>
<path fill="#b11608" d="M6009 622l92 10 61-21-92-10z"/>
<path fill="#bf1608" d="M6095 630l91 16 61-22-91-15z"/>
<path fill="#c91608" d="M6181 643l91 21 61-22-91-20z"/>
<path fill="#d11709" d="M6266 661l91 27 61-22-91-27z"/>
<path fill="#d81809" d="M6352 685l91 32 61-23-91-31z"/>
<path fill="#de1909" d="M6438 714l90 37 61-23-90-37z"/>
<path fill="#e31b0a" d="M6523 748l90 43 61-24-90-43z"/>
<path fill="#e51d0a" d="M6608 787l90 49 61-24-89-48z"/>
<path fill="#e8220a" d="M6694 832l89 55 61-25-89-54z"/>
<path fill="#eb2a0b" d="M6778 882l89 61 61-25-88-60z"/>
<path fill="#ee330c" d="M6863 939l89 66 60-25-88-66z"/>
<path fill="#f23e0e" d="M6947 1000l88 72 61-25-88-72z"/>
<path fill="#f64c10" d="M7031 1068l87 78 61-26-87-77z"/>
<path fill="#f95d13" d="M7114 1141l87 85 60-27-86-83z"/>
<path fill="#fc7016" d="M7197 1221l86 90 60-26-86-90z"/>
<path fill="#fe831b" d="M7279 1306l86 97 60-27-86-96z"/>
<path fill="#ff9820" d="M7361 1398l84 102 60-27-84-102z"/>
<path class="m" d="M5947 612l86 4 85 8 86 13 86 18 85 23 86 29 85 34 86 40 85 44 84 51 85 56 84 62 84 67 83 74 83 79 82 85 81 92 81 97m-1497-882l86 4 85 8 86 13 85 18 86 23 86 29 85 33 85 40 85 44 85 51 85 56 84 61 83 68 83 73 83 79 82 85 81 92 81 97m-1496-879l86 3 85 8 86 12 85 18 86 24 85 28 86 34 85 39 85 44 85 51 84 55 84 62 84 67 83 73 82 79 82 85 81 91 81 97m-1574-853l59-17m22 0l-60 18m21 0l60-17m21 0l-59 18m21 2l60-18m21 1l-60 18m22 2l59-18m22 2l-60 18m21 3l60-18m22 2l-60 19m21 3l60-19m21 4l-59 18m21 4l60-19m21 4l-60 19m22 5l60-19m21 4l-60 19m22 6l59-20m22 6l-60 19m22 6l59-20m22 6l-60 20m21 6l60-19m21 6l-59 20m21 7l60-20m21 7l-59 20m21 8l59-20m22 8l-60 20m22 8l59-20m21 9l-59 20m21 9l60-20m21 9l-59 20m21 10l59-20m22 10l-59 20m21 11l59-21m21 10l-59 21m21 11l60-21m21 12l-59 21m21 12l59-22m21 12l-59 22m21 12l59-21m22 13l-59 21m21 13l59-21m21 13l-59 22m21 14l59-22m21 14l-59 22m21 14l59-22m21 15l-59 22m21 16l59-23m21 16l-59 22m21 16l59-22m21 16l-59 23m21 17l59-23m21 17l-59 23m21 17l59-23m20 18l-58 23m21 18l58-23m21 18l-58 24m20 19l59-24m20 19l-58 24m21 20l58-24m21 20l-58 24m20 20l58-24m21 21l-58 24m20 21l58-24m21 21l-58 25m20 22l58-25m20 22l-57 25m20 23l58-25m20 23l-57 25m20 23l57-25m21 24l-58 25m20 24l58-25m20 25l-58 25m21 25l57-26"/>
<path fill="#a81607" d="M5864 638l92 5 60-22-91-5z"/>
<path fill="#b71608" d="M5950 641l91 11 61-22-92-11z"/>
<path fill="#c31708" d="M6035 650l91 16 62-23-92-16z"/>
<path fill="#cc1709" d="M6121 663l91 22 61-23-91-22z"/>
<path fill="#d31709" d="M6207 682l91 27 61-24-91-26z"/>
<path fill="#da1809" d="M6292 706l91 32 61-24-90-32z"/>
<path fill="#e01909" d="M6378 735l91 38 61-25-91-37z"/>
<path fill="#e31b0a" d="M6464 769l90 44 61-25-90-43z"/>
<path fill="#e51d0a" d="M6549 809l90 49 61-25-89-49z"/>
<path fill="#e7220a" d="M6634 854l90 55 61-25-89-55z"/>
<path fill="#ea2a0b" d="M6719 905l90 61 61-26-89-60z"/>
<path fill="#ee330c" d="M6804 962l89 66 61-26-89-66z"/>
<path fill="#f23e0e" d="M6889 1024l88 72 61-26-88-72z"/>
<path fill="#f64c10" d="M6972 1092l88 78 61-26-88-78z"/>
<path fill="#f95d13" d="M7056 1166l87 84 60-27-86-84z"/>
<path fill="#fc6f16" d="M7139 1245l86 91 61-27-87-90z"/>
<path fill="#fd831b" d="M7221 1331l86 97 60-27-85-97z"/>
<path fill="#ff9820" d="M7303 1423l85 104 60-28-85-103z"/>
<path class="m" d="M5888 631l85 3 86 9 85 13 86 19 86 24 85 29 86 34 85 40 86 45 85 51 84 57 84 62 84 68 84 74 83 80 82 85 81 92 81 98m-1498-889l85 3 85 8 86 14 86 18 86 24 85 29 86 34 85 40 85 45 85 51 85 56 84 62 84 68 83 74 83 79 82 86 82 92 81 98m-1498-888l85 4 85 8 86 13 86 19 85 23 86 29 85 34 86 40 85 45 85 50 84 56 84 62 84 68 83 74 83 79 82 86 82 91 81 98m-1577-860l60-19m21 1l-60 19m21 1l60-20m22 1l-60 20m21 1l60-19m21 1l-60 20m22 2l60-20m21 2l-60 20m22 3l59-20m22 3l-60 20m21 3l60-20m22 3l-60 20m21 4l60-20m21 4l-59 20m21 5l60-20m21 4l-59 21m21 5l60-20m21 5l-59 20m21 6l60-20m21 6l-60 20m22 7l59-21m22 7l-60 21m22 7l59-21m22 7l-60 21m22 8l59-21m21 8l-59 21m21 9l60-22m21 9l-59 21m21 10l59-22m22 9l-59 22m21 10l59-22m22 10l-60 22m22 10l59-21m21 10l-59 22m21 11l59-22m22 12l-59 22m21 12l59-22m21 12l-59 22m21 13l59-23m22 13l-59 23m21 13l59-23m21 14l-59 22m21 14l59-22m21 14l-59 23m22 14l58-23m21 15l-58 24m21 15l58-23m21 15l-58 24m21 16l58-24m21 17l-58 23m21 17l58-23m21 17l-58 23m21 18l58-24m21 18l-58 24m21 18l58-24m21 19l-59 24m21 19l58-24m21 19l-58 24m21 20l58-24m21 20l-59 24m21 21l58-25m21 21l-58 25m20 21l58-25m21 22l-58 25m21 22l57-25m21 22l-58 25m20 23l58-25m21 23l-58 25m20 24l58-26m20 24l-57 26m20 24l57-26m20 25l-57 26m20 25l58-26"/>
<path fill="#af1708" d="M5804 658l92 6 61-23-92-6z"/>
<path fill="#bd1708" d="M5890 662l91 11 61-24-91-11z"/>
<path fill="#c71708" d="M5975 671l92 16 61-24-91-16z"/>
<path fill="#cf1709" d="M6061 685l91 21 62-24-92-22z"/>
<path fill="#d61709" d="M6147 704l91 27 61-25-91-27z"/>
<path fill="#dc1809" d="M6233 728l91 32 61-25-91-32z"/>
<path fill="#e1190a" d="M6319 757l90 38 62-25-91-38z"/>
<path fill="#e31b0a" d="M6404 792l91 44 61-26-90-44z"/>
<path fill="#e51d0a" d="M6490 832l90 49 61-26-90-49z"/>
<path fill="#e7220a" d="M6575 877l90 56 61-26-89-55z"/>
<path fill="#eb2a0b" d="M6661 929l89 61 61-27-89-60z"/>
<path fill="#ee330c" d="M6745 985l89 67 61-26-88-67z"/>
<path fill="#f23e0e" d="M6830 1048l88 73 61-27-88-73z"/>
<path fill="#f64c10" d="M6914 1116l88 79 61-27-88-78z"/>
<path fill="#f95d13" d="M6998 1191l87 85 60-28-87-84z"/>
<path fill="#fc6f16" d="M7081 1271l86 91 61-28-87-91z"/>
<path fill="#fd831b" d="M7163 1357l86 98 60-29-85-97z"/>
<path fill="#ff9820" d="M7245 1450l86 103 59-28-84-104z"/>
<path class="m" d="M5828 651l85 4 86 8 86 14 85 19 86 24 86 30 86 34 85 41 85 45 86 51 84 57 85 63 84 68 83 75 83 80 83 86 82 92 81 99m-1501-897l85 4 86 8 85 14 86 19 86 24 86 29 85 35 86 40 85 46 85 51 85 56 84 63 84 68 84 74 83 80 82 86 82 93 81 98m-1500-895l85 4 86 9 85 13 86 19 86 24 86 29 85 35 86 39 85 46 85 51 85 56 84 63 84 68 83 74 83 80 83 86 81 92 81 98m-1579-865l60-21m21 1l-60 20m22 1l59-20m22 1l-60 20m21 2l60-21m21 2l-59 20m21 3l60-21m21 2l-60 21m22 3l60-21m21 3l-60 21m22 3l59-21m22 3l-60 22m22 4l59-22m22 4l-60 22m22 4l59-21m22 5l-60 21m21 6l60-22m22 5l-60 22m21 6l60-22m21 6l-59 22m21 7l60-22m21 7l-59 22m21 7l60-22m21 7l-59 22m21 8l60-22m21 8l-59 22m21 9l59-22m22 8l-60 23m22 9l59-22m22 9l-60 23m22 10l59-23m21 10l-59 23m21 10l60-23m21 11l-59 23m21 12l59-24m22 12l-60 23m22 12l59-23m21 12l-59 23m21 13l59-23m22 13l-59 23m21 13l59-23m21 13l-59 24m21 14l59-24m21 15l-58 24m21 14l59-24m21 16l-59 24m21 15l59-24m21 16l-59 24m21 16l59-24m21 16l-59 25m21 17l59-25m21 17l-59 25m21 18l59-25m21 18l-59 25m21 18l59-25m20 19l-58 25m21 19l58-25m21 19l-58 25m21 20l58-25m20 20l-58 26m21 20l58-25m21 21l-58 25m20 22l58-26m21 22l-58 25m21 23l58-26m20 22l-58 26m21 23l57-26m21 23l-58 26m21 24l57-26m21 24l-58 26m20 25l58-27m20 25l-57 27m20 25l57-27"/>
<path fill="#b61808" d="M5745 680l91 6 61-25-92-6z"/>
<path fill="#c21808" d="M5830 684l91 12 61-26-91-11z"/>
<path fill="#cb1809" d="M5916 693l91 17 61-26-91-16z"/>
<path fill="#d21709" d="M6001 707l92 22 61-26-91-21z"/>
<path fill="#d81809" d="M6087 726l91 28 62-26-91-28z"/>
<path fill="#dd1909" d="M6173 751l91 33 62-27-91-32z"/>
<path fill="#e21a0a" d="M6259 780l91 39 61-27-90-38z"/>
<path fill="#e31b0a" d="M6345 815l90 45 62-27-91-44z"/>
<path fill="#e51d0a" d="M6431 856l90 50 61-27-90-50z"/>
<path fill="#e8220a" d="M6516 902l90 55 61-27-89-55z"/>
<path fill="#eb2a0b" d="M6602 953l89 62 61-28-89-61z"/>
<path fill="#ee330c" d="M6687 1010l89 68 61-28-89-67z"/>
<path fill="#f23e0e" d="M6771 1073l89 73 61-27-89-73z"/>
<path fill="#f64c10" d="M6856 1142l88 79 60-28-88-79z"/>
<path fill="#f95d13" d="M6939 1216l88 86 60-28-87-85z"/>
<path fill="#fc6f16" d="M7023 1297l87 92 60-29-87-91z"/>
<path fill="#fd831b" d="M7106 1384l86 97 60-28-86-98z"/>
<path fill="#ff9820" d="M7188 1476l85 104 60-29-85-103z"/>
<path class="m" d="M5768 672l85 4 86 9 86 14 86 20 86 24 85 30 86 35 86 40 85 46 86 52 85 57 84 63 84 68 84 75 83 81 83 86 82 93 82 99m-1504-903l85 4 86 9 86 14 86 19 85 24 86 30 86 35 86 40 85 46 85 51 85 58 85 62 84 69 84 74 83 81 82 86 82 93 82 99m-1503-901l85 4 86 9 86 14 85 19 86 24 86 29 86 35 85 40 86 46 85 51 85 57 84 63 84 69 84 74 83 80 83 87 82 92 81 99m-1582-870l60-22m21 0l-60 22m22 1l60-22m21 1l-60 22m22 2l59-22m22 1l-60 23m21 2l60-22m21 2l-59 22m21 3l60-22m21 3l-59 22m21 3l60-22m21 4l-60 22m22 4l60-22m21 4l-60 22m22 5l60-23m21 5l-60 23m22 5l59-22m22 5l-60 23m22 6l59-23m22 6l-60 23m22 7l59-23m22 7l-60 23m22 7l59-23m22 7l-60 24m22 8l59-24m22 8l-60 24m22 9l59-24m21 9l-59 24m21 9l60-24m21 10l-59 23m21 10l60-23m21 10l-59 24m21 10l59-24m22 11l-59 24m21 12l59-24m21 11l-59 24m22 12l59-24m21 12l-59 25m21 12l59-24m22 13l-59 25m21 13l59-25m21 14l-59 25m21 14l59-25m22 15l-59 24m21 15l59-25m21 16l-59 24m21 16l59-25m21 16l-59 25m22 16l58-25m21 17l-58 25m21 17l58-25m21 17l-58 25m21 18l58-25m21 18l-58 25m21 19l58-26m21 19l-58 26m21 19l58-26m21 19l-58 26m20 20l59-26m20 21l-58 26m21 20l58-26m21 21l-58 27m20 21l58-26m21 21l-58 27m21 22l58-26m20 22l-58 27m21 23l58-27m20 23l-58 27m21 24l58-27m20 24l-58 27m21 25l57-27m21 25l-58 27m20 25l58-27"/>
<path fill="#bc1a08" d="M5685 703l91 7 61-27-91-6z"/>
<path fill="#c61909" d="M5770 708l92 11 61-26-92-12z"/>
<path fill="#ce1809" d="M5856 717l91 17 61-27-91-17z"/>
<path fill="#d51809" d="M5942 731l91 23 61-28-91-22z"/>
<path fill="#da1809" d="M6028 751l91 27 61-27-91-28z"/>
<path fill="#df1909" d="M6114 775l91 33 61-27-91-33z"/>
<path fill="#e21a0a" d="M6200 805l91 39 61-28-91-39z"/>
<path fill="#e41b0a" d="M6286 840l90 45 62-28-91-44z"/>
<path fill="#e51d0a" d="M6371 881l91 50 61-28-90-50z"/>
<path fill="#e8230b" d="M6457 927l90 56 61-28-89-56z"/>
<path fill="#eb2a0b" d="M6543 979l89 61 61-28-89-61z"/>
<path fill="#ee340c" d="M6628 1036l89 68 61-29-89-67z"/>
<path fill="#f33e0e" d="M6713 1099l88 74 61-29-88-73z"/>
<path fill="#f64c10" d="M6797 1168l88 80 61-29-88-79z"/>
<path fill="#f95d13" d="M6881 1243l88 86 60-29-87-86z"/>
<path fill="#fc7016" d="M6965 1324l87 92 60-30-87-91z"/>
<path fill="#fd831b" d="M7048 1411l86 98 60-30-86-97z"/>
<path fill="#ff9820" d="M7130 1504l86 104 60-29-86-105z"/>
<path class="m" d="M5708 695l86 4 85 10 86 14 86 19 86 25 86 30 86 35 86 41 85 46 86 52 85 57 84 63 85 69 84 75 83 81 83 87 83 93 81 99m-1506-908l86 5 85 9 86 14 86 19 86 25 86 30 86 35 85 41 86 46 85 51 85 58 85 63 84 69 84 74 84 81 82 87 83 93 81 99m-1505-906l86 4 85 9 86 14 86 19 86 25 86 30 85 35 86 40 86 46 85 52 85 57 85 63 84 69 84 75 83 80 83 87 82 93 81 99m-1584-874l60-23m21 0l-59 24m21 1l60-24m21 1l-60 24m22 1l60-23m21 2l-60 23m22 2l59-23m22 2l-60 24m21 3l60-24m22 3l-60 24m21 3l60-24m21 4l-59 24m21 4l60-24m21 4l-59 24m21 5l60-24m21 5l-59 24m21 6l60-25m21 6l-59 24m21 6l60-24m21 6l-59 25m21 6l60-24m21 7l-59 24m21 8l60-25m21 8l-59 24m21 8l60-24m21 8l-59 25m21 8l60-24m21 9l-59 24m21 10l59-25m22 9l-59 25m21 10l59-25m22 11l-60 25m22 10l59-25m22 11l-60 25m22 12l59-25m21 11l-59 26m22 12l59-26m21 13l-59 25m21 13l59-26m22 14l-59 25m21 13l59-25m21 14l-59 25m22 15l58-26m22 14l-59 26m21 15l59-26m21 15l-59 26m22 16l58-26m21 16l-58 26m21 16l59-26m21 17l-59 26m21 17l59-26m21 17l-59 26m21 18l59-26m21 18l-59 26m21 19l59-26m21 19l-59 26m21 19l59-26m21 19l-59 27m21 20l58-27m21 21l-58 26m21 21l58-27m21 22l-58 26m20 22l58-27m21 22l-58 27m21 22l58-27m20 23l-57 27m20 23l58-27m20 23l-57 27m20 24l58-27m20 24l-57 28m20 24l58-27m20 25l-57 27m20 26l57-28"/>
<path fill="#c21c09" d="M5625 728l91 7 61-28-91-7z"/>
<path fill="#cb1a09" d="M5711 733l91 12 61-29-91-11z"/>
<path fill="#d11909" d="M5796 742l92 17 61-28-91-17z"/>
<path fill="#d71909" d="M5882 757l91 22 62-29-91-22z"/>
<path fill="#dc1909" d="M5968 776l91 28 62-29-91-27z"/>
<path fill="#e11a0a" d="M6054 801l91 33 62-29-91-33z"/>
<path fill="#e31a0a" d="M6140 831l91 39 62-29-91-39z"/>
<path fill="#e41c0a" d="M6226 866l91 45 61-29-90-45z"/>
<path fill="#e61e0a" d="M6312 907l91 50 61-29-90-50z"/>
<path fill="#e8240b" d="M6398 953l90 56 61-29-90-56z"/>
<path fill="#eb2b0b" d="M6484 1005l89 62 62-29-90-62z"/>
<path fill="#ef340c" d="M6569 1063l89 68 61-30-89-67z"/>
<path fill="#f33f0e" d="M6654 1126l89 74 61-30-89-73z"/>
<path fill="#f64d10" d="M6739 1195l88 80 61-30-88-79z"/>
<path fill="#f95e13" d="M6823 1270l88 86 60-30-87-85z"/>
<path fill="#fc7016" d="M6907 1351l87 92 60-29-87-92z"/>
<path fill="#fe831b" d="M6990 1439l86 98 60-30-86-98z"/>
<path fill="#ff9820" d="M7072 1532l86 104 60-30-85-104z"/>
<path class="m" d="M5648 719l86 5 86 9 86 15 85 19 87 25 86 30 86 36 85 41 86 46 86 52 85 58 85 63 84 69 85 75 83 82 83 87 83 93 82 99m-1509-912l86 5 86 9 85 14 86 20 86 25 86 30 86 35 86 41 86 46 85 52 85 58 85 63 85 69 84 75 84 81 83 87 82 94 82 99m-1508-911l86 4 85 10 86 14 86 20 86 24 86 30 86 36 86 40 86 47 85 51 85 58 85 63 84 69 84 75 84 81 83 87 82 93 82 100m-1586-877l59-25m22 1l-60 25m21 0l60-24m21 1l-59 25m21 1l60-25m21 2l-60 25m22 2l60-25m21 3l-60 25m22 3l59-25m22 3l-60 25m22 3l59-25m22 4l-60 25m22 4l59-25m22 4l-60 26m22 5l59-26m22 5l-60 26m22 5l59-25m22 5l-60 26m22 6l59-26m22 7l-60 25m22 7l59-26m22 7l-60 26m22 7l59-25m22 7l-60 26m22 8l59-26m22 9l-60 25m22 9l59-26m22 9l-60 26m22 10l59-26m22 9l-60 26m22 10l59-26m21 11l-59 26m22 11l59-27m21 11l-59 27m22 11l59-26m21 12l-59 26m21 12l60-26m21 12l-59 26m21 13l59-26m22 13l-59 26m21 14l59-27m21 14l-59 27m22 14l59-26m21 14l-59 27m21 15l59-27m21 15l-58 27m21 16l59-27m21 16l-59 27m21 16l59-27m21 17l-59 27m22 17l58-27m21 17l-58 28m21 17l58-27m21 18l-58 28m21 18l58-27m21 19l-58 27m21 20l58-28m21 20l-58 27m21 20l58-27m21 20l-58 28m21 21l58-28m21 21l-58 28m20 22l58-28m21 22l-58 28m21 22l58-28m21 23l-58 28m20 23l58-28m21 23l-58 28m21 24l57-28m21 25l-58 28m21 24l57-28m21 25l-58 28m21 26l57-28"/>
<path fill="#c71e09" d="M5565 755l92 6 61-29-92-7z"/>
<path fill="#ce1b09" d="M5651 759l91 12 61-30-91-11z"/>
<path fill="#d51a09" d="M5737 769l91 17 61-30-91-17z"/>
<path fill="#da1a09" d="M5823 783l91 23 61-30-91-23z"/>
<path fill="#df1a09" d="M5909 803l91 28 61-30-91-28z"/>
<path fill="#e31a0a" d="M5995 828l91 33 61-30-91-33z"/>
<path fill="#e31b0a" d="M6081 858l91 39 61-30-91-39z"/>
<path fill="#e51c0a" d="M6167 893l91 45 61-30-91-45z"/>
<path fill="#e61f0a" d="M6253 934l91 51 61-31-91-50z"/>
<path fill="#e9250b" d="M6339 981l90 56 61-30-90-56z"/>
<path fill="#ec2c0c" d="M6425 1033l89 62 62-31-90-61z"/>
<path fill="#ef350d" d="M6510 1091l90 67 61-30-90-68z"/>
<path fill="#f3400e" d="M6595 1154l89 74 61-31-89-73z"/>
<path fill="#f64e10" d="M6680 1223l89 80 60-30-88-80z"/>
<path fill="#f95f13" d="M6764 1298l88 86 61-30-88-86z"/>
<path fill="#fc7117" d="M6848 1380l88 92 60-31-87-92z"/>
<path fill="#fe841b" d="M6932 1467l87 98 60-30-87-98z"/>
<path fill="#ff9920" d="M7015 1560l86 105 60-31-86-104z"/>
<path class="m" d="M5589 745l85 5 86 9 86 15 86 20 86 25 86 30 86 36 86 41 86 46 86 52 85 58 85 64 85 69 84 75 84 82 83 87 83 93 82 100m-1510-916l85 5 86 10 86 14 86 20 86 25 86 30 86 35 86 41 86 47 85 52 86 58 85 63 84 70 85 75 83 81 84 87 82 94 82 99m-1509-914l85 4 86 10 86 14 86 20 86 25 86 30 86 36 86 41 85 46 86 52 85 58 85 63 85 69 84 76 84 81 83 87 83 93 82 100m-1589-879l60-26m21 1l-60 26m22 1l59-27m22 2l-60 26m21 2l60-27m21 2l-59 27m21 2l60-27m21 3l-59 27m21 2l60-26m21 3l-59 27m21 3l60-27m21 4l-59 27m21 4l60-27m21 5l-59 27m21 4l60-26m21 5l-59 26m21 6l60-27m21 6l-59 27m21 6l60-27m21 6l-59 27m21 7l60-27m21 7l-59 27m21 7l60-27m21 8l-59 27m21 8l60-27m21 8l-59 27m21 9l60-27m21 9l-59 27m21 10l60-27m21 9l-59 27m21 11l60-28m21 11l-59 27m21 11l60-27m21 11l-59 27m21 11l60-27m21 12l-59 27m21 12l59-27m22 12l-59 28m21 13l59-28m22 13l-59 28m21 14l59-28m21 14l-59 27m22 15l59-28m21 15l-59 27m21 15l59-27m22 15l-59 28m21 15l59-27m21 16l-59 28m22 16l58-28m21 17l-58 28m21 17l59-28m21 18l-59 27m21 18l59-28m21 19l-59 28m22 18l58-28m21 19l-58 28m21 20l58-28m21 19l-58 28m21 21l58-29m21 21l-58 28m21 21l58-28m21 21l-58 28m20 22l58-28m21 22l-58 28m21 22l58-28m21 23l-58 28m21 23l57-28m21 23l-58 29m21 24l58-29m20 25l-57 28m20 25l58-29m20 25l-57 29m20 26l58-29"/>
<path fill="#cc2009" d="M5506 783l91 6 61-31-91-7z"/>
<path fill="#d21c09" d="M5591 787l92 12 61-31-92-12z"/>
<path fill="#d81b09" d="M5677 797l91 17 62-31-92-18z"/>
<path fill="#dc1b09" d="M5763 811l91 23 62-31-92-23z"/>
<path fill="#e11b0a" d="M5849 831l91 28 62-31-91-28z"/>
<path fill="#e31b0a" d="M5935 856l91 34 62-32-91-33z"/>
<path fill="#e41c0a" d="M6021 886l91 39 62-31-91-39z"/>
<path fill="#e51d0a" d="M6108 922l91 44 61-31-91-45z"/>
<path fill="#e7200a" d="M6194 963l90 50 62-31-91-51z"/>
<path fill="#e9260b" d="M6280 1009l90 56 61-31-90-56z"/>
<path fill="#ec2e0c" d="M6366 1061l90 62 61-31-90-62z"/>
<path fill="#f0370d" d="M6451 1119l90 68 61-31-90-68z"/>
<path fill="#f4410e" d="M6537 1183l89 74 61-32-89-73z"/>
<path fill="#f65010" d="M6622 1252l88 80 61-31-88-80z"/>
<path fill="#f96013" d="M6706 1327l88 86 61-31-88-86z"/>
<path fill="#fc7217" d="M6790 1409l88 92 60-31-87-92z"/>
<path fill="#fe851b" d="M6874 1496l87 99 60-32-87-98z"/>
<path fill="#ff9920" d="M6957 1590l86 105 60-32-86-104z"/>
<path class="m" d="M5529 773l86 4 85 10 86 15 86 19 87 25 86 31 86 35 86 42 86 46 86 52 85 58 85 64 85 69 85 76 84 81 83 88 83 93 83 100m-1513-918l86 5 85 10 86 14 86 20 86 25 87 30 86 36 86 41 86 47 85 52 86 58 85 63 85 70 84 75 84 82 84 87 83 94 82 99m-1512-917l85 5 86 9 86 15 86 20 86 25 86 30 86 36 86 41 86 46 86 53 85 57 86 64 84 69 85 76 84 81 83 87 83 94 82 100m-1591-880l60-28m21 1l-59 28m21 1l60-28m21 1l-60 28m22 2l59-28m22 2l-60 28m22 2l59-28m22 3l-60 27m22 3l59-28m22 4l-60 28m21 3l60-28m22 4l-60 28m21 4l60-28m22 5l-60 28m22 4l59-28m22 5l-60 28m22 6l59-28m22 6l-60 28m22 6l59-28m22 6l-60 28m22 7l59-28m22 7l-60 28m22 7l59-28m22 8l-60 28m22 8l59-28m22 8l-59 29m21 8l59-28m22 9l-59 29m21 9l59-28m22 9l-59 29m21 10l59-28m22 10l-59 28m21 11l59-28m22 11l-59 28m21 12l59-29m22 12l-59 29m21 12l59-29m22 13l-59 28m21 13l59-28m22 13l-59 28m21 14l59-28m21 13l-59 29m22 14l59-28m21 14l-59 29m22 15l58-29m22 16l-59 28m21 16l59-29m21 17l-58 28m21 17l59-29m21 17l-59 29m21 17l59-29m21 17l-58 29m21 18l58-29m21 19l-58 28m21 19l59-29m21 19l-59 29m21 20l59-29m21 19l-59 29m22 21l58-29m21 20l-58 29m21 21l58-29m21 21l-59 29m21 22l58-29m21 22l-58 29m21 23l58-30m21 23l-58 29m21 24l58-30m20 24l-58 29m21 24l58-29m21 24l-58 30m20 24l58-29m21 25l-58 30m21 25l57-29"/>
<path fill="#d0230a" d="M5446 812l91 7 61-33-91-7z"/>
<path fill="#d61f0a" d="M5532 817l91 12 61-33-91-12z"/>
<path fill="#db1c09" d="M5618 826l91 18 61-33-91-18z"/>
<path fill="#df1c0a" d="M5704 841l91 22 61-32-91-23z"/>
<path fill="#e31c0a" d="M5790 861l91 28 61-33-91-28z"/>
<path fill="#e41c0a" d="M5876 885l91 34 61-33-91-33z"/>
<path fill="#e51d0a" d="M5962 916l91 39 62-33-91-39z"/>
<path fill="#e61e0a" d="M6048 951l91 45 62-33-91-44z"/>
<path fill="#e8220a" d="M6135 992l90 51 62-33-91-50z"/>
<path fill="#ea280b" d="M6221 1039l90 56 61-32-90-57z"/>
<path fill="#ed2f0c" d="M6307 1091l90 62 61-32-90-62z"/>
<path fill="#f0380d" d="M6392 1149l90 68 61-33-89-67z"/>
<path fill="#f4430e" d="M6478 1212l89 74 61-32-89-74z"/>
<path fill="#f75111" d="M6563 1282l89 80 61-32-89-80z"/>
<path fill="#fa6114" d="M6648 1357l88 86 61-32-88-86z"/>
<path fill="#fc7317" d="M6732 1439l88 92 60-32-87-92z"/>
<path fill="#fe861c" d="M6816 1526l87 99 60-32-87-99z"/>
<path fill="#ff9a21" d="M6899 1620l87 105 60-32-86-105z"/>
<path class="m" d="M5470 801l85 5 86 10 86 15 86 19 86 25 86 31 87 36 86 41 86 46 86 53 85 58 86 63 85 70 85 75 84 82 84 87 83 94 82 100m-1515-919l86 4 86 10 86 15 86 20 86 25 86 30 86 36 87 41 86 47 85 52 86 58 85 63 85 70 85 75 84 82 84 87 83 94 82 100m-1514-919l86 5 86 9 85 15 87 20 86 25 86 30 86 36 86 41 86 47 86 52 86 58 85 64 85 69 84 76 85 81 83 88 83 93 83 100m-1593-880l59-29m22 1l-60 29m21 1l60-29m21 1l-59 29m21 2l60-29m21 2l-59 29m21 2l60-29m21 2l-59 30m21 3l60-30m21 4l-60 29m22 4l59-30m22 4l-60 29m22 5l59-30m22 5l-59 29m21 5l60-30m21 5l-59 30m21 5l60-29m21 6l-59 29m21 6l60-29m21 6l-59 30m21 6l60-29m21 7l-59 30m21 7l60-30m21 8l-59 30m22 8l59-30m22 9l-60 29m22 9l59-30m22 10l-60 29m22 10l59-30m22 10l-60 29m22 10l59-29m22 10l-59 30m21 11l59-30m22 11l-59 30m21 11l59-29m22 12l-59 29m21 12l59-29m22 12l-59 30m21 13l59-30m22 13l-59 30m21 14l59-30m21 14l-58 30m21 14l59-30m21 15l-59 30m22 15l59-30m21 15l-59 30m22 16l58-30m22 16l-59 30m21 16l59-29m21 17l-58 29m21 17l58-29m22 17l-59 30m21 18l59-30m21 18l-58 30m21 19l58-30m21 19l-58 30m21 19l58-29m21 19l-58 30m21 20l59-29m21 20l-59 30m21 21l59-30m20 21l-58 30m21 22l58-30m21 22l-58 30m21 22l58-29m21 22l-58 30m21 23l58-29m20 23l-57 30m20 24l58-30m21 25l-58 30m21 24l57-30m21 26l-57 29m20 26l58-30"/>
<path fill="#d5260a" d="M5387 843l91 7 61-35-91-6z"/>
<path fill="#d9220a" d="M5472 848l91 12 61-35-91-12z"/>
<path fill="#de1e0a" d="M5558 857l91 17 61-34-91-17z"/>
<path fill="#e21d0a" d="M5644 872l91 22 62-34-92-23z"/>
<path fill="#e51d0a" d="M5730 891l91 28 62-34-91-28zM5816 916l92 34 61-34-91-34z"/>
<path fill="#e61d0a" d="M5903 946l91 39 61-33-91-39z"/>
<path fill="#e7200a" d="M5989 982l91 45 62-34-91-45z"/>
<path fill="#e8240b" d="M6075 1023l91 50 62-33-91-51z"/>
<path fill="#eb2a0b" d="M6162 1069l90 57 62-34-91-56z"/>
<path fill="#ed310c" d="M6248 1122l90 62 61-34-90-62z"/>
<path fill="#f13a0d" d="M6334 1179l90 68 61-33-90-68z"/>
<path fill="#f4450e" d="M6419 1243l90 74 61-33-90-74z"/>
<path fill="#f75311" d="M6505 1312l89 80 60-33-88-80z"/>
<path fill="#fa6314" d="M6589 1388l89 86 61-33-89-86z"/>
<path fill="#fc7418" d="M6674 1469l88 92 60-32-87-93z"/>
<path fill="#fe871c" d="M6758 1557l87 98 61-32-88-99z"/>
<path fill="#ff9b21" d="M6842 1650l86 105 60-32-86-105z"/>
<path class="m" d="M5410 832l86 5 85 9 86 15 87 20 86 25 86 30 86 36 87 41 86 47 86 52 86 58 85 64 85 69 85 76 85 81 84 88 83 93 83 100m-1517-919l85 4 86 10 86 15 86 20 87 25 86 30 86 36 86 41 86 46 86 53 86 58 86 63 85 70 85 75 84 82 84 88 83 93 83 100m-1516-920l85 5 86 10 86 15 86 19 86 25 87 31 86 36 86 41 86 46 86 53 86 58 85 63 85 70 85 75 84 82 84 87 83 94 83 100m-1595-879l60-31m21 1l-59 31m21 1l59-31m22 1l-60 31m22 2l59-31m22 2l-60 31m22 2l59-31m22 3l-60 31m22 3l59-31m21 3l-59 31m22 3l59-30m21 3l-59 31m22 4l59-30m22 4l-60 31m22 5l59-31m22 5l-60 31m22 5l59-31m22 6l-60 31m22 6l59-31m22 7l-60 30m22 7l59-31m22 8l-59 30m21 8l59-31m22 8l-59 30m21 9l60-31m21 8l-59 31m21 9l60-31m21 9l-59 31m22 9l59-30m21 9l-59 31m22 10l59-31m22 11l-60 31m22 10l59-30m22 11l-60 31m22 11l59-31m22 12l-59 31m21 12l59-31m22 13l-59 31m21 12l59-30m22 13l-59 31m21 13l59-30m22 14l-59 30m21 15l59-31m21 15l-58 30m21 15l59-30m21 15l-59 31m22 15l59-30m21 16l-59 30m22 17l58-31m22 17l-59 31m21 17l59-31m21 18l-58 31m21 17l58-30m22 18l-59 31m21 18l59-30m21 19l-58 30m21 20l58-31m21 20l-58 31m21 20l58-31m21 21l-58 30m21 21l58-30m21 21l-58 31m21 21l58-30m21 22l-58 30m21 23l58-31m21 23l-58 31m21 23l58-31m21 24l-58 31m21 24l57-31m21 25l-57 30m20 25l58-31m21 25l-58 31m21 26l57-31"/>
<path fill="#d9290b" d="M5328 876l90 6 61-36-91-7z"/>
<path fill="#dd250a" d="M5413 880l91 12 61-36-91-12z"/>
<path fill="#e1220a" d="M5499 889l91 18 61-36-91-17z"/>
<path fill="#e41f0a" d="M5585 904l91 23 61-36-91-23z"/>
<path fill="#e61e0a" d="M5671 924l91 28 61-36-91-28zM5757 948l91 34 62-35-91-34z"/>
<path fill="#e71f0a" d="M5844 978l91 39 61-35-91-39z"/>
<path fill="#e8220a" d="M5930 1014l91 44 61-34-91-45z"/>
<path fill="#e9260b" d="M6016 1055l91 50 62-35-91-50z"/>
<path fill="#ec2c0c" d="M6103 1101l90 56 62-34-91-56z"/>
<path fill="#ee330c" d="M6189 1153l90 62 61-34-90-62z"/>
<path fill="#f23c0d" d="M6275 1211l90 68 61-34-90-68z"/>
<path fill="#f5470f" d="M6361 1275l89 73 61-34-89-73z"/>
<path fill="#f75511" d="M6446 1344l89 80 61-34-89-80z"/>
<path fill="#fa6514" d="M6531 1419l89 86 61-33-89-87z"/>
<path fill="#fd7618" d="M6616 1500l88 93 61-34-88-92z"/>
<path fill="#fe881c" d="M6700 1588l88 98 60-33-87-98z"/>
<path fill="#ff9c21" d="M6784 1681l87 105 60-33-87-105z"/>
<path class="m" d="M5351 864l85 4 86 10 86 15 86 20 86 24 87 31 86 35 87 41 86 47 86 52 86 58 85 64 86 69 85 76 84 81 85 88 83 93 83 100m-1518-919l85 5 86 9 86 15 86 20 86 25 87 30 86 36 86 41 86 46 87 53 85 58 86 63 85 70 85 75 85 82 84 87 84 94 83 100m-1519-920l86 5 86 10 86 14 86 20 86 25 86 31 87 35 86 41 86 47 86 52 86 58 86 64 85 69 85 76 84 81 84 88 84 94 83 100m-1597-877l59-33m22 1l-60 33m22 1l59-33m21 1l-59 33m21 1l60-32m21 2l-59 32m21 3l60-33m21 3l-59 32m21 3l60-32m21 3l-59 32m21 4l60-33m21 4l-59 33m21 4l60-33m21 5l-59 32m21 5l60-32m21 5l-59 32m21 5l60-32m21 6l-59 32m22 6l59-32m21 6l-59 33m22 6l59-32m22 7l-60 32m22 8l59-32m22 7l-60 33m22 8l59-32m22 8l-59 32m21 9l59-32m22 9l-59 32m21 9l60-32m21 10l-59 32m22 10l59-32m21 11l-59 31m22 11l59-32m21 12l-59 31m22 12l59-32m22 12l-59 32m21 12l59-32m22 13l-59 31m21 13l59-32m22 14l-59 31m21 14l59-32m22 14l-59 32m21 14l59-31m22 14l-59 32m21 15l59-32m21 16l-58 31m21 16l59-32m21 16l-58 32m21 16l59-31m21 17l-59 31m22 17l58-31m22 18l-59 31m21 18l59-32m21 19l-58 31m21 19l58-32m22 19l-59 32m21 19l59-31m21 20l-58 31m21 20l58-31m21 20l-58 32m21 21l58-32m21 22l-58 31m21 22l58-32m21 22l-58 32m21 22l58-31m21 23l-58 31m21 23l58-31m21 24l-58 31m21 24l58-31m21 24l-58 31m21 25l57-31m21 25l-58 31m21 26l58-31"/>
<path fill="#dd2d0b" d="M5268 910l91 6 61-37-91-7z"/>
<path fill="#e0290b" d="M5354 914l91 12 61-38-91-12z"/>
<path fill="#e4250b" d="M5439 923l92 17 61-37-91-17z"/>
<path fill="#e7230b" d="M5525 938l92 22 61-37-91-22z"/>
<path fill="#e7210a" d="M5612 957l91 28 61-37-91-28zM5698 982l91 33 62-36-92-34z"/>
<path fill="#e8220a" d="M5784 1012l92 39 61-37-91-39z"/>
<path fill="#e9250b" d="M5871 1047l91 45 61-37-91-44z"/>
<path fill="#ea290b" d="M5957 1088l91 50 62-36-91-50z"/>
<path fill="#ec2f0c" d="M6044 1134l90 56 62-36-91-56z"/>
<path fill="#ef360d" d="M6130 1186l91 62 61-36-91-61z"/>
<path fill="#f33e0e" d="M6216 1244l90 67 61-35-90-68z"/>
<path fill="#f5490f" d="M6302 1307l90 74 61-35-90-74z"/>
<path fill="#f85712" d="M6388 1376l89 80 61-35-89-80z"/>
<path fill="#fb6715" d="M6473 1451l89 86 60-34-88-86z"/>
<path fill="#fd7818" d="M6558 1533l88 92 61-35-89-92z"/>
<path fill="#fe8a1d" d="M6642 1620l88 98 60-34-87-98z"/>
<path fill="#ff9d22" d="M6726 1713l87 105 60-34-87-105z"/>
<path class="m" d="M5292 897l85 5 86 9 86 15 86 20 86 25 87 30 86 35 86 41 87 47 86 52 86 57 86 64 85 69 86 76 84 81 85 87 84 94 83 100m-1521-918l86 5 85 9 86 15 87 19 86 25 86 31 87 35 86 41 86 47 87 52 86 58 85 63 86 70 85 75 85 81 84 88 84 93 83 100m-1520-918l85 4 86 10 86 15 86 19 87 25 86 31 86 35 87 41 86 47 86 52 86 58 86 63 85 70 85 75 85 82 84 87 84 94 83 100m-1598-874l59-34m21 1l-59 34m21 1l60-34m21 1l-59 34m21 1l59-34m22 2l-59 34m21 3l59-34m22 2l-60 34m22 3l59-34m22 3l-60 34m22 4l59-34m22 4l-60 33m22 4l59-33m22 4l-60 34m22 5l59-34m22 5l-59 34m21 5l59-34m22 6l-59 34m21 6l60-34m21 7l-59 33m21 7l60-34m21 7l-59 34m22 7l59-33m21 8l-59 33m22 8l59-33m22 8l-60 33m22 9l59-33m22 9l-59 33m21 9l59-33m22 10l-59 33m22 10l59-33m21 10l-59 34m22 10l59-33m21 11l-59 33m22 12l59-33m22 12l-59 33m21 12l59-33m22 12l-59 33m21 13l59-33m22 13l-59 33m21 14l59-33m22 14l-59 33m21 14l59-33m22 15l-59 32m22 15l58-32m22 15l-59 33m21 15l59-32m22 16l-59 32m21 17l59-33m21 17l-58 33m21 17l59-33m21 18l-58 32m21 18l58-32m22 18l-59 33m22 18l58-32m21 19l-58 32m21 20l58-33m22 20l-59 32m22 20l58-32m21 21l-58 32m21 21l58-32m21 21l-58 32m21 22l58-32m21 22l-58 32m21 22l58-32m21 23l-58 32m21 23l58-32m21 24l-58 32m21 24l58-32m21 24l-58 32m21 25l58-32m20 25l-57 32m21 25l57-31"/>
<path fill="#e1310c" d="M5209 945l91 7 61-39-91-7z"/>
<path fill="#e42d0b" d="M5295 950l91 11 60-39-91-12z"/>
<path fill="#e7290b" d="M5380 959l91 17 61-39-91-17z"/>
<path fill="#e9270b" d="M5466 973l92 22 61-38-92-23z"/>
<path fill="#e9250b" d="M5552 992l92 28 61-38-91-28zM5639 1017l91 33 61-38-91-33z"/>
<path fill="#e9260b" d="M5725 1047l92 38 61-38-91-38z"/>
<path fill="#ea280b" d="M5812 1082l91 44 61-38-91-44z"/>
<path fill="#eb2c0c" d="M5898 1122l91 50 62-37-91-50z"/>
<path fill="#ee320c" d="M5985 1168l91 56 61-37-91-56z"/>
<path fill="#f0380d" d="M6071 1220l91 61 61-36-91-62z"/>
<path fill="#f3410e" d="M6157 1277l91 68 61-36-90-68z"/>
<path fill="#f64c10" d="M6243 1341l90 73 61-36-90-73z"/>
<path fill="#f85a12" d="M6329 1410l90 79 61-36-90-79z"/>
<path fill="#fb6915" d="M6415 1484l89 86 60-35-89-86z"/>
<path fill="#fd7a19" d="M6500 1565l88 92 61-35-89-92z"/>
<path fill="#fe8c1d" d="M6584 1652l88 99 61-35-88-98z"/>
<path fill="#ff9e22" d="M6668 1746l88 104 60-34-87-105z"/>
<path class="m" d="M5232 933l86 4 85 9 86 15 87 19 86 25 86 30 87 35 86 41 87 46 86 52 86 58 86 63 86 69 85 75 85 82 85 87 84 93 83 100m-1522-915l85 4 86 10 86 14 86 20 87 24 86 30 87 36 86 41 87 46 86 52 86 58 86 63 85 69 86 75 85 82 84 87 84 93 84 100m-1522-916l85 4 86 10 86 14 86 20 86 25 87 30 86 35 87 41 86 47 86 52 87 57 85 64 86 69 85 76 85 81 84 87 84 94 84 99m-1600-869l59-36m21 1l-59 35m21 1l59-35m22 1l-59 35m21 2l59-36m22 2l-60 36m22 2l59-35m21 2l-59 35m22 3l59-35m21 3l-59 35m22 4l59-35m21 3l-59 36m22 4l59-36m21 5l-59 35m22 5l59-35m22 5l-60 35m22 5l59-35m22 6l-59 35m21 6l59-35m22 6l-59 35m21 7l59-35m22 7l-59 35m22 7l59-35m21 8l-59 35m22 8l59-35m21 8l-59 35m22 8l59-34m22 9l-59 34m21 10l59-35m22 10l-59 34m22 10l59-34m21 11l-59 34m22 10l59-34m21 11l-59 35m22 11l59-34m22 12l-59 34m21 12l59-34m22 12l-59 34m21 13l59-34m22 13l-59 34m22 14l58-34m22 14l-59 33m22 15l58-34m22 14l-59 34m22 15l59-34m21 16l-59 33m22 16l58-34m22 16l-59 34m22 16l58-33m22 17l-59 33m22 17l58-33m22 17l-59 34m21 18l59-34m21 19l-58 33m21 18l59-33m21 19l-58 33m21 20l58-33m21 19l-58 33m21 20l59-33m21 21l-58 33m21 21l58-33m21 21l-58 33m21 21l58-32m21 22l-58 32m21 23l58-33m21 23l-57 33m21 23l57-33m21 24l-57 32m21 24l57-32m21 24l-57 33m20 24l58-32m21 25l-58 32m21 26l58-33"/>
<path fill="#e5360c" d="M5150 983l91 6 60-41-90-6z"/>
<path fill="#e7310c" d="M5236 987l90 11 61-40-91-12z"/>
<path fill="#ea2e0c" d="M5321 996l91 16 61-40-91-17z"/>
<path fill="#eb2b0b" d="M5407 1010l91 22 61-40-91-23z"/>
<path fill="#ea290b" d="M5493 1029l92 27 61-40-91-27z"/>
<path fill="#ea280b" d="M5580 1053l91 33 61-40-91-33z"/>
<path fill="#ea290b" d="M5666 1082l92 39 61-39-91-39z"/>
<path fill="#eb2c0c" d="M5753 1117l91 44 61-38-91-45z"/>
<path fill="#ed2f0c" d="M5839 1158l92 49 61-38-91-50z"/>
<path fill="#ef350d" d="M5926 1204l91 55 61-38-91-56z"/>
<path fill="#f13b0d" d="M6012 1255l91 61 61-37-90-62z"/>
<path fill="#f4440e" d="M6099 1312l90 67 61-37-90-67z"/>
<path fill="#f64f10" d="M6185 1375l90 73 61-37-90-73z"/>
<path fill="#f95d13" d="M6271 1444l89 79 61-36-89-80z"/>
<path fill="#fc6c16" d="M6356 1518l90 86 60-36-89-86z"/>
<path fill="#fd7c19" d="M6442 1599l88 92 61-36-89-92z"/>
<path fill="#fe8e1e" d="M6526 1686l89 98 60-35-88-99z"/>
<path fill="#ff9f23" d="M6611 1779l87 104 60-35-87-104z"/>
<path class="m" d="M5173 969l86 5 85 9 86 14 87 19 86 25 86 29 87 35 87 41 86 46 86 52 87 57 86 63 86 69 85 75 85 81 85 87 84 93 84 100m-1524-912l85 4 86 9 86 15 86 19 87 25 86 29 87 36 86 40 87 46 86 52 86 58 86 63 86 69 85 75 86 81 84 87 84 93 84 100m-1523-913l85 4 86 9 86 15 86 19 86 25 87 30 86 35 87 40 86 47 87 52 86 57 86 63 85 70 86 75 85 81 84 87 85 93 83 100m-1601-865l59-37m21 0l-59 38m21 1l59-38m22 1l-59 38m21 1l59-37m21 2l-59 37m22 2l59-37m21 2l-59 37m22 3l59-37m21 3l-59 37m22 4l59-37m21 4l-59 36m22 4l59-36m21 4l-59 37m22 4l59-36m21 5l-59 36m22 5l59-36m22 6l-60 36m22 6l59-36m22 6l-59 36m21 7l59-36m22 7l-59 36m21 7l60-36m21 8l-59 36m22 7l59-35m21 8l-59 36m22 8l59-36m22 9l-59 36m21 9l59-35m22 9l-59 36m22 10l59-36m21 11l-59 35m22 11l59-36m21 12l-58 35m21 11l59-35m22 12l-59 35m21 12l59-35m22 12l-59 35m22 13l58-35m22 13l-59 35m22 14l59-35m21 13l-59 35m22 14l59-34m21 14l-58 35m21 15l59-35m21 15l-58 35m21 16l59-35m21 16l-58 35m21 16l59-35m21 17l-58 34m21 18l59-35m21 18l-58 34m21 18l58-34m22 18l-58 34m21 18l58-34m22 19l-59 34m22 20l58-34m21 19l-58 34m21 20l58-34m22 21l-58 34m21 20l58-33m21 21l-58 34m21 21l58-34m21 22l-58 34m22 22l57-33m22 23l-58 33m21 23l58-33m21 23l-58 34m21 23l58-33m21 25l-58 33m21 24l57-33m21 25l-57 33m21 26l57-33"/>
<path fill="#e83b0d" d="M5091 1022l91 6 60-43-90-6z"/>
<path fill="#eb360d" d="M5177 1026l91 11 60-43-91-11z"/>
<path fill="#ed320c" d="M5262 1034l91 17 61-42-91-17z"/>
<path fill="#ed2f0c" d="M5348 1048l91 21 61-41-91-22z"/>
<path fill="#ec2d0c" d="M5434 1067l92 27 61-41-92-28z"/>
<path fill="#ec2c0c" d="M5521 1091l91 32 61-41-91-32z"/>
<path fill="#ec2d0c" d="M5607 1120l92 38 61-41-92-38z"/>
<path fill="#ed2f0c" d="M5694 1154l91 44 61-40-91-44z"/>
<path fill="#ee330c" d="M5781 1194l91 50 61-40-91-49z"/>
<path fill="#f0380d" d="M5867 1240l91 55 61-39-91-55z"/>
<path fill="#f33e0e" d="M5954 1291l91 61 61-39-91-61z"/>
<path fill="#f5470f" d="M6040 1348l91 67 61-39-91-67z"/>
<path fill="#f75311" d="M6126 1410l91 73 61-37-91-74z"/>
<path fill="#f96013" d="M6212 1479l90 79 61-38-90-79z"/>
<path fill="#fc6f16" d="M6298 1553l90 85 60-37-89-85z"/>
<path fill="#fd7e1a" d="M6383 1634l89 91 61-37-89-91z"/>
<path fill="#fe901e" d="M6468 1720l89 98 60-36-88-98z"/>
<path fill="#ffa123" d="M6553 1813l88 104 60-36-88-104z"/>
<path class="m" d="M5114 1008l86 4 85 9 86 14 87 19 86 24 86 29 87 35 87 40 86 46 87 51 86 57 86 63 86 69 86 75 85 80 85 87 84 93 84 99m-1525-907l85 4 86 9 86 14 86 19 87 24 86 30 87 35 86 40 87 46 86 51 87 58 86 63 86 68 85 75 85 81 85 87 85 93 84 99m-1525-909l85 4 86 9 86 14 86 19 86 25 87 29 86 35 87 41 86 46 87 52 86 57 86 63 86 69 86 75 85 80 85 87 84 93 84 100m-1603-859l59-39m21 1l-59 39m21 0l59-38m22 1l-59 38m21 2l59-39m21 2l-58 39m21 2l59-39m21 2l-59 39m22 3l59-39m21 3l-59 39m22 3l59-38m21 3l-59 39m22 3l59-38m21 5l-59 38m22 4l59-38m21 5l-59 38m22 5l59-38m21 6l-59 38m22 6l59-38m22 6l-59 38m21 6l59-37m22 7l-59 37m22 7l58-37m22 8l-59 37m22 8l59-38m21 9l-59 37m22 8l59-37m22 9l-59 37m21 9l59-37m22 10l-59 37m22 10l59-37m21 10l-59 37m22 11l59-37m22 11l-59 37m21 11l59-37m22 12l-59 36m22 12l58-36m22 12l-59 37m22 12l59-36m21 13l-58 36m21 14l59-36m21 13l-58 36m21 14l59-36m22 15l-59 36m22 15l58-36m22 15l-59 36m22 15l58-35m22 16l-59 35m22 16l58-35m22 16l-59 36m22 17l58-35m22 17l-59 35m22 18l58-35m22 18l-59 35m22 18l58-35m21 19l-58 35m21 19l59-34m21 19l-58 35m21 20l58-35m22 21l-59 34m22 21l58-35m21 22l-58 34m21 21l58-34m21 22l-57 34m21 22l58-34m21 23l-58 34m21 23l58-34m21 24l-58 33m21 24l58-34m21 25l-58 33m21 25l58-34m21 25l-58 34m21 25l58-33"/>
<path fill="#ec410e" d="M5033 1063l90 5 61-44-91-6z"/>
<path fill="#ee3c0d" d="M5118 1066l91 11 60-44-91-11z"/>
<path fill="#f0380d" d="M5204 1074l90 16 61-43-91-16z"/>
<path fill="#ef340c" d="M5289 1088l92 21 60-43-91-22z"/>
<path fill="#ee320c" d="M5376 1106l91 27 61-43-91-27z"/>
<path fill="#ed310c" d="M5462 1130l91 32 61-42-91-33z"/>
<path fill="#ee310c" d="M5548 1159l92 37 61-42-91-38z"/>
<path fill="#ee330c" d="M5635 1193l91 43 62-41-92-44z"/>
<path fill="#f0370d" d="M5722 1232l91 49 61-41-91-49z"/>
<path fill="#f13c0d" d="M5808 1278l92 54 61-40-91-55z"/>
<path fill="#f4420e" d="M5895 1328l91 61 61-40-91-61z"/>
<path fill="#f64b10" d="M5982 1385l90 66 61-39-90-67z"/>
<path fill="#f85612" d="M6068 1447l90 72 61-38-90-73z"/>
<path fill="#fa6314" d="M6154 1515l90 78 61-38-90-79z"/>
<path fill="#fc7117" d="M6240 1589l90 85 60-38-89-85z"/>
<path fill="#fd811b" d="M6325 1669l90 91 60-37-89-92z"/>
<path fill="#ff921f" d="M6411 1755l88 97 60-36-88-98z"/>
<path fill="#ffa224" d="M6495 1847l88 104 60-36-87-104z"/>
<path class="m" d="M5056 1048l85 4 86 8 85 14 87 18 86 24 87 29 86 35 87 40 86 45 87 51 86 57 87 62 86 69 86 74 85 80 85 87 85 92 84 99m-1527-902l86 4 85 9 86 13 86 19 87 24 86 29 87 35 86 40 87 46 87 51 86 57 86 62 86 69 86 74 85 81 85 86 85 93 84 99m-1526-904l85 4 86 9 86 13 86 19 86 24 87 30 86 34 87 41 87 45 86 52 87 57 86 62 86 69 85 74 86 81 85 86 84 93 84 99m-1604-851l59-41m21 1l-59 40m22 1l58-41m22 1l-59 41m21 1l59-40m22 2l-59 40m21 2l59-40m21 2l-58 40m21 3l59-40m21 3l-59 40m22 3l59-40m21 4l-59 39m22 4l59-40m21 5l-59 39m22 5l59-40m21 5l-59 40m22 5l59-40m21 6l-58 39m21 6l59-39m22 6l-59 39m21 6l59-39m22 7l-59 39m22 7l59-39m21 8l-59 39m22 7l59-38m21 8l-58 38m21 9l59-39m22 9l-59 39m22 9l58-39m22 10l-59 38m22 10l59-38m21 10l-58 38m21 11l59-38m22 11l-59 37m22 12l58-38m22 11l-59 38m22 12l59-38m21 13l-58 37m21 13l59-38m22 13l-59 38m21 13l59-37m22 13l-59 37m22 14l58-37m22 15l-59 37m22 14l59-36m21 15l-58 36m21 16l59-37m21 16l-58 37m21 16l59-37m21 17l-58 36m21 17l59-36m21 17l-58 36m21 18l59-36m21 18l-58 36m21 18l59-36m21 19l-58 36m21 19l58-36m22 20l-58 36m21 19l58-35m21 20l-58 36m22 20l58-35m21 21l-58 35m21 22l58-36m22 22l-58 35m21 22l58-35m21 23l-58 35m21 23l58-35m21 23l-58 35m22 24l57-35m21 24l-57 35m21 24l57-34m21 25l-57 34m21 26l57-35"/>
<path fill="#ef490f" d="M4974 1105l91 5 60-46-91-5z"/>
<path fill="#f2420e" d="M5059 1108l91 10 60-45-90-11z"/>
<path fill="#f23d0d" d="M5145 1116l91 15 60-45-91-15z"/>
<path fill="#f0390d" d="M5231 1129l91 21 61-45-92-21z"/>
<path fill="#f0370d" d="M5317 1147l91 26 61-44-91-27z"/>
<path fill="#ef350d" d="M5403 1170l91 32 61-44-91-32z"/>
<path fill="#ef360d" d="M5490 1199l91 37 61-43-91-38z"/>
<path fill="#f0380d" d="M5576 1232l92 43 61-42-92-44z"/>
<path fill="#f13b0d" d="M5663 1272l91 48 61-42-91-49z"/>
<path fill="#f33f0e" d="M5750 1316l91 54 61-41-91-54z"/>
<path fill="#f5460f" d="M5836 1367l91 60 61-41-90-61z"/>
<path fill="#f64f10" d="M5923 1423l91 66 61-41-91-66z"/>
<path fill="#f85a12" d="M6009 1484l91 72 61-39-91-73z"/>
<path fill="#fb6715" d="M6096 1552l90 78 61-39-90-78z"/>
<path fill="#fc7518" d="M6182 1626l90 84 60-39-90-84z"/>
<path fill="#fe841b" d="M6267 1705l90 91 60-38-89-91z"/>
<path fill="#ff951f" d="M6353 1791l89 97 60-38-89-97z"/>
<path fill="#ffa425" d="M6438 1883l88 103 60-37-88-104z"/>
<path class="m" d="M4997 1090l85 3 86 8 86 13 86 19 86 23 87 29 86 34 87 40 87 45 86 50 87 57 86 62 87 67 85 74 86 80 85 86 85 92 84 99m-1527-895l85 3 85 8 86 14 86 18 87 24 86 29 87 34 87 39 86 46 87 50 86 57 87 62 86 68 86 74 85 80 86 86 84 93 85 98m-1528-897l85 3 86 9 86 13 86 19 86 23 87 29 87 35 86 40 87 45 86 51 87 56 86 63 86 68 86 74 86 80 85 86 85 93 84 99m-1605-844l58-42m21 0l-58 42m21 1l59-42m21 1l-58 42m21 1l58-42m22 2l-59 42m22 2l58-42m22 2l-59 42m21 2l59-41m21 3l-58 41m21 3l59-41m21 3l-58 42m21 3l59-41m21 4l-58 41m21 5l59-41m21 5l-58 40m21 6l59-41m22 5l-59 41m21 6l59-41m22 6l-59 41m22 6l58-41m22 7l-59 40m22 7l59-40m21 8l-58 40m21 7l59-40m22 8l-59 40m21 9l59-40m22 9l-59 39m22 9l59-39m21 9l-59 40m22 9l59-39m22 10l-59 39m22 11l58-39m22 10l-59 39m22 11l59-38m21 11l-58 39m21 12l59-39m22 12l-59 39m22 12l58-38m22 13l-59 38m22 13l58-38m22 13l-58 39m21 13l59-38m21 15l-58 38m21 14l59-38m22 15l-59 38m22 15l58-37m22 16l-59 37m22 16l58-37m22 16l-59 38m22 16l58-37m22 17l-58 37m21 18l58-37m22 18l-58 37m21 18l58-37m22 19l-58 37m21 19l58-37m22 20l-58 36m21 20l58-37m21 21l-58 36m22 20l58-36m21 21l-58 36m21 21l58-35m22 21l-58 36m21 22l58-36m21 23l-58 36m22 22l57-35m21 23l-57 36m21 23l58-35m21 24l-58 35m21 24l58-35m21 25l-58 35m21 25l58-34"/>
<path fill="#f25011" d="M4916 1149l90 5 60-48-90-5z"/>
<path fill="#f5490f" d="M5001 1152l90 10 61-48-91-10z"/>
<path fill="#f4430e" d="M5086 1159l91 15 61-46-91-16z"/>
<path fill="#f33e0e" d="M5172 1172l91 20 61-46-91-21z"/>
<path fill="#f23c0d" d="M5258 1189l91 26 61-46-91-26z"/>
<path fill="#f13b0d" d="M5345 1212l91 31 61-45-92-31zM5431 1240l91 37 61-45-91-37z"/>
<path fill="#f23c0d" d="M5518 1273l91 42 61-43-91-43z"/>
<path fill="#f33f0e" d="M5604 1312l92 48 61-43-92-49z"/>
<path fill="#f4440e" d="M5691 1356l91 54 61-43-91-54z"/>
<path fill="#f64b10" d="M5778 1406l91 60 61-42-91-60z"/>
<path fill="#f75411" d="M5865 1462l91 65 60-41-90-66z"/>
<path fill="#f95e13" d="M5951 1523l91 71 61-40-91-72z"/>
<path fill="#fb6b15" d="M6038 1590l90 78 61-41-91-77z"/>
<path fill="#fd7818" d="M6124 1663l90 84 60-40-90-84z"/>
<path fill="#fe871c" d="M6209 1742l90 90 60-39-89-90z"/>
<path fill="#ff9820" d="M6295 1827l89 97 60-39-89-96z"/>
<path fill="#ffa626" d="M6380 1919l89 102 60-37-89-103z"/>
<path class="m" d="M4939 1133l85 3 85 8 86 13 86 18 87 23 86 28 87 34 86 39 87 44 87 50 87 56 86 62 86 67 86 74 86 79 86 85 85 92 84 98m-1529-887l85 3 86 8 86 12 86 18 86 24 87 28 86 34 87 39 87 45 86 50 87 56 86 62 87 68 86 73 85 80 86 85 85 92 84 98m-1528-890l85 3 85 8 86 13 86 19 87 23 86 28 87 34 87 40 86 45 87 50 86 56 87 62 86 68 86 74 86 79 85 86 85 92 84 98m-1606-834l59-44m21 0l-58 44m21 1l58-44m22 1l-59 44m21 1l59-44m21 2l-58 43m21 2l59-43m21 2l-59 43m22 3l58-44m22 3l-59 43m22 3l58-43m22 4l-59 43m22 3l58-43m22 4l-59 43m22 4l58-42m22 4l-59 43m22 5l58-42m22 5l-59 42m22 6l58-42m22 6l-59 41m22 7l59-42m21 6l-58 42m21 7l59-42m22 8l-59 41m22 8l58-42m22 8l-59 42m22 8l58-41m22 8l-58 41m21 9l59-41m21 10l-58 41m22 9l58-41m22 10l-59 41m22 10l59-40m21 10l-58 41m21 11l59-41m22 12l-59 40m22 12l58-40m22 12l-59 40m22 12l59-40m21 13l-58 40m21 13l59-40m22 14l-59 39m22 14l58-40m22 15l-59 39m22 14l58-39m22 15l-58 39m21 15l59-39m21 16l-58 39m22 16l58-39m21 17l-58 38m22 17l58-39m22 17l-59 39m22 17l58-38m22 18l-59 38m22 18l58-38m22 19l-58 37m21 19l58-37m22 19l-59 37m22 20l58-37m21 20l-58 37m22 20l58-37m21 21l-58 37m22 21l57-37m22 22l-58 37m21 22l58-37m21 23l-57 36m21 23l58-37m21 24l-58 36m21 23l58-36m21 24l-57 36m21 24l57-36m21 25l-57 36m21 25l57-36"/>
<path fill="#f55912" d="M4858 1195l90 4 60-49-90-5z"/>
<path fill="#f75111" d="M4943 1197l90 9 60-48-90-10z"/>
<path fill="#f54a0f" d="M5028 1204l91 15 60-49-91-15z"/>
<path fill="#f5450f" d="M5114 1216l91 20 60-48-91-20z"/>
<path fill="#f4410e" d="M5200 1233l91 25 61-47-92-25z"/>
<path fill="#f3400e" d="M5286 1255l91 31 61-47-91-31zM5373 1283l91 36 61-46-92-36z"/>
<path fill="#f4410e" d="M5459 1316l92 41 60-45-91-42z"/>
<path fill="#f4440e" d="M5546 1354l91 47 61-44-91-48z"/>
<path fill="#f5490f" d="M5633 1398l91 53 61-44-91-54z"/>
<path fill="#f75011" d="M5720 1447l91 59 61-43-92-60z"/>
<path fill="#f85912" d="M5806 1502l91 65 61-43-91-65z"/>
<path fill="#fa6314" d="M5893 1563l91 70 60-41-90-72z"/>
<path fill="#fc6f16" d="M5979 1629l91 77 60-41-90-77z"/>
<path fill="#fd7c19" d="M6066 1702l90 83 60-41-90-83z"/>
<path fill="#fe8a1d" d="M6152 1780l89 89 61-39-90-90z"/>
<path fill="#ff9a21" d="M6237 1865l89 95 61-39-89-96z"/>
<path fill="#ffa826" d="M6323 1955l88 102 60-38-88-102z"/>
<path class="m" d="M4881 1179l85 2 85 7 86 13 86 17 86 22 87 28 86 33 87 39 87 44 86 50 87 55 87 61 86 67 86 73 86 78 86 85 85 91 85 98m-1530-879l85 3 85 7 86 13 86 17 87 23 86 28 87 33 86 39 87 44 87 50 87 56 86 61 87 67 86 73 86 79 85 85 85 91 85 98m-1530-882l85 3 86 8 86 12 86 18 86 23 87 28 86 33 87 39 87 45 86 50 87 55 87 62 86 67 86 73 86 79 85 86 85 91 85 98m-1607-824l58-46m22 0l-59 46m22 1l58-46m21 1l-58 45m21 1l58-45m22 1l-59 46m22 1l58-45m21 2l-58 45m22 2l58-44m21 2l-58 45m21 3l59-45m21 4l-58 44m21 3l59-44m21 4l-58 44m21 4l59-44m21 5l-58 44m21 5l59-44m21 5l-58 44m21 5l59-43m21 5l-58 44m22 6l58-43m22 6l-59 43m22 7l58-43m22 7l-59 43m22 8l59-43m21 8l-58 42m21 8l59-42m22 8l-59 43m22 9l58-43m22 10l-59 42m22 9l59-42m21 10l-58 42m21 10l59-42m22 11l-59 41m22 11l58-41m22 11l-58 41m21 12l59-41m21 12l-58 41m22 12l58-41m22 13l-59 40m22 13l58-40m22 13l-58 40m21 14l59-40m21 14l-58 40m22 14l58-40m22 15l-59 40m22 15l58-40m22 16l-58 39m21 16l59-39m21 16l-58 39m22 17l58-39m21 17l-58 39m22 17l58-39m21 18l-58 39m22 18l58-39m22 18l-59 39m22 19l58-39m21 19l-58 39m22 19l58-38m21 20l-58 38m22 20l58-38m21 21l-58 38m22 21l58-38m21 22l-58 37m22 22l57-37m22 22l-58 37m21 23l58-37m21 23l-58 36m22 24l57-37m22 24l-58 36m21 25l58-37m21 25l-58 36m22 25l57-36"/>
<path fill="#f86214" d="M4800 1243l90 3 59-51-89-4z"/>
<path fill="#f85912" d="M4885 1244l90 9 60-51-90-9z"/>
<path fill="#f75211" d="M4970 1251l90 14 61-50-91-15z"/>
<path fill="#f64c10" d="M5056 1262l90 19 61-49-91-20z"/>
<path fill="#f5490f" d="M5141 1279l92 24 60-49-91-25z"/>
<path fill="#f5460f" d="M5228 1300l91 30 61-48-92-30zM5314 1327l91 36 61-48-91-36z"/>
<path fill="#f5470f" d="M5401 1359l91 41 61-46-91-42z"/>
<path fill="#f64a10" d="M5488 1397l91 47 61-46-92-47z"/>
<path fill="#f64f10" d="M5574 1440l92 52 60-45-91-53z"/>
<path fill="#f85512" d="M5661 1489l91 58 61-44-91-59z"/>
<path fill="#f95e13" d="M5748 1543l91 64 61-43-91-65z"/>
<path fill="#fb6715" d="M5835 1603l91 70 60-42-91-71z"/>
<path fill="#fc7317" d="M5921 1669l91 76 60-42-90-76z"/>
<path fill="#fd7f1a" d="M6008 1741l90 82 60-41-90-83z"/>
<path fill="#fe8e1e" d="M6094 1819l90 88 60-40-90-89z"/>
<path fill="#ff9c22" d="M6180 1903l89 95 60-40-89-96z"/>
<path fill="#ffaa27" d="M6265 1993l89 101 60-39-89-102z"/>
<path class="m" d="M4823 1226l84 1 86 7 85 12 86 17 87 22 86 27 87 33 86 37 87 44 87 49 87 55 87 60 86 66 86 73 86 78 86 84 85 91 85 96m-1530-868l85 2 85 7 86 12 86 17 86 22 87 27 86 33 87 38 87 44 87 49 86 55 87 61 86 66 87 73 86 78 85 85 86 90 84 97m-1530-872l85 2 86 7 85 12 86 18 87 22 86 28 87 33 86 38 87 44 87 49 87 55 86 61 87 67 86 73 86 78 86 85 85 91 85 97m-1608-812l58-48m21 0l-58 48m22 0l58-47m21 0l-58 47m21 1l58-47m21 2l-58 46m22 2l58-47m21 2l-58 47m21 2l59-47m21 3l-58 46m21 3l58-46m22 3l-58 46m21 3l58-46m22 4l-59 46m22 4l58-46m22 5l-59 45m22 5l58-45m22 5l-59 45m22 5l58-45m22 6l-58 45m21 6l59-45m21 6l-58 45m21 7l59-45m21 7l-58 45m22 7l58-44m22 7l-59 44m22 8l58-44m22 9l-58 44m21 8l59-43m21 9l-58 43m22 9l58-43m22 10l-59 43m22 10l58-43m22 10l-58 43m21 11l59-43m22 11l-59 43m22 11l58-42m22 12l-58 42m21 12l59-42m21 12l-58 42m22 13l58-42m22 13l-59 42m22 14l58-42m22 14l-58 41m21 15l59-42m21 15l-58 41m22 15l58-41m22 15l-59 41m22 16l58-41m22 16l-58 41m21 16l59-40m21 17l-58 40m22 17l58-40m21 18l-58 39m22 18l58-39m21 18l-58 39m22 19l58-39m21 19l-57 39m21 19l58-39m21 20l-57 39m21 20l58-39m21 21l-57 38m21 21l58-38m21 21l-58 38m22 22l58-38m21 22l-58 38m22 22l57-37m21 22l-57 38m21 23l58-37m21 23l-58 38m22 24l57-37m21 24l-57 37m21 25l58-37"/>
<path fill="#fb6b15" d="M4742 1292l90 3 59-53-89-3z"/>
<path fill="#fa6214" d="M4827 1293l90 8 60-52-90-9z"/>
<path fill="#f85a12" d="M4912 1299l90 13 60-51-90-14z"/>
<path fill="#f75511" d="M4997 1310l91 18 60-51-90-19z"/>
<path fill="#f75011" d="M5083 1326l91 23 61-50-91-24z"/>
<path fill="#f64e10" d="M5169 1347l92 29 60-50-91-29z"/>
<path fill="#f64d10" d="M5256 1373l91 35 61-49-92-35z"/>
<path fill="#f64e10" d="M5342 1404l92 41 61-48-92-41z"/>
<path fill="#f75111" d="M5429 1441l92 46 60-47-91-46z"/>
<path fill="#f75511" d="M5516 1484l91 51 61-46-91-52z"/>
<path fill="#f95b13" d="M5603 1532l91 57 61-45-91-58z"/>
<path fill="#fa6314" d="M5690 1586l91 63 61-45-91-64z"/>
<path fill="#fc6c16" d="M5777 1645l91 69 60-43-91-71z"/>
<path fill="#fd7718" d="M5863 1710l91 76 60-43-90-76z"/>
<path fill="#fe831b" d="M5950 1781l90 82 60-42-90-82z"/>
<path fill="#ff911e" d="M6036 1858l90 88 60-41-90-89z"/>
<path fill="#ff9f23" d="M6122 1942l89 94 60-41-89-94z"/>
<path fill="#ffad28" d="M6207 2031l90 101 59-40-89-101z"/>
<path class="m" d="M4765 1274l84 2 86 6 85 11 86 16 86 22 87 26 86 32 87 37 87 43 87 49 87 54 86 59 87 66 86 72 86 77 86 84 86 90 85 96m-1531-858l85 1 85 7 86 11 86 17 86 21 86 27 87 32 87 38 86 43 87 48 87 55 87 60 86 65 87 72 86 78 86 84 85 90 85 96m-1531-861l85 1 85 7 86 11 86 17 86 22 87 27 86 32 87 38 87 43 87 49 86 55 87 60 87 66 86 72 86 78 86 84 85 90 85 97m-1607-800l57-49m21 0l-57 49m21 0l58-49m21 0l-58 49m21 1l58-49m21 1l-58 49m22 1l58-48m21 2l-58 48m21 2l58-48m22 2l-58 48m21 3l58-48m22 3l-59 48m22 3l58-48m21 4l-58 47m22 4l58-47m21 4l-58 47m22 5l58-47m21 5l-58 47m22 5l58-47m22 6l-59 46m22 6l58-46m22 6l-58 46m21 7l58-46m22 7l-58 45m21 8l59-46m21 7l-58 46m22 8l58-46m22 9l-59 45m22 8l58-45m22 9l-58 45m21 9l59-45m21 10l-58 45m22 9l58-44m22 10l-59 44m22 11l58-44m22 11l-58 44m22 11l58-44m22 12l-59 43m22 12l58-43m22 12l-58 44m21 12l59-43m21 13l-58 43m22 13l58-42m22 13l-58 43m21 14l58-42m22 14l-58 42m22 15l58-42m21 15l-58 42m22 16l58-42m22 16l-58 41m21 16l58-41m22 17l-58 41m22 17l58-41m21 17l-58 41m22 18l58-41m21 18l-58 41m22 18l58-40m22 19l-58 40m21 19l58-40m22 20l-58 40m21 19l58-39m22 20l-58 40m21 20l58-39m21 21l-57 39m21 22l58-39m21 22l-57 39m21 22l58-39m21 23l-58 38m22 23l57-38m21 24l-57 38m21 24l58-38m21 24l-57 38m21 24l57-37"/>
<path fill="#fc7418" d="M4685 1343l89 3 60-55-90-3z"/>
<path fill="#fb6b15" d="M4769 1344l90 7 60-54-90-8z"/>
<path fill="#fa6314" d="M4854 1349l90 12 60-53-90-13z"/>
<path fill="#f95d13" d="M4940 1359l90 18 60-53-90-18z"/>
<path fill="#f85912" d="M5025 1374l91 23 60-52-91-23z"/>
<path fill="#f85612" d="M5111 1394l92 29 60-51-91-29z"/>
<path fill="#f75511" d="M5198 1420l91 34 60-50-91-35zM5284 1451l92 39 60-49-91-40z"/>
<path fill="#f85812" d="M5371 1487l92 45 60-48-91-46z"/>
<path fill="#f95c13" d="M5458 1529l91 51 61-48-91-51z"/>
<path fill="#fa6114" d="M5545 1576l91 57 61-47-92-57z"/>
<path fill="#fb6915" d="M5632 1629l91 63 60-46-91-63z"/>
<path fill="#fc7217" d="M5719 1688l91 68 60-45-91-69z"/>
<path fill="#fd7c19" d="M5805 1752l91 75 60-44-90-75z"/>
<path fill="#fe881c" d="M5892 1823l90 80 61-43-91-81z"/>
<path fill="#ff951f" d="M5978 1899l90 87 60-42-90-88z"/>
<path fill="#ffa224" d="M6064 1981l90 94 60-41-90-95z"/>
<path fill="#ffaf29" d="M6150 2070l89 100 60-41-89-100z"/>
<path class="m" d="M4688 1342l85 1 85 5 85 10 86 15 86 21 86 26 87 31 87 36 86 42 87 47 87 53 87 59 87 65 86 70 86 77 87 83 85 88 86 95m-1532-841l85 0 85 6 85 11 86 15 86 21 87 26 86 31 87 37 87 42 87 47 87 54 86 59 87 65 86 71 87 76 86 83 85 89 86 96m-1532-846l85 1 85 5 86 11 85 16 87 21 86 26 87 32 86 36 87 43 87 48 87 53 87 60 86 65 87 71 86 77 86 83 86 89 85 96m-1531-850l84 1 85 6 86 11 86 16 86 21 86 27 87 31 87 37 87 43 86 48 87 54 87 60 87 65 86 71 86 77 86 84 86 89 85 96m-1608-786l58-51m21 0l-58 51m21 0l58-51m21 0l-58 51m22 1l57-51m21 1l-57 50m21 2l58-51m21 2l-58 50m22 2l57-50m22 2l-58 50m21 2l58-49m21 3l-57 49m21 3l58-49m21 3l-58 49m22 4l58-49m21 4l-58 49m22 4l58-48m21 5l-58 48m22 5l58-48m21 5l-58 48m22 6l58-48m22 6l-59 48m22 6l58-47m22 6l-58 48m21 7l58-47m22 7l-58 47m22 7l58-46m21 8l-58 46m22 9l58-47m22 9l-58 46m21 9l58-46m22 10l-58 45m22 10l58-46m21 10l-58 46m22 10l58-45m22 11l-58 45m21 11l59-45m21 11l-58 45m22 12l58-45m22 13l-58 44m21 12l58-44m22 13l-58 44m22 13l58-44m22 14l-59 44m22 13l58-43m22 14l-58 44m22 14l58-43m21 15l-58 43m22 15l58-42m22 15l-58 43m21 16l58-43m22 17l-58 42m22 17l58-42m21 17l-58 42m22 17l58-41m21 18l-57 41m21 18l58-41m22 19l-58 41m21 19l58-41m22 20l-58 40m21 20l58-41m22 21l-58 40m22 20l57-40m22 21l-58 40m22 22l57-40m22 22l-58 39m21 22l58-39m21 22l-57 40m21 22l58-39m21 24l-57 38m21 24l57-38m22 24l-58 38m22 24l57-38"/></g>
<g><path class="ax" d="M474.5 237L463.8 44"/>
<path class="ax" d="M756.6 230.8L767.4 41.2"/>
<circle cx="471.9" cy="190.8" r="1.5"/>
<circle cx="470.6" cy="166.4" r="1.5"/>
<circle cx="469.2" cy="141.9" r="1.5"/>
<circle cx="467.9" cy="117.4" r="1.5"/>
<circle cx="466.5" cy="92.9" r="1.5"/>
<circle cx="465.2" cy="68.5" r="1.5"/>
<circle cx="463.8" cy="44" r="1.5"/>
<circle cx="474.5" cy="237" r="1.5"/>
<circle cx="511.7" cy="254.4" r="1.5"/>
<circle cx="548.9" cy="271.8" r="1.5"/>
<circle cx="586.1" cy="289.1" r="1.5"/>
<circle cx="623.3" cy="306.5" r="1.5"/>
<circle cx="650" cy="291.4" r="1.5"/>
<circle cx="676.6" cy="276.2" r="1.5"/>
<circle cx="703.3" cy="261.1" r="1.5"/>
<circle cx="729.9" cy="245.9" r="1.5"/>
<circle cx="756.6" cy="230.8" r="1.5"/></g>
<g transform="scale(.1)" stroke-width="7" stroke-opacity="0.68"><path fill="#0360a4" d="M3364 4720l51-73 65-29-51 73z"/>
<path fill="#0361a5" d="M3303 4751l50-73 65-30-50 73z"/>
<path fill="#0362a5" d="M3241 4782l50-73 66-30-50 73zM3180 4813l49-73 66-30-50 73zM3118 4845l50-73 65-31-49 73z"/>
<path fill="#0363a5" d="M3057 4877l49-73 65-31-49 73zM2995 4909l49-73 66-31-49 73z"/>
<path fill="#0362a4" d="M2934 4942l48-73 66-32-49 73zM2872 4976l48-73 66-33-48 73z"/>
<path fill="#0362a3" d="M2811 5010l48-73 65-33-48 73z"/>
<path fill="#0361a2" d="M2749 5044l48-73 66-34-48 74z"/>
<path fill="#0360a1" d="M2688 5079l47-73 66-34-48 73z"/>
<path fill="#0360a0" d="M2626 5114l48-73 65-34-47 73z"/>
<path fill="#035f9f" d="M2565 5150l47-73 66-35-47 73z"/>
<path fill="#035e9e" d="M2504 5186l46-73 66-35-47 73z"/>
<path fill="#035c9c" d="M2442 5223l47-73 65-36-46 73z"/>
<path fill="#035b9b" d="M2381 5260l46-73 66-36-46 73z"/>
<path fill="#035999" d="M2320 5298l46-73 65-37-46 73z"/>
<path fill="#045897" d="M2259 5336l46-73 65-38-46 74z"/>
<path fill="#045695" d="M2198 5375l45-73 66-38-46 73z"/>
<path fill="#045493" d="M2137 5414l45-73 65-39-45 74z"/>
<path fill="#045291" d="M2076 5454l45-73 65-39-45 73z"/>
<path class="m" d="M2078 5452l61-40 61-39 61-39 62-38 61-38 61-37 61-37 62-36 61-36 61-35 62-35 61-35 62-34 61-33 62-33 61-33 62-32 61-31 62-32 61-30 62-31 61-30m-1328 729l61-39 62-40 61-38 61-39 61-37 62-38 61-36 61-37 62-35 62-36 61-34 62-35 61-34 62-33 62-33 61-33 62-32 61-31 62-32 62-31 61-30 62-30m-1375 798l45-68m20-13l-44 67m20-13l44-68m21-13l-45 68m21-13l44-68m21-13l-45 68m20-13l45-68m20-13l-44 68m20-13l45-68m20-13l-45 68m21-13l45-68m20-12l-45 67m21-12l45-68m20-13l-45 68m20-13l46-67m20-13l-45 68m20-13l45-67m21-13l-45 68m20-12l45-68m21-12l-46 67m21-12l45-68m21-12l-46 68m21-12l46-68m20-12l-46 68m21-12l46-68m20-12l-46 68m21-12l46-68m20-12l-46 68m20-12l47-68m20-11l-46 67m20-11l47-68m20-12l-46 68m20-12l47-67m20-12l-46 68m20-12l47-67m21-12l-47 68m20-12l47-67m21-11l-47 67m20-11l47-68m21-11l-47 67m20-11l47-67m21-11l-47 67m20-11l48-67m20-11l-47 67m20-11l48-67m20-11l-47 67m20-11l48-67m20-11l-47 67m20-11l48-67m21-11l-48 68m20-11l48-67m21-11l-48 67m20-10l48-68m21-10l-48 67m20-10l49-68m20-10l-48 67m20-10l49-68m20-10l-48 67m20-10l49-67m20-11l-48 68m20-10l49-68m21-10l-49 67m20-10l49-67m21-10l-49 67m20-10l49-67m21-10l-49 67m20-10l49-67"/>
<path fill="#0079b0" d="M3413 4653l51-69 65-29-50 69z"/>
<path fill="#007aaf" d="M3351 4683l51-69 66-29-51 69z"/>
<path fill="#007bae" d="M3290 4714l50-69 66-30-51 69zM3228 4746l50-70 66-30-50 69z"/>
<path fill="#007cad" d="M3166 4777l50-69 66-31-50 70z"/>
<path fill="#007cac" d="M3104 4809l50-69 66-31-50 69z"/>
<path fill="#007cab" d="M3043 4842l49-70 66-31-50 69z"/>
<path fill="#007bab" d="M2981 4875l49-70 66-32-49 70z"/>
<path fill="#007baa" d="M2919 4908l49-69 66-33-49 70z"/>
<path fill="#007aa9" d="M2858 4942l48-69 66-33-49 69z"/>
<path fill="#0079a8" d="M2796 4977l48-70 66-34-48 70z"/>
<path fill="#0078a7" d="M2734 5011l48-69 66-34-48 69z"/>
<path fill="#0077a7" d="M2673 5047l47-70 66-35-48 70z"/>
<path fill="#0076a6" d="M2611 5082l47-69 67-35-48 69z"/>
<path fill="#0074a5" d="M2549 5119l48-70 66-35-48 69z"/>
<path fill="#0072a4" d="M2488 5155l47-69 66-36-47 69z"/>
<path fill="#0070a3" d="M2426 5193l47-70 66-37-47 70z"/>
<path fill="#006ea2" d="M2365 5230l47-69 65-37-46 69z"/>
<path fill="#006ca1" d="M2304 5269l46-70 66-38-47 70z"/>
<path fill="#0069a0" d="M2242 5307l46-69 66-38-46 69z"/>
<path fill="#0067a0" d="M2181 5347l46-70 66-39-46 70z"/>
<path fill="#00649e" d="M2120 5386l46-69 65-39-45 69z"/>
<path class="m" d="M2123 5384l61-40 61-39 61-39 62-38 61-38 61-37 62-37 62-36 61-36 62-35 61-35 62-34 62-34 62-33 61-33 62-33 62-32 62-32 61-31 62-31 62-30 61-30m-1332 730l61-39 62-40 61-38 61-39 62-37 61-38 62-36 62-36 61-36 62-35 62-35 62-35 62-34 61-33 62-33 62-32 62-33 62-31 62-31 61-31 62-31 62-30m-1379 796l44-64m21-14l-45 65m20-14l45-64m21-13l-45 64m20-13l45-64m21-13l-45 64m20-13l45-64m21-13l-46 64m21-13l45-64m21-13l-46 64m21-13l45-64m21-13l-46 65m21-13l45-64m21-13l-46 64m21-12l45-64m21-13l-46 64m20-12l47-64m20-13l-46 64m20-12l47-64m20-12l-46 64m20-13l47-64m20-12l-46 64m21-12l46-64m21-12l-47 64m21-12l46-64m21-12l-47 64m21-12l46-64m21-12l-47 64m21-12l47-64m20-11l-47 64m21-12l47-64m20-12l-47 64m21-11l47-64m21-12l-48 64m21-11l47-64m21-12l-47 64m20-11l48-64m20-12l-47 65m20-12l48-64m20-11l-47 64m20-11l48-64m21-11l-48 64m21-11l47-65m21-11l-48 65m21-11l48-65m20-11l-48 65m21-11l48-64m21-11l-49 64m21-11l48-64m21-11l-48 64m20-10l49-65m20-10l-48 64m20-11l49-64m20-10l-48 64m21-11l48-64m21-10l-49 64m21-11l48-64m21-10l-49 64m21-10l49-64m20-11l-49 64m21-10l49-64m21-10l-49 64m20-10l49-64m21-10l-49 64m20-10l49-64m21-10l-49 64m20-10l50-64"/>
<path fill="#0095a7" d="M3462 4589l51-66 66-29-51 66z"/>
<path fill="#0095a6" d="M3400 4619l51-66 66-29-51 66z"/>
<path fill="#0096a5" d="M3338 4650l51-66 66-30-51 66z"/>
<path fill="#0096a4" d="M3276 4681l51-66 66-30-51 66z"/>
<path fill="#0096a3" d="M3215 4713l50-66 66-31-50 66z"/>
<path fill="#0095a2" d="M3153 4745l49-66 67-31-50 66z"/>
<path fill="#0095a1" d="M3091 4778l49-66 67-32-50 66z"/>
<path fill="#0094a0" d="M3029 4811l49-66 66-33-49 67z"/>
<path fill="#00939f" d="M2967 4844l49-66 66-33-49 67z"/>
<path fill="#00929e" d="M2905 4878l49-66 66-33-49 66z"/>
<path fill="#00919d" d="M2843 4912l49-66 66-33-49 66z"/>
<path fill="#00909d" d="M2781 4947l49-66 66-34-49 66z"/>
<path fill="#008f9c" d="M2719 4982l49-66 66-34-49 66z"/>
<path fill="#008d9b" d="M2658 5018l48-66 66-35-48 66z"/>
<path fill="#008b9a" d="M2596 5054l48-66 66-35-48 66z"/>
<path fill="#008999" d="M2534 5091l48-66 66-36-48 66z"/>
<path fill="#008698" d="M2472 5128l48-66 66-36-47 66z"/>
<path fill="#008496" d="M2411 5166l47-66 66-37-47 66z"/>
<path fill="#008195" d="M2349 5204l47-65 66-38-47 66z"/>
<path fill="#007e94" d="M2288 5243l46-66 67-38-47 66z"/>
<path fill="#007b93" d="M2226 5282l47-65 66-39-47 66z"/>
<path fill="#007892" d="M2165 5322l46-66 66-39-46 66z"/>
<path class="m" d="M2167 5320l62-40 61-39 62-39 61-38 62-38 62-37 61-37 62-36 62-36 62-35 62-35 62-34 61-34 62-34 62-33 62-32 62-32 62-32 62-31 62-31 62-30 62-30m-1337 732l62-40 61-39 62-39 61-38 62-38 62-37 62-37 62-36 62-36 61-35 62-35 62-34 62-34 62-33 62-33 63-33 62-32 62-32 62-31 62-31 62-30 62-30m-1385 794l46-61m21-13l-46 60m20-13l46-60m21-14l-46 61m20-13l46-61m21-13l-46 61m20-13l46-61m21-13l-46 61m20-13l46-61m21-13l-46 61m20-13l47-60m20-13l-46 60m20-12l47-61m20-12l-46 60m20-12l47-61m21-13l-47 61m21-12l46-61m21-12l-47 60m21-12l46-61m21-12l-47 61m21-13l47-60m20-13l-47 61m21-12l47-61m21-12l-47 61m20-12l47-61m21-12l-47 61m20-12l48-61m20-12l-47 61m21-12l47-60m21-12l-48 61m21-12l47-61m21-12l-48 61m21-11l48-61m20-12l-47 61m20-11l48-61m21-12l-48 61m21-11l47-61m21-11l-48 60m21-11l48-61m21-11l-49 61m21-11l48-61m21-11l-48 61m20-12l49-60m20-11l-48 60m21-11l48-60m21-11l-49 60m21-10l48-61m21-11l-48 61m20-11l49-61m21-11l-49 61m21-11l48-60m21-11l-49 61m21-11l49-60m20-11l-49 61m21-11l49-61m21-10l-49 61m20-11l50-60m20-11l-49 61m21-10l49-61m21-10l-50 60m21-10l49-61m21-10l-49 61m20-10l50-61m20-10l-49 61m20-10l50-61m21-10l-50 61m21-10l49-61"/>
<path fill="#009a89" d="M3512 4528l51-62 66-29-51 62z"/>
<path fill="#009a87" d="M3450 4559l51-63 66-29-51 62z"/>
<path fill="#009985" d="M3388 4589l50-62 67-30-51 63z"/>
<path fill="#009884" d="M3325 4621l51-63 67-30-51 62z"/>
<path fill="#009882" d="M3263 4652l51-62 66-31-50 63z"/>
<path fill="#009781" d="M3201 4684l50-62 67-31-50 62z"/>
<path fill="#009680" d="M3139 4717l50-63 67-31-50 62z"/>
<path fill="#00957f" d="M3077 4750l50-63 66-32-50 63z"/>
<path fill="#00937e" d="M3015 4783l49-62 67-33-50 63z"/>
<path fill="#00927d" d="M2953 4817l49-62 67-33-50 62z"/>
<path fill="#00917c" d="M2891 4852l49-63 67-34-50 63z"/>
<path fill="#008f7b" d="M2829 4886l49-62 66-34-49 62z"/>
<path fill="#008e7b" d="M2767 4922l48-63 67-34-49 62z"/>
<path fill="#008c7a" d="M2705 4957l48-62 67-35-49 62z"/>
<path fill="#008b7a" d="M2643 4994l48-63 67-35-49 62z"/>
<path fill="#008979" d="M2581 5030l48-62 67-36-49 62z"/>
<path fill="#008779" d="M2519 5068l48-63 66-36-47 62z"/>
<path fill="#008579" d="M2457 5105l48-62 66-37-47 62z"/>
<path fill="#008379" d="M2395 5144l48-62 66-38-47 62z"/>
<path fill="#008179" d="M2334 5182l47-62 67-38-48 62z"/>
<path fill="#007f79" d="M2272 5222l47-62 67-39-47 62z"/>
<path fill="#007c78" d="M2211 5262l46-62 67-40-47 62z"/>
<path class="m" d="M2213 5259l62-40 61-39 62-39 62-38 62-38 61-37 62-37 62-36 62-36 62-35 62-35 62-34 63-34 62-33 62-33 62-33 62-32 62-32 62-31 62-31 62-30 62-30m-1340 734l62-40 62-39 61-39 62-38 62-38 62-37 62-37 62-36 62-36 62-35 62-35 63-34 62-34 62-33 62-33 62-33 63-32 62-32 62-31 62-31 62-30 62-30m-1388 792l46-57m21-13l-46 57m20-13l47-57m20-14l-46 57m20-13l47-57m20-13l-46 57m20-13l47-57m21-13l-47 57m20-13l47-57m21-13l-47 57m21-12l47-57m20-13l-47 57m21-13l47-57m20-13l-47 58m21-13l47-57m21-13l-47 57m20-12l47-57m21-13l-47 58m20-13l48-57m21-12l-48 57m21-12l47-58m21-12l-48 57m21-12l48-57m20-12l-47 57m20-12l48-57m21-12l-48 57m21-12l48-57m20-12l-48 57m21-11l48-58m21-11l-48 57m20-12l48-57m21-12l-48 57m21-11l48-57m21-12l-49 57m21-11l48-57m21-12l-48 57m20-11l49-57m21-12l-49 58m21-12l48-57m21-11l-48 57m20-11l49-57m21-12l-49 58m21-11l48-58m21-11l-49 58m21-11l49-58m21-11l-49 58m20-11l49-57m21-11l-49 57m21-11l49-57m21-11l-49 57m20-10l50-58m20-10l-49 57m21-10l49-58m21-10l-50 57m21-11l50-57m20-10l-49 57m21-10l49-58m21-10l-50 57m21-10l50-57m20-11l-49 58m20-11l50-57m21-10l-50 57m21-10l50-57m20-10l-50 57m21-10l50-57m21-10l-50 57m20-10l51-57"/>
<path fill="#00996a" d="M3562 4471l51-59 67-29-52 59z"/>
<path fill="#009869" d="M3499 4501l52-59 66-29-51 59z"/>
<path fill="#009768" d="M3437 4532l51-59 67-30-51 59z"/>
<path fill="#009566" d="M3375 4563l51-59 67-30-51 59z"/>
<path fill="#009465" d="M3313 4595l50-59 67-31-51 59z"/>
<path fill="#009364" d="M3250 4627l51-59 67-31-51 59z"/>
<path fill="#009163" d="M3188 4660l50-59 67-32-50 59z"/>
<path fill="#009062" d="M3126 4693l50-59 67-33-50 59z"/>
<path fill="#008e60" d="M3063 4726l50-59 67-33-50 59z"/>
<path fill="#008d60" d="M3001 4760l50-59 67-33-50 59z"/>
<path fill="#008b5f" d="M2939 4794l49-59 68-33-50 59z"/>
<path fill="#00895e" d="M2877 4829l49-59 67-34-49 59z"/>
<path fill="#00885d" d="M2814 4864l50-58 67-35-49 59z"/>
<path fill="#00865c" d="M2752 4900l49-58 67-36-49 59z"/>
<path fill="#00845b" d="M2690 4936l49-58 67-36-49 59z"/>
<path fill="#00825a" d="M2628 4973l49-58 67-37-49 59z"/>
<path fill="#00805a" d="M2566 5011l48-59 68-37-49 59z"/>
<path fill="#007d59" d="M2504 5048l48-58 67-37-48 58z"/>
<path fill="#007b58" d="M2442 5087l48-59 67-38-48 59z"/>
<path fill="#007858" d="M2380 5125l48-58 67-38-48 58z"/>
<path fill="#007557" d="M2319 5165l47-58 67-40-47 59z"/>
<path fill="#007257" d="M2257 5205l47-58 67-40-47 58z"/>
<path class="m" d="M2259 5202l62-40 62-39 62-39 62-38 62-38 62-37 62-37 62-36 62-36 62-35 63-35 62-34 62-34 62-34 63-33 62-32 62-32 63-32 62-31 62-31 62-30 63-30m-1344 736l62-40 62-39 62-39 62-38 62-38 62-37 62-37 62-36 62-36 63-35 62-35 62-35 63-34 62-33 62-33 63-32 62-33 62-31 63-31 62-31 62-31 63-30m-1393 791l48-53m20-13l-47 53m21-13l47-54m20-13l-47 53m21-13l47-53m21-13l-48 53m21-13l47-53m21-13l-47 53m20-13l48-53m20-13l-47 53m21-12l47-54m21-13l-48 54m21-13l47-53m21-13l-48 53m21-12l48-54m21-12l-48 53m20-12l48-54m21-12l-48 53m21-12l48-54m21-12l-48 54m20-13l48-53m21-12l-48 53m21-12l48-54m21-12l-49 54m21-12l48-54m21-12l-48 54m21-12l48-54m21-11l-49 53m21-12l48-53m21-12l-48 54m20-12l49-54m21-11l-49 53m21-11l49-54m20-12l-48 54m20-11l49-54m21-12l-49 54m21-11l49-54m21-11l-49 53m20-11l49-54m21-11l-49 54m21-11l49-54m21-11l-49 53m20-11l50-53m20-11l-49 53m21-11l49-53m21-11l-49 53m20-10l50-54m21-11l-50 54m21-11l50-54m20-11l-49 54m21-11l49-53m21-11l-50 54m21-11l50-54m21-10l-50 54m21-11l49-54m21-10l-50 54m21-11l50-54m21-10l-50 54m21-10l50-54m20-11l-50 54m21-10l50-54m21-10l-50 54m21-10l50-54m21-10l-51 54m21-10l50-54m21-10l-50 54m21-10l50-54"/>
<path fill="#008d54" d="M3612 4417l51-56 68-29-52 56z"/>
<path fill="#008c53" d="M3549 4447l52-55 67-30-52 56z"/>
<path fill="#008a51" d="M3487 4478l51-56 68-29-52 55z"/>
<path fill="#008850" d="M3425 4509l51-55 67-31-51 56z"/>
<path fill="#00874f" d="M3362 4541l51-56 67-30-51 55z"/>
<path fill="#00854d" d="M3300 4573l50-55 68-32-51 56z"/>
<path fill="#00834c" d="M3237 4606l51-56 67-32-50 56z"/>
<path fill="#00814b" d="M3175 4639l50-56 68-32-51 55z"/>
<path fill="#007f4a" d="M3112 4672l51-55 67-33-50 55z"/>
<path fill="#007d49" d="M3050 4706l50-55 68-33-51 55z"/>
<path fill="#007b48" d="M2988 4740l49-55 68-33-50 55z"/>
<path fill="#007847" d="M2925 4775l50-55 67-34-49 55z"/>
<path fill="#007645" d="M2863 4811l49-55 68-35-50 55z"/>
<path fill="#007344" d="M2801 4846l49-54 67-36-49 55z"/>
<path fill="#007143" d="M2738 4883l49-55 68-36-49 55z"/>
<path fill="#006e42" d="M2676 4920l49-55 68-37-49 55z"/>
<path fill="#006b41" d="M2614 4957l48-55 68-37-49 55z"/>
<path fill="#006840" d="M2552 4995l48-55 68-37-49 54z"/>
<path fill="#00653e" d="M2490 5033l48-54 67-38-48 54z"/>
<path fill="#00613d" d="M2428 5072l48-54 67-39-48 54z"/>
<path fill="#005e3b" d="M2366 5111l47-54 68-39-48 54z"/>
<path fill="#005a3a" d="M2304 5151l47-54 68-40-48 54z"/>
<path class="m" d="M2307 5149l61-40 62-39 62-39 62-38 63-38 62-38 62-36 62-37 63-35 62-36 62-35 63-34 62-34 63-33 62-33 63-33 62-32 62-32 63-31 62-31 63-30 62-30m-1347 739l62-40 62-40 62-38 63-39 62-38 62-37 62-37 63-36 62-36 63-35 62-35 62-35 63-34 62-33 63-33 62-33 63-32 62-31 63-32 62-31 63-30 62-30m-1395 790l47-50m21-13l-48 50m21-14l48-49m20-14l-48 50m21-13l48-50m21-13l-48 50m20-13l48-50m21-13l-48 50m21-13l48-50m21-13l-49 50m21-13l48-50m21-13l-48 50m20-12l49-50m20-13l-48 50m21-13l48-50m21-12l-48 50m20-13l49-50m21-12l-49 50m21-13l48-50m21-12l-48 50m20-12l49-50m21-12l-49 50m21-13l49-50m20-12l-48 50m20-12l49-50m21-12l-49 50m21-12l49-50m21-12l-49 51m20-12l49-50m21-12l-49 50m21-12l49-50m21-12l-49 51m21-12l49-50m21-12l-50 50m21-11l49-50m21-12l-49 50m21-11l49-50m21-12l-49 51m20-12l50-50m21-11l-50 50m21-11l50-51m20-11l-49 51m21-11l49-51m21-11l-50 51m21-11l50-51m21-11l-50 51m21-11l50-51m21-11l-50 51m21-11l49-50m21-11l-50 50m21-10l50-51m21-11l-50 51m21-11l50-50m21-11l-50 51m20-11l51-50m20-11l-50 51m21-11l50-50m21-11l-50 51m21-10l50-51m21-10l-51 50m21-10l51-50m21-11l-51 51m21-10l50-51m21-10l-50 51m20-10l51-51m21-10l-51 51m21-10l51-51"/>
<path fill="#007e40" d="M3662 4366l52-52 68-29-52 52z"/>
<path fill="#007c3e" d="M3600 4397l51-52 68-30-52 52z"/>
<path fill="#007a3c" d="M3537 4427l52-51 67-31-51 52z"/>
<path fill="#00773b" d="M3475 4459l51-52 68-31-52 52z"/>
<path fill="#00753a" d="M3412 4490l51-51 68-31-51 51z"/>
<path fill="#007338" d="M3350 4523l50-52 68-32-51 52z"/>
<path fill="#007037" d="M3287 4555l51-51 68-32-51 51z"/>
<path fill="#006d36" d="M3224 4588l51-51 68-33-51 52z"/>
<path fill="#006b34" d="M3162 4622l50-52 68-33-50 52z"/>
<path fill="#006833" d="M3099 4656l50-52 68-33-50 51z"/>
<path fill="#006431" d="M3037 4690l50-51 68-34-50 51z"/>
<path fill="#006130" d="M2974 4725l50-51 68-35-50 51z"/>
<path fill="#005e2f" d="M2912 4760l49-50 68-36-49 51z"/>
<path fill="#005a2d" d="M2849 4796l50-50 68-36-50 51z"/>
<path fill="#00562b" d="M2787 4833l49-51 68-36-49 50z"/>
<path fill="#00522a" d="M2725 4870l49-51 68-37-49 51z"/>
<path fill="#004d28" d="M2662 4907l49-50 68-38-49 50z"/>
<path fill="#004926" d="M2600 4945l49-50 68-39-49 51z"/>
<path fill="#004424" d="M2538 4983l48-50 68-39-48 50z"/>
<path fill="#003e21" d="M2476 5022l48-50 68-39-48 50z"/>
<path fill="#00381f" d="M2413 5062l48-50 69-40-49 49z"/>
<path fill="#00321c" d="M2351 5101l48-49 68-41-48 50z"/>
<path class="m" d="M2354 5099l62-40 62-39 63-39 62-38 62-38 62-38 63-36 62-37 63-36 62-35 63-35 62-34 63-34 62-34 63-33 62-32 63-33 63-31 62-32 63-30 62-31 63-30m-1350 742l62-40 63-40 62-38 62-39 62-38 63-37 62-37 63-36 62-36 63-36 62-35 63-34 63-34 62-34 63-33 63-32 62-33 63-31 62-32 63-30 63-31 62-30m-1399 789l48-46m21-13l-48 46m21-13l48-46m21-14l-49 46m21-13l48-46m21-13l-48 46m20-13l49-46m21-13l-49 46m21-13l48-46m21-13l-48 46m20-13l49-46m21-13l-49 46m21-12l49-47m20-12l-49 46m21-13l49-46m21-12l-49 46m21-13l49-46m21-13l-49 47m20-13l49-46m21-12l-49 46m21-12l49-47m21-12l-49 47m21-13l49-46m21-12l-50 46m21-12l49-46m21-12l-49 46m21-12l49-46m21-12l-49 46m20-11l50-47m21-12l-50 47m21-12l50-47m21-11l-50 46m21-11l49-47m21-12l-49 47m20-11l50-47m21-12l-50 47m21-11l50-47m21-11l-50 46m21-11l50-47m21-11l-50 47m21-12l50-46m20-12l-50 47m21-11l50-47m21-11l-50 47m21-11l50-47m21-11l-50 47m21-11l50-47m21-11l-50 47m20-10l51-47m21-11l-51 47m21-11l51-47m20-11l-50 47m21-10l50-47m21-11l-50 47m21-10l50-47m21-11l-51 47m21-10l51-47m21-11l-51 47m21-10l51-47m21-10l-51 47m21-10l50-48m21-10l-50 47m20-10l51-47m21-10l-51 47m21-10l51-47m21-10l-51 47m21-10l51-47"/>
<path fill="#00672f" d="M3713 4319l52-48 68-30-52 49z"/>
<path fill="#00642d" d="M3651 4349l51-48 68-30-52 49z"/>
<path fill="#00612c" d="M3588 4380l51-48 68-30-51 48z"/>
<path fill="#005e2a" d="M3525 4412l51-48 69-31-52 48z"/>
<path fill="#005a28" d="M3463 4443l51-48 68-31-51 48z"/>
<path fill="#005727" d="M3400 4476l51-48 68-32-51 48z"/>
<path fill="#005325" d="M3337 4508l51-47 68-33-51 48z"/>
<path fill="#004f23" d="M3274 4541l51-47 68-33-50 47z"/>
<path fill="#004b22" d="M3212 4575l50-48 69-33-51 47z"/>
<path fill="#004720" d="M3149 4609l50-47 69-34-51 47z"/>
<path fill="#00421e" d="M3086 4643l50-47 69-34-50 47z"/>
<path fill="#003d1c" d="M3024 4678l50-47 68-35-50 47z"/>
<path fill="#003819" d="M2961 4714l50-47 69-36-50 47z"/>
<path fill="#003217" d="M2899 4750l49-47 69-36-50 46z"/>
<path fill="#002c14" d="M2836 4786l49-46 69-37-49 46z"/>
<path fill="#002611" d="M2774 4823l49-46 68-38-49 47z"/>
<path fill="#001e0e" d="M2711 4861l49-46 69-39-49 46z"/>
<path fill="#00160a" d="M2649 4898l49-45 68-39-49 46z"/>
<path fill="#000e06" d="M2586 4937l49-46 69-39-49 45z"/>
<path fill="#000402" d="M2524 4976l49-45 68-41-48 46z"/>
<path fill="#000000" d="M2462 5015l48-45 69-41-49 46zM2400 5055l48-44 68-42-48 45z"/>
<path class="m" d="M2402 5053l63-40 62-39 62-39 63-39 62-37 62-38 63-37 62-36 63-36 63-36 62-35 63-34 63-34 62-34 63-33 63-32 62-33 63-31 63-32 62-31 63-30 63-30m-1352 745l62-40 62-40 63-39 62-38 63-38 62-38 63-37 62-36 63-36 63-36 62-35 63-34 63-34 62-34 63-33 63-33 63-32 62-32 63-31 63-31 63-30 62-30m-1402 788l49-42m21-13l-49 42m21-13l49-43m21-13l-49 42m20-13l49-42m21-13l-49 42m21-13l49-43m21-13l-49 43m20-13l50-43m20-13l-49 43m21-13l49-42m21-13l-49 42m21-13l49-42m21-13l-50 43m21-13l50-43m20-12l-49 43m21-13l49-43m21-12l-49 42m20-12l50-43m21-12l-50 43m21-13l50-42m21-13l-50 43m21-12l49-43m21-12l-49 43m20-12l50-43m21-12l-50 43m21-12l50-43m21-12l-50 43m21-12l50-43m21-12l-50 43m21-12l50-43m21-11l-50 43m20-12l50-43m21-12l-50 43m21-11l50-43m21-12l-50 43m21-11l50-43m21-12l-50 44m21-12l50-43m21-11l-50 43m21-11l50-44m21-11l-51 43m21-11l51-43m21-11l-51 43m21-11l51-43m21-11l-51 43m21-11l50-43m21-11l-50 43m21-10l50-44m21-11l-50 44m21-11l50-43m21-11l-51 43m21-10l51-44m21-10l-51 43m21-10l51-44m21-10l-51 43m21-10l51-44m21-10l-51 43m21-10l51-44m21-10l-51 44m20-11l51-43m21-10l-51 43m21-10l51-44m21-10l-51 44m21-10l51-44m21-10l-51 44m21-10l51-44"/>
<path fill="#00491e" d="M3764 4275l52-44 68-30-52 45z"/>
<path fill="#00451c" d="M3701 4306l52-45 68-30-51 45z"/>
<path fill="#00401a" d="M3639 4337l51-45 69-30-52 44z"/>
<path fill="#003b18" d="M3576 4368l51-44 69-31-52 44z"/>
<path fill="#003616" d="M3513 4400l51-44 69-32-51 44z"/>
<path fill="#003114" d="M3450 4432l51-44 69-32-51 44z"/>
<path fill="#002b12" d="M3388 4465l50-44 69-33-51 44z"/>
<path fill="#00250f" d="M3325 4498l50-43 69-34-50 44z"/>
<path fill="#001f0c" d="M3262 4532l50-44 69-34-50 44z"/>
<path fill="#00170a" d="M3199 4566l50-43 69-35-50 43z"/>
<path fill="#001006" d="M3136 4600l51-43 69-35-51 43z"/>
<path fill="#000703" d="M3074 4635l50-42 69-36-50 42z"/>
<path fill="#000000" d="M3011 4671l50-43 69-36-50 42zM2948 4707l50-42 69-37-50 42zM2886 4743l49-42 69-37-49 42zM2823 4780l49-41 70-39-50 42zM2760 4818l50-42 69-39-50 42zM2698 4856l49-41 69-40-49 41zM2635 4894l50-40 69-41-50 41zM2573 4933l49-40 69-41-49 40zM2511 4973l49-40 68-42-49 40zM2448 5013l49-40 69-43-49 41z"/>
<path class="m" d="M2451 5011l63-40 62-40 62-39 63-38 62-38 63-38 63-37 62-36 63-36 63-36 62-35 63-34 63-34 63-34 63-33 62-33 63-32 63-32 63-31 62-31 63-31 63-30m-1354 748l62-40 63-39 62-39 63-39 62-38 63-38 63-37 62-36 63-36 63-36 63-35 62-35 63-34 63-33 63-34 63-32 63-33 62-31 63-32 63-31 63-30 63-30m-1405 788l50-38m21-14l-50 39m21-14l49-38m21-14l-49 39m20-13l50-39m21-13l-50 39m21-14l50-38m20-13l-49 38m21-13l49-38m21-13l-50 38m21-12l50-39m21-13l-50 39m21-13l50-39m21-13l-50 39m21-13l49-38m21-13l-50 39m21-13l50-39m21-12l-50 39m21-13l50-39m21-12l-50 39m21-12l50-40m21-12l-50 39m20-12l51-39m20-12l-50 39m21-12l50-39m21-13l-50 40m21-12l50-40m21-12l-50 40m21-12l50-39m21-12l-50 39m21-12l50-39m21-12l-50 40m20-12l51-40m21-11l-51 39m21-11l51-40m21-11l-51 39m21-11l51-40m21-11l-51 39m21-11l51-40m21-11l-51 40m21-12l51-39m20-12l-50 40m21-11l50-40m21-11l-50 40m21-11l50-40m21-11l-50 40m20-11l51-40m21-11l-51 40m21-11l51-40m21-11l-51 40m21-10l51-40m21-11l-51 40m21-11l51-40m21-10l-51 40m21-11l51-40m21-11l-51 41m21-11l51-40m21-10l-51 40m21-11l51-40m21-10l-51 40m20-10l52-40m21-11l-52 41m21-11l52-40m21-10l-52 40m21-10l51-40m21-10l-51 40m21-10l51-40"/>
<path fill="#001e0b" d="M3815 4235l52-41 69-30-52 41z"/>
<path fill="#001709" d="M3753 4265l51-40 69-31-51 41z"/>
<path fill="#001006" d="M3690 4296l51-40 69-31-51 40z"/>
<path fill="#000803" d="M3627 4328l51-40 69-32-51 40z"/>
<path fill="#000000" d="M3564 4360l51-40 69-32-51 39zM3501 4392l51-39 69-33-51 39zM3438 4425l51-39 69-34-50 39zM3375 4458l51-39 69-34-50 39zM3313 4492l50-39 69-35-50 39zM3250 4526l50-38 69-36-50 38zM3187 4561l50-39 70-36-51 38zM3124 4596l50-38 70-37-51 38zM3061 4631l50-37 70-38-51 38zM2998 4667l50-37 70-38-50 37zM2936 4704l50-37 69-39-50 37zM2873 4741l50-37 69-39-50 37zM2810 4779l50-37 69-40-50 37zM2748 4817l49-36 70-41-50 36zM2685 4856l50-36 69-42-50 36zM2623 4895l49-36 69-42-50 36zM2560 4934l50-35 69-43-50 36zM2498 4975l49-36 69-43-50 35z"/>
<path class="m" d="M2501 4973l62-41 63-39 62-39 63-39 62-38 63-38 63-37 62-36 63-37 63-35 63-35 63-35 63-34 62-34 63-33 63-33 63-32 63-32 63-31 63-31 63-31 62-30m-1355 752l62-40 63-40 62-39 63-39 62-38 63-38 63-37 63-37 62-36 63-35 63-36 63-34 63-35 63-33 63-34 63-32 63-33 63-32 63-31 62-31 63-31 63-30m-1406 789l50-35m20-13l-49 34m20-13l50-35m21-13l-50 34m21-13l50-35m21-13l-50 35m21-13l50-35m20-13l-50 35m21-13l50-35m21-13l-50 35m21-13l50-35m21-13l-50 35m21-13l50-35m21-13l-50 35m20-12l51-36m21-12l-51 35m21-13l51-35m20-13l-50 36m21-13l50-35m21-13l-50 36m21-13l50-35m21-12l-50 35m21-12l50-36m21-12l-51 36m21-12l51-36m21-12l-51 35m21-12l51-35m21-12l-51 35m21-11l51-36m21-12l-51 36m21-12l51-36m21-12l-51 36m21-12l51-35m21-12l-51 36m21-12l51-36m21-11l-51 36m21-12l51-36m21-11l-51 36m21-12l51-36m21-11l-51 36m21-11l50-36m21-12l-51 36m21-11l51-36m21-11l-51 36m21-11l51-36m21-11l-51 36m21-11l51-36m21-11l-51 36m21-11l51-36m21-11l-51 36m21-10l51-37m21-11l-51 37m21-11l51-36m21-11l-51 37m21-11l51-37m21-10l-51 36m21-10l51-37m21-10l-51 37m21-11l51-37m21-10l-51 37m21-10l51-37m21-10l-51 36m21-10l51-37m21-10l-51 37m20-10l52-37m21-10l-52 37m21-10l52-37"/>
<path fill="#000000" d="M3867 4198l51-36 70-31-52 36zM3804 4229l51-36 70-32-52 36zM3741 4260l51-36 70-32-51 35zM3678 4291l51-35 70-33-51 35zM3615 4323l51-35 70-33-51 35zM3552 4356l51-35 70-34-51 35zM3489 4388l51-34 70-35-51 35zM3426 4422l51-34 70-36-51 34zM3363 4456l51-34 70-36-51 34zM3301 4490l50-34 70-36-51 33zM3238 4525l50-34 70-37-51 33zM3175 4560l50-33 70-38-51 33zM3112 4596l50-33 70-39-51 33zM3049 4632l51-33 69-39-51 33zM2986 4668l51-32 69-40-51 33zM2923 4706l51-32 69-41-51 32zM2861 4743l50-31 69-42-51 32zM2798 4782l51-32 68-42-50 32zM2735 4820l51-31 69-42-51 31zM2673 4860l50-31 69-44-51 32zM2610 4900l51-31 68-44-51 31zM2548 4940l50-31 69-44-51 31z"/>
<path class="m" d="M2551 4938l62-40 63-40 62-39 63-39 63-38 62-38 63-37 63-37 63-36 63-36 63-35 63-35 63-34 62-34 63-33 63-33 63-33 63-32 63-31 63-31 63-31 63-30m-1357 756l62-40 63-40 62-40 63-38 63-39 63-37 63-38 62-36 63-37 63-35 63-36 63-35 63-34 63-34 63-33 63-33 63-32 63-33 63-31 63-31 63-31 63-30m-1408 789l50-31m21-13l-51 31m21-14l51-31m21-13l-51 31m21-14l50-31m21-13l-50 31m21-13l50-31m21-13l-51 31m21-13l51-32m21-13l-51 32m21-13l51-32m21-13l-51 32m21-13l51-32m20-12l-50 31m21-13l50-31m21-13l-50 32m21-13l50-32m21-12l-51 31m21-12l51-32m21-12l-51 31m21-12l51-32m21-12l-51 32m21-13l51-31m21-13l-51 32m21-12l51-32m21-12l-51 32m21-12l51-32m21-12l-51 32m21-12l51-32m21-12l-51 32m21-12l51-32m21-12l-51 32m21-11l51-33m21-11l-51 32m21-12l51-32m21-12l-51 33m21-12l51-32m21-12l-51 33m21-12l51-32m21-12l-51 33m20-11l52-33m21-11l-52 32m21-11l52-33m21-11l-52 33m21-11l52-33m21-11l-52 33m21-11l52-33m21-11l-52 33m21-11l52-33m21-11l-52 33m21-11l52-33m21-11l-52 33m21-10l52-33m21-11l-52 33m21-11l52-33m21-10l-52 33m21-11l52-33m21-10l-52 33m21-11l52-33m21-10l-52 33m21-10l52-33m21-11l-52 34m21-11l52-33m21-10l-52 33m21-10l52-33m21-10l-52 33m21-10l52-33"/>
<path fill="#000000" d="M3919 4164l51-31 70-32-52 31zM3856 4195l51-31 70-33-52 32zM3793 4226l51-30 70-34-52 31zM3730 4258l51-30 70-34-52 30zM3667 4290l51-30 70-35-52 31zM3604 4323l51-30 70-35-52 30zM3541 4356l51-30 70-36-52 30zM3478 4389l51-29 69-37-51 30zM3415 4423l51-29 69-37-51 29zM3352 4457l51-28 69-38-51 29zM3289 4492l51-28 69-39-51 29zM3226 4528l51-29 69-39-51 29zM3163 4563l51-28 69-39-51 28zM3100 4600l51-28 69-40-51 28zM3037 4637l51-28 69-41-51 28zM2974 4674l52-27 68-42-51 28zM2911 4712l52-27 68-42-51 27zM2849 4750l51-27 68-42-51 27zM2786 4789l51-27 69-43-52 27zM2723 4829l52-27 68-44-52 27zM2661 4868l51-26 68-44-51 26zM2598 4909l52-26 67-45-51 26z"/>
<path class="m" d="M2601 4907l63-40 62-40 63-40 63-39 62-38 63-38 63-37 63-37 63-36 63-36 63-35 63-35 63-35 63-34 63-33 63-33 63-33 63-32 63-31 63-31 63-31 63-30m-1359 760l63-40 63-40 62-40 63-39 63-38 63-38 63-38 62-36 63-37 63-36 63-35 63-35 63-35 64-33 63-34 63-33 63-33 63-32 63-31 63-32 63-30 63-31m-1410 790l51-27m21-13l-51 27m21-14l51-27m20-13l-50 27m20-14l51-27m21-13l-51 27m21-13l51-28m21-13l-51 28m21-14l51-27m21-13l-51 27m21-13l51-27m21-13l-51 27m21-13l51-27m21-13l-52 28m21-13l51-28m21-13l-51 28m21-13l51-27m21-13l-51 28m21-13l51-28m21-12l-51 28m21-13l51-28m21-12l-51 28m21-12l51-28m21-13l-51 28m21-12l51-28m21-12l-51 28m21-12l51-28m21-13l-51 29m21-12l51-29m21-12l-51 29m21-12l51-29m21-11l-51 28m21-12l51-28m21-12l-51 29m21-12l51-29m21-11l-51 28m21-11l51-29m21-12l-51 29m21-11l51-29m21-11l-51 28m21-11l51-29m21-11l-51 29m21-12l51-28m21-12l-51 29m21-11l51-29m21-11l-51 29m21-11l51-29m21-11l-51 29m21-11l51-29m21-11l-51 29m21-11l51-29m21-11l-51 29m21-10l52-30m21-10l-52 29m21-11l52-29m21-11l-52 30m21-11l52-29m21-11l-52 30m21-11l52-29m21-11l-52 30m21-10l52-30m21-10l-52 29m21-10l52-30m21-10l-52 30m21-10l52-30m21-10l-52 30m21-10l52-30"/>
<path fill="#000000" d="M3970 4135l52-27 70-33-52 26zM3907 4166l52-27 70-34-52 27zM3844 4197l52-26 70-35-52 26zM3781 4229l52-26 70-35-52 26zM3718 4261l52-26 70-35-52 25zM3655 4293l52-25 69-36-52 25zM3592 4327l52-25 69-37-52 25zM3529 4360l52-25 69-37-52 25zM3466 4394l52-24 69-38-52 24zM3403 4429l52-25 69-38-52 24zM3340 4464l52-24 69-40-52 25zM3277 4499l52-24 69-39-52 24zM3214 4535l52-24 69-40-52 24zM3151 4572l52-24 69-41-52 24zM3088 4609l52-24 69-41-52 23zM3025 4646l53-23 68-42-53 23zM2962 4684l53-23 68-42-52 23zM2900 4723l52-23 68-43-52 23zM2837 4762l52-23 68-44-52 23zM2774 4801l52-22 68-44-52 22zM2711 4841l53-22 68-45-53 23zM2649 4882l52-22 68-46-53 23z"/>
<path class="m" d="M2652 4880l62-40 63-41 63-39 63-39 62-39 63-38 63-37 63-37 63-37 63-36 63-35 63-35 63-34 63-34 63-34 63-33 63-33 64-32 63-32 63-31 63-31 63-30m-1360 765l63-41 63-40 62-39 63-40 63-38 63-38 63-38 63-37 63-36 63-36 63-36 63-35 63-34 63-35 63-33 63-33 63-33 63-32 64-32 63-32 63-30 63-31m-1411 791l51-23m21-14l-51 24m21-14l51-23m21-14l-52 24m21-14l52-23m21-14l-52 24m21-14l51-23m21-13l-51 23m21-13l51-24m21-13l-51 24m21-13l51-24m21-13l-51 24m21-13l51-24m21-13l-51 24m20-13l52-24m21-13l-52 24m21-12l52-24m21-13l-52 24m21-13l52-24m21-12l-52 24m21-13l52-24m21-12l-52 24m21-12l52-25m21-12l-52 24m21-12l52-24m21-13l-52 25m21-12l52-25m21-12l-52 24m21-12l52-24m21-12l-52 24m21-12l52-24m21-12l-52 25m21-12l52-25m21-12l-52 25m21-12l52-25m21-11l-52 25m21-12l52-25m21-12l-52 25m21-11l52-25m21-12l-52 26m21-12l52-25m21-11l-52 25m21-11l52-26m21-11l-52 25m21-11l52-25m21-11l-52 25m21-11l52-26m21-11l-52 26m21-11l52-26m21-11l-52 26m21-11l52-26m21-10l-52 25m22-11l51-25m21-11l-51 26m21-11l51-26m21-10l-51 25m21-10l51-26m21-11l-51 26m21-10l51-26m22-11l-52 26m21-10l52-26m21-11l-52 27m21-11l52-26m21-10l-52 26m21-10l52-26m21-11l-52 27m21-10l52-27"/>
<path fill="#000000" d="M4022 4108l53-22 69-34-53 22zM3959 4139l53-21 69-35-53 22zM3896 4171l53-22 69-35-53 22zM3833 4203l53-22 69-36-53 22zM3770 4235l53-21 69-37-53 22zM3707 4268l53-21 68-37-52 21zM3644 4301l53-21 68-37-52 21zM3581 4335l53-21 68-38-52 21zM3518 4369l53-20 68-39-53 21zM3455 4404l53-21 68-39-53 21zM3392 4439l53-20 68-40-53 20zM3329 4474l53-19 68-40-53 19zM3266 4510l53-19 68-41-53 20zM3203 4547l53-19 68-41-53 19zM3140 4584l53-19 68-42-53 20zM3077 4622l53-19 68-42-53 19zM3014 4660l53-19 68-43-53 19zM2951 4699l53-19 68-43-53 18zM2888 4738l53-19 68-44-53 19zM2825 4778l53-19 68-44-53 18zM2763 4818l53-18 67-45-53 18zM2700 4859l53-18 67-46-53 18z"/>
<path class="m" d="M2703 4857l63-41 62-40 63-40 63-39 63-39 63-38 63-37 63-37 63-37 63-36 63-36 63-35 63-35 63-34 63-33 63-34 63-32 63-33 63-32 64-31 63-31 63-31m-1360 771l63-41 62-40 63-40 63-39 63-39 63-38 63-38 63-37 63-37 63-36 63-36 63-35 63-35 63-34 63-34 63-33 63-33 63-32 63-32 64-32 63-31 63-31m-1412 793l52-19m21-14l-52 19m21-13l52-20m20-13l-51 19m21-13l51-20m21-13l-51 19m20-13l52-20m21-13l-52 20m21-14l52-19m21-14l-52 20m21-13l52-20m21-13l-52 20m21-13l52-20m21-13l-52 20m21-13l52-20m21-13l-52 20m21-12l52-21m21-12l-52 20m21-13l52-20m21-13l-52 21m21-13l52-20m21-13l-52 21m21-13l52-20m21-13l-52 21m21-12l52-21m21-12l-52 20m21-12l52-21m21-12l-52 21m21-12l52-21m21-12l-52 21m21-12l52-21m21-12l-52 21m21-12l52-21m21-12l-52 21m21-12l52-21m21-12l-52 22m21-12l52-21m21-12l-52 21m21-11l52-21m21-12l-52 21m21-11l52-22m21-11l-52 22m21-12l52-21m21-12l-52 22m21-11l52-22m21-11l-52 22m21-12l52-21m21-12l-52 22m21-11l52-22m21-11l-52 22m21-11l52-22m21-11l-52 23m21-11l52-22m21-11l-52 22m21-11l52-22m21-11l-52 23m21-11l52-22m22-11l-53 22m21-10l53-23m21-10l-52 22m21-10l52-23m21-10l-52 22m21-10l52-22m21-11l-52 23m21-10l52-23m21-10l-52 22m21-10l52-22"/>
<path fill="#000000" d="M4074 4086l53-18 69-35-53 18zM4011 4117l53-18 69-35-53 18zM3948 4148l53-17 69-36-53 18zM3885 4180l53-17 69-36-53 17zM3822 4213l53-17 69-37-53 17zM3759 4246l53-17 69-37-54 17zM3696 4279l53-16 69-38-54 17zM3633 4313l53-16 68-39-53 17zM3570 4347l53-16 68-39-53 17zM3507 4382l53-16 68-39-53 16zM3444 4418l53-16 68-40-53 16zM3380 4453l54-15 68-41-54 16zM3317 4490l54-16 68-41-54 16zM3254 4526l54-15 68-41-54 15zM3191 4564l54-15 68-42-54 15zM3128 4601l54-14 68-43-54 15zM3065 4640l54-15 68-43-54 15zM3003 4679l53-15 68-44-54 15zM2940 4718l53-14 68-45-54 15zM2877 4758l54-14 67-45-54 14zM2814 4798l54-14 67-45-53 14zM2752 4839l53-13 68-46-54 14z"/>
<path class="m" d="M2755 4838l62-41 63-41 63-40 63-39 63-39 63-38 63-38 63-37 63-37 63-36 63-36 63-35 63-35 63-34 63-34 63-34 63-33 63-32 64-32 63-32 63-31 63-30m-1360 776l62-42 63-40 63-40 63-39 63-39 63-39 63-38 63-37 63-37 63-36 63-36 63-35 63-35 63-35 63-34 63-33 63-33 63-33 64-32 63-31 63-32 63-30m-1412 794l52-16m21-13l-52 15m21-14l51-15m21-14l-52 16m21-14l52-15m21-14l-52 16m21-14l52-15m21-14l-52 16m21-13l52-16m21-13l-52 15m21-13l52-16m21-13l-52 16m21-13l52-16m21-13l-52 16m21-13l52-16m21-13l-52 16m21-13l52-16m21-13l-52 17m21-13l52-17m21-12l-52 16m21-12l52-17m21-13l-52 17m21-12l52-17m21-13l-52 17m21-12l52-17m21-12l-52 17m21-13l52-17m21-12l-52 17m21-12l52-17m21-12l-52 17m21-12l52-17m21-12l-52 17m21-12l52-17m21-12l-52 17m21-12l52-17m21-12l-52 17m21-11l52-18m21-11l-52 17m21-11l52-18m21-12l-52 18m21-12l52-17m21-12l-52 18m21-11l52-18m21-12l-52 18m21-11l52-18m21-11l-52 18m21-11l52-18m21-12l-52 18m21-11l52-18m21-11l-52 18m21-11l52-18m21-11l-52 18m21-10l52-19m22-11l-53 19m21-11l53-19m21-10l-53 18m21-10l53-19m21-11l-52 19m21-11l52-18m21-11l-52 19m21-11l52-18m21-11l-52 19m21-10l52-19m21-11l-52 19m21-10l52-19m21-10l-52 19m21-10l52-20"/>
<path fill="#000000" d="M4126 4067l54-14 68-35-53 14zM4063 4098l54-14 68-35-53 13zM4000 4130l54-14 68-36-53 14zM3937 4162l54-13 68-37-54 13zM3874 4194l54-13 68-37-54 13zM3811 4228l54-13 68-38-54 13zM3748 4261l54-13 68-38-54 13zM3685 4295l54-12 68-39-54 13zM3622 4330l54-13 68-39-54 13zM3559 4365l54-12 67-40-53 12zM3496 4400l53-12 68-40-54 12zM3432 4436l54-12 68-40-54 12zM3369 4472l54-11 68-41-54 11zM3306 4509l54-11 68-41-54 11zM3243 4547l54-11 68-42-54 11z"/>
<path fill="#050100" d="M3180 4585l55-11 67-43-54 11z"/>
<path fill="#0e0201" d="M3117 4623l55-10 67-44-54 11z"/>
<path fill="#180301" d="M3055 4662l54-10 67-44-54 11z"/>
<path fill="#210501" d="M2992 4702l54-10 67-45-54 11z"/>
<path fill="#2a0702" d="M2929 4742l54-10 67-45-54 10z"/>
<path fill="#320a03" d="M2866 4783l55-10 67-46-55 10z"/>
<path fill="#3b0d03" d="M2804 4824l54-10 67-46-54 10z"/>
<path class="m" d="M2807 4822l62-41 63-40 63-40 63-40 63-39 63-39 63-38 63-37 63-37 63-36 63-36 63-36 63-35 63-34 63-34 63-34 63-33 64-33 63-32 63-31 63-32 63-31m-1360 782l63-41 62-41 63-40 63-40 63-39 63-38 63-38 63-38 63-37 63-37 63-36 63-35 63-35 63-35 63-34 63-34 64-33 63-32 63-33 63-32 63-31 63-31m-1412 796l52-11m21-14l-52 12m20-14l53-12m21-13l-53 11m21-13l53-12m21-14l-53 12m21-13l52-12m21-14l-52 12m21-13l52-12m21-13l-52 12m21-14l52-12m21-13l-52 12m21-13l52-12m21-13l-52 12m21-13l52-12m21-13l-52 12m21-13l52-12m21-13l-52 12m21-13l52-12m21-13l-52 13m21-13l52-13m21-12l-52 12m21-12l52-13m21-12l-52 12m21-12l52-13m21-12l-52 13m21-13l52-13m21-12l-52 13m21-12l52-13m21-13l-52 14m21-12l52-14m21-12l-52 14m21-12l52-14m21-12l-52 14m21-12l52-14m21-12l-52 14m21-12l52-14m21-11l-52 14m21-12l52-14m21-12l-52 14m21-11l52-14m21-12l-52 14m21-11l52-14m21-12l-52 14m21-11l52-14m21-12l-52 15m21-11l52-15m22-11l-53 14m21-11l53-14m21-11l-53 14m21-11l53-15m21-11l-53 15m21-11l53-15m21-10l-52 14m21-11l52-14m21-11l-52 15m21-11l52-15m21-11l-52 15m21-10l52-15m21-11l-52 15m21-10l52-16m21-10l-52 15m21-10l52-16m21-10l-52 15m21-10l52-16m21-10l-52 16m21-11l52-15"/>
<path fill="#000000" d="M4179 4051l53-10 68-35-53 10zM4116 4083l53-10 68-36-53 10zM4053 4114l53-9 68-36-54 9zM3989 4147l54-9 68-37-54 9zM3926 4180l54-9 68-38-54 9zM3863 4213l54-9 68-38-54 9zM3800 4247l54-9 68-38-54 9z"/>
<path fill="#020000" d="M3737 4281l54-9 68-38-54 8z"/>
<path fill="#0b0000" d="M3674 4316l54-9 68-39-54 8z"/>
<path fill="#130101" d="M3611 4351l54-8 68-40-54 8z"/>
<path fill="#1b0101" d="M3548 4386l54-7 68-41-55 8z"/>
<path fill="#230201" d="M3485 4423l54-8 68-41-55 8z"/>
<path fill="#2a0202" d="M3422 4459l54-7 68-42-55 8z"/>
<path fill="#310202" d="M3359 4496l54-7 68-42-55 8z"/>
<path fill="#380302" d="M3296 4534l54-7 68-42-55 7z"/>
<path fill="#3f0402" d="M3233 4572l54-7 68-43-55 7z"/>
<path fill="#460503" d="M3170 4611l54-7 68-43-55 7z"/>
<path fill="#4d0603" d="M3107 4650l54-6 68-44-55 6z"/>
<path fill="#530703" d="M3044 4690l55-6 67-45-55 6z"/>
<path fill="#5a0904" d="M2981 4730l55-6 67-45-55 6z"/>
<path fill="#610b04" d="M2918 4771l55-6 67-45-55 5z"/>
<path fill="#670d04" d="M2856 4812l55-5 66-46-54 5z"/>
<path class="m" d="M2859 4811l63-41 62-41 63-40 63-40 63-39 63-39 63-38 63-38 63-37 63-37 63-36 63-36 63-35 63-34 63-35 64-33 63-34 63-32 63-33 63-32 63-31 63-31m-1360 788l63-42 63-41 62-40 63-40 63-39 63-39 63-38 63-38 63-37 63-37 63-36 63-36 63-35 63-35 64-34 63-34 63-34 63-32 63-33 63-32 63-31 63-32m-1412 799l53-7m20-14l-52 7m21-14l52-7m21-14l-52 8m21-14l52-8m21-13l-52 7m20-13l53-8m21-14l-53 8m21-13l53-8m21-14l-53 9m21-14l53-8m21-13l-53 8m21-13l53-8m21-14l-53 9m21-13l53-9m20-13l-52 9m21-13l52-9m21-13l-52 9m21-13l52-9m21-13l-52 9m21-13l52-8m21-13l-52 9m21-13l52-9m21-13l-52 10m21-13l52-9m21-13l-52 10m21-13l52-9m21-12l-52 9m21-12l52-10m21-12l-52 9m21-12l52-9m21-12l-52 9m21-12l52-10m21-12l-52 10m21-12l52-10m21-12l-52 10m21-12l53-9m21-12l-53 10m21-12l53-10m21-12l-53 10m21-11l53-11m21-11l-53 10m21-11l53-11m21-11l-53 10m21-11l53-11m21-11l-53 10m21-11l53-10m21-12l-52 11m21-11l52-11m21-11l-52 11m21-12l52-10m21-12l-52 11m21-11l52-11m21-11l-52 12m21-11l52-12m21-10l-52 11m21-11l52-11m21-11l-52 11m21-10l52-12m21-11l-52 12m21-11l52-11m21-11l-52 12m21-11l52-11m21-11l-52 12m21-11l52-11m21-11l-52 12m21-10l52-12"/>
<path fill="#0a0000" d="M4231 4039l54-6 67-35-54 6z"/>
<path fill="#120101" d="M4168 4071l54-6 67-36-54 6z"/>
<path fill="#1a0101" d="M4105 4103l54-5 67-37-54 6z"/>
<path fill="#210101" d="M4042 4136l54-6 67-37-54 6z"/>
<path fill="#280202" d="M3979 4169l54-5 67-38-54 5z"/>
<path fill="#2f0202" d="M3916 4202l54-5 67-38-54 5z"/>
<path fill="#350202" d="M3852 4236l55-5 67-38-54 5z"/>
<path fill="#3c0302" d="M3789 4270l55-4 67-39-54 5z"/>
<path fill="#420303" d="M3726 4305l55-4 67-39-54 4z"/>
<path fill="#470303" d="M3663 4341l55-4 67-40-54 4z"/>
<path fill="#4d0303" d="M3600 4377l55-4 67-41-54 4z"/>
<path fill="#520403" d="M3537 4413l55-4 67-41-54 4z"/>
<path fill="#570403" d="M3474 4450l55-4 67-41-55 3z"/>
<path fill="#5d0404" d="M3411 4487l55-3 67-42-55 3z"/>
<path fill="#610404" d="M3348 4525l55-3 67-43-55 4z"/>
<path fill="#660504" d="M3285 4563l55-2 67-43-55 2z"/>
<path fill="#6b0504" d="M3222 4602l55-2 67-44-55 3z"/>
<path fill="#6f0504" d="M3159 4642l55-2 67-45-55 3z"/>
<path fill="#740504" d="M3097 4682l55-2 67-45-55 2z"/>
<path fill="#790705" d="M3034 4722l55-1 67-46-55 2z"/>
<path fill="#7e0805" d="M2971 4763l55-1 67-46-55 2z"/>
<path fill="#840b05" d="M2908 4805l56-1 66-47-55 2z"/>
<path class="m" d="M2912 4804l62-42 63-41 63-41 63-39 62-40 63-39 63-38 63-38 63-37 63-37 63-37 64-35 63-36 63-35 63-34 63-34 63-34 63-33 63-32 63-32 63-32 63-31m-1359 794l63-41 62-41 63-41 63-40 63-40 63-39 63-38 63-38 63-38 63-37 63-36 63-36 63-35 63-35 63-35 63-34 63-34 63-33 63-32 63-33 63-31 63-32m-1411 802l52-4m21-14l-53 4m21-14l53-4m21-14l-53 4m21-14l53-3m21-14l-53 4m21-14l53-4m21-13l-53 3m21-13l53-4m21-14l-53 4m21-13l52-4m21-13l-52 4m21-13l52-5m21-13l-52 4m21-13l52-4m21-13l-53 4m21-13l53-5m21-13l-53 5m21-13l53-5m21-13l-53 5m21-12l53-5m21-13l-53 5m21-13l53-5m21-13l-53 5m21-12l53-5m21-13l-53 5m21-12l53-5m21-13l-53 6m21-13l53-5m21-13l-53 6m21-12l53-6m21-12l-53 6m21-13l53-5m21-13l-53 6m21-12l53-6m21-12l-53 6m22-11l52-7m21-12l-52 7m21-12l52-6m21-12l-52 6m21-12l52-6m21-12l-52 7m21-12l52-6m21-12l-52 7m21-12l52-6m21-12l-52 7m21-11l52-7m21-12l-52 7m21-11l52-7m21-11l-52 7m21-11l52-8m21-11l-52 7m21-11l52-7m21-11l-52 7m21-11l52-7m21-11l-52 8m21-11l52-8m21-11l-52 8m21-11l52-7m21-11l-52 7m21-10l52-8m21-11l-52 8m21-10l52-8m21-11l-52 8m21-10l52-8m21-11l-52 8m21-10l52-8"/>
<path fill="#400302" d="M4283 4031l54-2 67-36-54 2z"/>
<path fill="#450303" d="M4220 4063l54-2 68-36-55 2z"/>
<path fill="#4b0303" d="M4157 4095l54-1 68-37-55 2z"/>
<path fill="#500303" d="M4094 4128l54-1 68-38-55 2z"/>
<path fill="#550303" d="M4031 4161l54-1 68-38-55 2z"/>
<path fill="#590403" d="M3968 4195l54-1 68-38-55 1z"/>
<path fill="#5e0404" d="M3905 4229l54-1 68-38-55 1z"/>
<path fill="#620404" d="M3842 4264l54-1 68-39-55 1z"/>
<path fill="#670404" d="M3779 4299l54 0 68-40-55 0z"/>
<path fill="#6b0404" d="M3716 4334l54 0 68-40-55 0z"/>
<path fill="#6f0504" d="M3653 4371l55 0 67-41-55 0z"/>
<path fill="#730504" d="M3590 4407l55 1 67-42-55 0z"/>
<path fill="#770505" d="M3527 4444l55 1 67-42-55 0z"/>
<path fill="#7b0505" d="M3464 4482l55 1 67-43-55 0z"/>
<path fill="#7f0505" d="M3401 4520l55 1 67-43-55-1z"/>
<path fill="#820605" d="M3338 4559l55 1 67-43-55-2z"/>
<path fill="#860605" d="M3275 4598l55 1 67-44-55-1z"/>
<path fill="#8a0605" d="M3212 4637l55 2 67-44-55-2z"/>
<path fill="#8d0605" d="M3149 4678l56 2 67-45-56-2z"/>
<path fill="#910706" d="M3086 4718l56 3 67-46-56-2z"/>
<path fill="#940706" d="M3024 4760l55 2 67-46-55-2z"/>
<path fill="#980706" d="M2961 4801l56 3 66-46-55-3z"/>
<path class="m" d="M2964 4800l63-42 63-41 63-41 62-40 63-39 63-40 63-38 63-38 63-38 63-37 63-37 63-36 63-35 63-35 63-35 63-34 63-34 63-33 63-33 63-32 63-32 63-31m-1358 801l63-42 62-41 63-41 63-40 63-40 62-40 63-38 63-38 63-38 63-37 63-37 63-36 63-36 63-35 63-35 63-34 63-34 63-33 63-33 63-32 63-32 63-32m-1411 804l53 1m21-14l-53-1m21-14l53 1m21-14l-53-1m21-13l53 0m21-14l-53 0m21-14l53 0m21-13l-53 0m21-14l53 0m20-14l-52 0m20-13l53 0m21-14l-53 1m21-14l53 0m21-14l-53 1m21-13l53-1m21-13l-53 1m21-14l53 0m21-13l-53 0m21-13l53 0m21-13l-53 0m21-12l53-1m21-13l-53 1m21-13l53-1m21-13l-53 1m21-12l53-2m21-12l-53 1m21-12l53-2m21-12l-53 1m21-12l53-2m21-12l-53 1m21-12l53-2m21-12l-53 2m21-12l53-2m21-13l-53 2m21-12l53-2m21-12l-53 2m21-12l53-2m21-12l-53 2m21-11l53-3m20-12l-52 3m21-12l52-3m21-11l-52 2m21-11l52-3m21-12l-52 3m21-11l52-3m21-12l-52 3m21-11l52-3m21-12l-52 3m21-11l52-3m21-12l-52 4m21-12l52-3m21-11l-52 3m21-11l52-3m21-11l-52 3m21-11l52-4m21-11l-52 4m21-11l52-4m21-11l-52 4m21-10l52-4m21-11l-52 4m21-11l52-4m21-11l-52 4m21-10l52-5m21-10l-52 4m21-10l52-5m21-10l-52 4m21-10l52-5"/>
<path fill="#650404" d="M4335 4027l54 2 67-37-54-1z"/>
<path fill="#690404" d="M4272 4059l54 2 68-37-55-1z"/>
<path fill="#6d0404" d="M4209 4091l54 3 68-37-55-2z"/>
<path fill="#700404" d="M4146 4124l55 3 67-38-55-2z"/>
<path fill="#740404" d="M4083 4158l55 3 67-38-55-3z"/>
<path fill="#770505" d="M4020 4192l55 3 67-39-55-2z"/>
<path fill="#7b0505" d="M3957 4226l55 3 67-39-55-3z"/>
<path fill="#7e0505" d="M3894 4261l55 3 67-39-55-3z"/>
<path fill="#810505" d="M3831 4296l55 4 67-40-55-3z"/>
<path fill="#850505" d="M3768 4332l55 4 67-40-55-4z"/>
<path fill="#880505" d="M3705 4368l55 5 67-41-55-4z"/>
<path fill="#8b0505" d="M3642 4405l55 5 68-42-56-4z"/>
<path fill="#8e0606" d="M3579 4443l55 4 68-42-56-4z"/>
<path fill="#910606" d="M3516 4480l56 5 67-42-56-5z"/>
<path fill="#940606" d="M3453 4519l56 5 67-43-56-5z"/>
<path fill="#970606" d="M3391 4558l55 5 67-43-55-6z"/>
<path fill="#9a0606" d="M3328 4597l55 6 67-44-55-6z"/>
<path fill="#9d0706" d="M3265 4637l55 6 67-45-55-5z"/>
<path fill="#a00706" d="M3202 4677l56 7 67-46-56-6z"/>
<path fill="#a30706" d="M3139 4718l56 7 67-46-56-6z"/>
<path fill="#a60706" d="M3077 4760l56 7 66-47-56-6z"/>
<path fill="#a90806" d="M3014 4802l56 7 67-47-56-7z"/>
<path class="m" d="M3017 4801l63-42 63-42 62-41 63-40 63-40 63-39 63-39 63-39 63-37 63-38 63-37 63-36 62-36 63-35 63-35 63-34 63-34 63-34 63-33 63-32 63-32 63-32m-1357 809l63-42 62-42 63-41 63-41 62-40 63-39 63-39 63-39 63-38 63-37 63-37 63-37 63-35 63-36 63-35 63-34 63-34 63-34 62-33 63-33 63-32 63-32m-1410 808l54 5m21-14l-54-5m21-14l53 4m21-14l-53-4m21-14l53 4m21-14l-53-4m21-14l53 5m21-14l-53-4m21-14l53 4m21-14l-54-4m21-13l53 4m21-14l-53-4m21-13l53 4m21-14l-53-4m21-13l53 4m21-14l-53-3m21-13l53 3m21-13l-53-3m21-13l53 3m21-13l-53-3m21-13l53 3m21-13l-53-3m21-13l53 3m21-13l-53-3m21-13l52 3m21-13l-52-2m21-13l52 3m21-13l-52-2m21-13l52 2m21-12l-52-2m21-13l52 2m21-12l-52-2m21-12l52 2m21-13l-52-2m21-12l52 2m21-12l-52-2m21-12l52 2m21-12l-52-2m21-12l52 2m21-12l-53-2m21-12l53 2m21-12l-53-1m21-12l53 1m21-12l-53-1m21-11l53 1m21-12l-53-1m21-11l53 0m21-11l-53-1m21-11l53 0m21-11l-53-1m21-11l53 1m21-12l-53 0m21-11l53 0m21-11l-53 0m21-12l53 1m21-12l-53 0m21-11l53 0m21-11l-53 0m21-10l52-1m21-11l-52 1m21-11l52 0m21-11l-52 0m21-11l52 0m21-11l-52 1m21-11l52 0m21-11l-52 1m21-11l52-1"/>
<path fill="#800505" d="M4387 4026l54 6 67-37-54-5z"/>
<path fill="#830505" d="M4324 4058l54 6 68-36-55-6z"/>
<path fill="#850505" d="M4261 4091l55 6 67-37-55-6z"/>
<path fill="#880505" d="M4198 4124l55 7 67-38-55-6z"/>
<path fill="#8b0505" d="M4135 4158l55 7 67-38-54-7z"/>
<path fill="#8e0505" d="M4072 4192l55 7 67-38-54-7z"/>
<path fill="#900505" d="M4009 4227l55 7 67-39-54-7z"/>
<path fill="#930505" d="M3947 4262l54 7 68-39-55-7z"/>
<path fill="#950606" d="M3884 4298l55 7 67-40-55-7z"/>
<path fill="#980606" d="M3821 4334l55 8 67-41-55-8z"/>
<path fill="#9b0606" d="M3758 4370l55 8 67-41-55-8z"/>
<path fill="#9d0606" d="M3695 4407l55 9 67-42-55-8z"/>
<path fill="#a00606" d="M3632 4445l55 9 67-43-55-8z"/>
<path fill="#a20606" d="M3569 4483l56 9 67-43-56-8z"/>
<path fill="#a50606" d="M3506 4522l56 9 67-43-56-9z"/>
<path fill="#a80707" d="M3443 4561l56 9 67-43-56-10z"/>
<path fill="#aa0707" d="M3381 4600l55 10 67-44-56-10z"/>
<path fill="#ad0707" d="M3318 4640l56 11 66-45-55-10z"/>
<path fill="#af0707" d="M3255 4681l56 11 67-46-56-10z"/>
<path fill="#b20707" d="M3192 4722l56 11 67-46-56-10z"/>
<path fill="#b40807" d="M3130 4764l56 11 66-46-55-11z"/>
<path fill="#b70807" d="M3067 4807l56 11 67-47-56-11z"/>
<path class="m" d="M3071 4806l62-43 63-41 63-42 62-40 63-41 63-39 63-39 62-39 63-38 63-38 63-37 63-36 63-36 63-36 63-35 63-35 63-34 63-33 63-34 62-32 63-33 63-32m-1356 817l63-43 62-42 63-41 63-41 63-40 62-40 63-39 63-39 63-38 63-38 62-37 63-37 63-36 63-36 63-35 63-35 63-34 63-34 63-33 62-33 63-33 63-32m-1408 812l53 9m21-15l-53-8m20-15l54 9m21-14l-54-9m21-14l53 9m21-14l-53-9m21-13l53 8m21-14l-53-8m21-14l53 8m21-14l-53-8m20-13l54 8m20-14l-53-8m21-13l53 7m21-13l-53-8m21-13l53 7m21-13l-53-8m21-13l53 7m21-13l-53-7m21-13l53 7m21-13l-53-7m21-13l53 7m21-14l-53-6m21-13l52 6m21-13l-52-6m20-13l53 7m21-13l-53-7m21-12l53 6m21-13l-53-6m21-13l53 7m21-13l-53-6m21-13l53 6m21-12l-53-6m21-12l53 5m21-12l-53-6m21-12l53 6m21-13l-53-5m21-12l53 5m21-12l-53-5m21-12l53 5m21-12l-53-5m21-12l52 5m21-12l-52-5m21-12l52 5m21-12l-52-5m21-11l52 4m21-11l-52-5m21-12l52 5m21-12l-52-4m21-12l52 5m21-12l-52-4m21-11l52 4m21-12l-52-4m21-11l52 4m21-11l-52-4m21-11l52 4m21-12l-52-4m21-11l52 4m21-11l-52-4m20-11l53 4m20-11l-52-4m21-10l52 3m21-11l-52-3m21-11l52 3m21-11l-52-3m21-10l52 3m21-11l-52-3m21-11l52 3"/>
<path fill="#940505" d="M4439 4029l54 10 67-37-54-9z"/>
<path fill="#960505" d="M4376 4062l54 10 67-37-54-10z"/>
<path fill="#980505" d="M4313 4095l55 10 67-37-55-10z"/>
<path fill="#9a0505" d="M4250 4128l55 11 67-38-55-10z"/>
<path fill="#9d0606" d="M4188 4162l54 11 67-38-54-11z"/>
<path fill="#9f0606" d="M4125 4197l54 11 67-39-54-11z"/>
<path fill="#a10606" d="M4062 4232l55 11 67-40-55-11z"/>
<path fill="#a30606" d="M3999 4267l55 11 67-39-55-12z"/>
<path fill="#a50606" d="M3936 4303l55 12 67-41-55-11z"/>
<path fill="#a70606" d="M3873 4339l55 12 67-41-55-11z"/>
<path fill="#aa0606" d="M3810 4376l56 12 67-41-56-12z"/>
<path fill="#ac0606" d="M3748 4413l55 13 67-42-55-12z"/>
<path fill="#ae0606" d="M3685 4451l55 13 67-42-55-13z"/>
<path fill="#b00707" d="M3622 4489l56 14 66-43-55-13z"/>
<path fill="#b20707" d="M3559 4528l56 14 67-44-56-13z"/>
<path fill="#b50707" d="M3496 4568l56 13 67-43-56-14z"/>
<path fill="#b70707" d="M3434 4608l56 14 66-45-56-14z"/>
<path fill="#b90707" d="M3371 4648l56 14 67-45-56-14z"/>
<path fill="#bc0807" d="M3308 4689l56 15 67-46-56-14z"/>
<path fill="#be0807" d="M3246 4731l56 15 66-47-56-14z"/>
<path fill="#c00807" d="M3183 4773l56 15 67-47-56-15z"/>
<path fill="#c30808" d="M3121 4815l56 16 66-47-56-16z"/>
<path class="m" d="M3124 4815l63-43 62-42 63-42 62-41 63-40 63-40 63-40 62-38 63-39 63-38 63-37 63-37 63-36 62-36 63-35 63-35 63-35 63-33 63-34 62-33 63-33 63-32m-1354 825l62-43 63-43 62-41 63-41 63-41 62-40 63-40 63-39 63-38 62-38 63-38 63-37 63-36 63-36 62-35 63-35 63-35 63-34 63-34 62-33 63-33 63-32m-1407 816l54 13m20-15l-53-13m21-14l53 13m21-14l-53-13m20-14l54 12m21-14l-54-12m21-14l53 12m21-14l-53-12m21-14l53 12m21-14l-53-12m21-13l53 12m21-14l-54-12m21-14l54 12m20-14l-53-11m21-14l53 12m21-14l-53-11m21-14l53 12m21-14l-53-11m21-13l53 11m21-13l-53-11m21-13l53 11m21-14l-53-11m20-13l53 11m21-13l-53-11m21-12l53 10m21-13l-53-10m21-13l53 10m21-12l-53-11m21-12l53 10m21-13l-53-10m21-13l53 10m21-12l-53-10m21-13l53 10m20-12l-52-10m21-12l52 9m21-12l-52-10m21-12l52 10m21-13l-52-9m21-12l52 9m21-12l-52-9m20-12l53 9m21-12l-53-9m21-12l53 9m21-12l-53-9m21-12l53 9m21-12l-53-8m21-12l52 9m21-12l-52-9m21-11l52 8m21-11l-52-9m21-11l52 8m21-11l-52-9m21-11l52 8m21-11l-52-8m21-11l52 7m21-11l-52-8m21-11l52 8m21-11l-52-8m21-11l51 7m21-11l-52-7m21-11l52 7m21-11l-52-7m21-11l52 7m21-11l-52-7m21-10l52 7m21-11l-52-7m21-11l52 7"/>
<path fill="#a40606" d="M4490 4036l55 14 66-37-54-13z"/>
<path fill="#a60606" d="M4428 4069l54 14 67-37-54-14z"/>
<path fill="#a70606" d="M4365 4102l55 14 66-37-54-14z"/>
<path fill="#a90606" d="M4302 4136l55 14 67-38-55-14z"/>
<path fill="#ab0606" d="M4240 4170l54 15 67-39-54-14z"/>
<path fill="#ad0606" d="M4177 4205l55 15 67-39-55-15z"/>
<path fill="#ae0606" d="M4114 4240l55 15 67-39-55-15z"/>
<path fill="#b00606" d="M4051 4276l55 15 67-40-55-15z"/>
<path fill="#b20606" d="M3989 4312l55 16 67-41-56-15z"/>
<path fill="#b40606" d="M3926 4348l55 17 67-41-55-16z"/>
<path fill="#b60606" d="M3863 4386l55 16 67-42-55-16z"/>
<path fill="#b80707" d="M3800 4423l56 17 66-42-55-17z"/>
<path fill="#ba0707" d="M3738 4461l55 17 67-42-56-17z"/>
<path fill="#bc0707" d="M3675 4500l55 17 67-43-55-17z"/>
<path fill="#be0707" d="M3612 4539l56 18 67-44-56-17z"/>
<path fill="#c00707" d="M3549 4579l56 18 67-44-56-18z"/>
<path fill="#c20707" d="M3487 4619l56 18 66-44-56-18z"/>
<path fill="#c40808" d="M3424 4660l56 18 67-45-56-18z"/>
<path fill="#c60808" d="M3362 4701l56 19 66-46-56-18z"/>
<path fill="#c80808" d="M3299 4743l56 19 67-46-56-19z"/>
<path fill="#ca0808" d="M3237 4785l56 20 66-47-56-19z"/>
<path fill="#cc0908" d="M3174 4828l57 20 66-47-56-20z"/>
<path class="m" d="M3178 4828l62-43 62-43 63-42 63-41 62-41 63-40 63-40 62-39 63-38 63-39 62-37 63-37 63-37 63-36 63-36 62-35 63-34 63-35 63-33 62-34 63-33 63-32m-1353 833l63-43 62-43 63-42 62-42 63-40 62-41 63-40 63-39 62-39 63-38 63-38 62-37 63-37 63-36 63-36 62-35 63-35 63-34 62-34 63-34 63-33 62-32m-1404 820l53 17m21-15l-54-17m21-14l54 17m20-15l-53-16m21-15l53 17m21-14l-53-17m20-14l54 17m21-14l-54-17m21-14l54 17m20-14l-53-17m21-13l53 16m21-14l-53-16m21-14l53 16m21-14l-54-16m21-13l53 15m21-13l-53-16m21-13l53 15m21-13l-53-16m21-13l53 15m21-13l-53-15m21-13l53 15m20-14l-52-15m20-13l53 15m21-13l-53-15m21-13l53 15m21-13l-53-15m21-13l53 15m21-13l-53-14m21-13l53 14m20-13l-52-14m21-13l52 14m21-12l-52-14m21-13l52 14m21-12l-53-14m21-13l53 14m21-12l-53-14m21-12l53 13m21-12l-53-14m21-12l53 13m20-12l-52-13m21-12l52 13m21-12l-52-13m21-12l52 13m21-12l-52-13m21-12l52 13m21-12l-52-13m20-11l53 12m21-12l-53-12m21-12l52 12m21-11l-52-12m21-12l52 12m21-12l-52-11m21-12l52 12m21-12l-52-11m21-12l52 12m21-11l-52-12m21-11l51 11m21-11l-51-11m20-12l52 12m21-11l-52-12m21-11l52 11m21-11l-52-11m21-11l52 11m21-11l-52-11m21-10l51 10m21-11l-51-10m21-11l51 11"/>
<path fill="#b10606" d="M4542 4047l54 17 67-37-54-17z"/>
<path fill="#b20606" d="M4479 4080l55 18 66-38-54-17z"/>
<path fill="#b40606" d="M4417 4114l54 18 67-38-54-18z"/>
<path fill="#b50606" d="M4354 4148l55 18 66-38-54-18z"/>
<path fill="#b70606" d="M4292 4182l54 19 67-39-55-18z"/>
<path fill="#b80606" d="M4229 4217l55 19 66-39-54-19z"/>
<path fill="#ba0606" d="M4166 4252l55 20 67-40-55-19z"/>
<path fill="#bb0707" d="M4104 4288l55 20 66-40-55-20z"/>
<path fill="#bd0707" d="M4041 4325l55 20 67-41-55-20z"/>
<path fill="#be0707" d="M3978 4362l55 20 67-41-55-20z"/>
<path fill="#c00707" d="M3916 4399l55 21 67-42-56-20z"/>
<path fill="#c20707" d="M3853 4437l55 21 67-42-55-21z"/>
<path fill="#c40707" d="M3790 4476l56 21 66-43-55-21z"/>
<path fill="#c50707" d="M3728 4514l55 22 67-43-56-22z"/>
<path fill="#c70707" d="M3665 4554l56 22 66-44-55-22z"/>
<path fill="#c90808" d="M3602 4594l56 22 67-44-56-22z"/>
<path fill="#ca0808" d="M3540 4634l56 23 66-45-56-22z"/>
<path fill="#cb0808" d="M3477 4676l57 22 66-45-56-23z"/>
<path fill="#cc0808" d="M3415 4717l56 23 67-46-57-23z"/>
<path fill="#cd0808" d="M3352 4759l57 24 66-47-56-23z"/>
<path fill="#ce0808" d="M3290 4802l57 24 66-47-57-24z"/>
<path fill="#cf0908" d="M3228 4845l56 25 66-48-56-24z"/>
<path class="m" d="M3231 4845l62-44 63-42 62-42 63-42 62-41 63-41 62-40 63-39 63-39 62-39 63-37 63-38 62-37 63-36 63-36 62-36 63-35 63-34 62-34 63-34 63-33 62-32m-1350 841l62-44 63-42 62-43 62-42 63-41 62-41 63-40 63-39 62-39 63-39 62-38 63-38 63-37 62-36 63-36 62-36 63-35 63-35 62-34 63-34 62-33 63-33m-1403 825l54 21m21-14l-54-22m21-14l53 21m21-15l-54-21m21-14l54 21m21-14l-54-21m21-14l53 20m21-14l-53-20m21-14l53 20m21-14l-54-20m21-14l53 20m21-14l-53-20m21-14l53 20m21-14l-53-20m20-14l54 20m20-13l-53-20m21-14l53 20m21-14l-53-19m21-14l53 20m21-14l-53-19m21-13l53 19m20-14l-53-19m21-13l53 19m21-13l-53-19m21-13l53 19m21-14l-53-18m21-13l53 18m20-13l-52-18m21-13l52 18m21-13l-53-18m21-13l53 19m21-13l-53-18m21-13l53 18m21-13l-53-17m21-13l52 18m21-13l-52-17m21-13l52 18m21-13l-52-17m21-13l52 18m21-13l-53-17m21-12l53 17m20-12l-52-17m21-12l52 17m21-13l-52-16m21-12l52 16m21-12l-52-16m21-12l52 16m21-12l-52-16m20-12l52 17m21-12l-52-16m21-12l52 16m21-12l-52-16m21-11l52 16m21-12l-52-16m21-11l51 16m21-12l-51-15m20-12l52 16m21-12l-52-15m21-11l52 15m21-11l-52-15m21-12l51 15m21-11l-51-15m21-11l51 15m21-11l-51-15m20-11l52 15m21-11l-52-15m21-10l51 14"/>
<path fill="#bc0707" d="M4593 4061l54 22 67-37-54-21z"/>
<path fill="#bd0707" d="M4531 4095l54 22 67-38-54-22z"/>
<path fill="#bf0707" d="M4469 4129l54 22 66-38-54-22z"/>
<path fill="#c00707" d="M4406 4163l54 22 67-38-54-22z"/>
<path fill="#c10707" d="M4343 4198l55 23 67-39-55-23z"/>
<path fill="#c20707" d="M4281 4233l55 23 66-39-54-23z"/>
<path fill="#c40707" d="M4218 4269l55 23 67-40-55-23z"/>
<path fill="#c50707" d="M4156 4305l55 24 66-41-55-23z"/>
<path fill="#c60707" d="M4093 4342l55 24 67-41-55-24z"/>
<path fill="#c70707" d="M4031 4379l55 24 66-41-55-24zM3968 4417l55 24 67-42-55-24z"/>
<path fill="#c80707" d="M3906 4455l55 25 66-42-55-25zM3843 4494l56 25 66-43-55-25z"/>
<path fill="#c90707" d="M3780 4533l56 26 67-44-56-25z"/>
<path fill="#c90808" d="M3718 4573l56 26 66-44-56-26z"/>
<path fill="#ca0808" d="M3655 4613l56 27 67-45-56-26z"/>
<path fill="#cb0808" d="M3593 4654l56 27 66-45-56-27z"/>
<path fill="#cc0808" d="M3531 4695l56 28 66-46-56-27zM3468 4737l57 28 66-46-56-28z"/>
<path fill="#cd0808" d="M3406 4780l56 28 66-47-56-28z"/>
<path fill="#ce0908" d="M3344 4823l56 28 66-47-56-28z"/>
<path fill="#cf0908" d="M3281 4867l57 28 66-48-57-28z"/>
<path class="m" d="M3285 4866l62-44 62-43 63-42 62-42 62-41 63-41 62-41 63-39 62-40 63-38 63-39 62-37 63-38 62-36 63-37 62-35 63-36 62-34 63-35 62-34 63-33 62-33m-1347 850l62-43 62-44 62-42 63-43 62-41 62-41 63-41 62-40 63-39 62-39 63-38 62-38 63-38 62-37 63-36 62-36 63-35 62-35 63-35 62-34 63-33 62-33m-1400 829l53 26m21-15l-53-25m20-15l54 25m21-14l-54-26m21-14l53 25m21-14l-53-25m20-15l54 25m21-14l-54-25m21-14l53 25m21-15l-53-24m20-14l54 24m21-14l-54-24m21-14l53 24m21-14l-53-24m21-14l53 24m21-14l-54-23m21-14l53 24m21-14l-53-24m21-13l53 23m21-13l-53-24m21-13l53 23m20-14l-53-23m21-13l53 23m21-13l-53-23m21-13l53 22m21-13l-53-23m21-13l52 23m21-13l-53-23m21-13l53 23m21-13l-53-23m21-12l53 22m20-13l-52-22m21-13l52 22m21-13l-52-22m20-12l53 21m21-12l-53-22m21-12l52 21m21-13l-52-21m21-12l52 21m21-13l-52-21m21-12l52 21m21-12l-53-21m21-12l52 20m21-12l-52-21m21-12l52 21m21-12l-52-21m21-12l52 21m20-12l-51-21m20-11l52 20m21-12l-52-20m21-12l52 20m21-12l-52-20m21-11l51 19m21-11l-51-20m20-11l52 19m21-12l-52-19m21-11l52 19m20-12l-51-19m21-11l51 19m21-12l-51-18m20-12l52 19m21-11l-52-19m21-11l51 19m21-12l-51-18m21-11l51 18m21-11l-51-18m20-11l51 18"/>
<path fill="#c60707" d="M4645 4080l53 25 67-37-54-25z"/>
<path fill="#c70707" d="M4582 4113l54 26 67-38-54-25zM4520 4148l54 26 66-38-53-26zM4458 4182l54 27 66-39-54-26zM4395 4217l55 27 66-39-54-26zM4333 4253l54 27 67-40-55-26zM4270 4289l55 28 66-41-54-27zM4208 4326l55 28 66-41-55-28zM4145 4363l55 28 67-41-55-28z"/>
<path fill="#c80707" d="M4083 4400l55 29 66-42-55-28zM4021 4438l55 29 66-42-55-28zM3958 4477l55 29 67-43-55-28z"/>
<path fill="#c90707" d="M3896 4516l55 30 66-44-55-29z"/>
<path fill="#ca0808" d="M3833 4556l56 30 66-44-55-30zM3771 4596l56 30 66-44-56-30z"/>
<path fill="#cb0808" d="M3708 4637l56 30 67-45-56-30z"/>
<path fill="#cc0808" d="M3646 4678l56 31 66-46-56-30zM3584 4720l56 31 66-46-56-31z"/>
<path fill="#cd0808" d="M3522 4762l56 32 66-47-56-31z"/>
<path fill="#ce0808" d="M3459 4805l57 32 66-47-57-32z"/>
<path fill="#cf0908" d="M3397 4848l57 33 66-48-57-32z"/>
<path fill="#d00908" d="M3335 4892l57 33 66-48-57-33z"/>
<path class="m" d="M3338 4892l63-44 62-44 62-43 62-42 63-42 62-41 62-41 63-40 62-39 63-39 62-39 62-38 63-38 62-37 63-36 62-36 63-36 62-35 62-35 63-34 62-34 62-33m-1345 860l62-44 63-44 62-43 62-42 62-42 62-42 63-40 62-41 62-40 63-39 62-39 63-38 62-38 62-37 63-36 62-37 62-36 63-35 62-35 62-34 63-34 62-33m-1398 835l54 30m21-15l-54-30m21-15l53 30m21-15l-53-29m20-15l54 29m21-14l-54-29m21-15l53 29m21-14l-53-29m20-14l54 28m20-14l-53-29m21-14l53 29m21-14l-53-29m20-14l53 28m21-14l-53-28m21-14l53 28m21-14l-53-28m20-13l53 27m21-13l-53-28m21-14l53 28m21-14l-53-27m21-14l52 27m21-13l-53-28m21-13l53 27m21-13l-53-27m21-14l52 27m21-13l-52-27m20-13l53 27m21-14l-53-26m21-13l52 26m21-13l-52-26m21-13l52 26m21-13l-53-26m21-13l53 26m20-13l-52-26m21-13l52 26m21-13l-52-25m20-13l53 25m20-12l-52-26m21-12l52 25m21-12l-52-26m21-12l52 25m21-12l-52-25m20-13l52 25m21-12l-52-25m21-12l52 24m21-12l-52-24m21-12l51 24m21-12l-52-24m21-12l52 24m21-12l-52-24m21-12l51 24m21-12l-51-24m20-12l52 24m21-12l-52-23m21-12l51 23m21-11l-51-24m21-11l51 23m21-12l-52-23m21-11l51 23m21-12l-51-23m21-11l51 23m21-12l-51-22m20-11l51 22m21-11l-51-23m21-11l51 23m21-12l-51-22m20-11l51 22"/>
<path fill="#c80707" d="M4696 4102l53 30 66-38-53-29zM4633 4136l54 30 66-38-53-30zM4571 4171l54 30 66-39-53-30zM4509 4206l54 30 66-39-54-30zM4447 4241l54 31 66-39-54-31zM4384 4277l55 31 66-40-54-31zM4322 4313l55 32 66-40-55-32zM4260 4350l54 32 67-41-55-31z"/>
<path fill="#c90707" d="M4197 4388l55 32 66-41-54-32zM4135 4426l55 32 66-42-55-32zM4073 4464l55 33 66-42-55-33z"/>
<path fill="#ca0808" d="M4011 4503l55 34 66-43-55-34zM3948 4543l56 33 66-43-56-34z"/>
<path fill="#cb0808" d="M3886 4582l55 35 67-44-56-34z"/>
<path fill="#cc0808" d="M3824 4623l55 35 66-45-55-34zM3761 4664l56 35 66-45-55-35z"/>
<path fill="#cd0808" d="M3699 4706l56 35 66-46-56-35z"/>
<path fill="#ce0808" d="M3637 4748l56 35 66-46-56-35z"/>
<path fill="#ce0908" d="M3575 4790l56 37 66-47-56-36z"/>
<path fill="#cf0908" d="M3513 4834l56 36 66-47-56-36z"/>
<path fill="#d00908" d="M3451 4877l56 37 66-48-56-36z"/>
<path fill="#d10908" d="M3389 4922l56 37 66-48-56-37z"/>
<path class="m" d="M3392 4922l62-45 62-44 62-43 62-43 63-42 62-41 62-41 62-41 63-40 62-39 62-39 63-39 62-37 62-38 63-37 62-36 62-36 62-36 63-35 62-34 62-34 62-34m-1342 870l62-45 62-44 62-43 62-43 62-42 62-42 62-41 63-41 62-40 62-40 62-39 63-38 62-38 62-38 62-37 63-37 62-36 62-35 62-36 62-34 63-35 62-33m-1395 841l54 34m20-15l-53-34m20-15l54 34m21-15l-54-34m21-15l53 34m21-15l-53-33m20-15l54 34m20-15l-53-33m21-15l53 34m21-15l-54-33m21-14l53 33m21-15l-53-32m20-15l54 33m20-14l-53-33m21-14l53 33m21-15l-53-32m20-14l53 32m21-14l-53-31m21-14l53 32m20-14l-52-32m20-14l53 32m21-14l-53-31m21-14l53 31m20-13l-52-31m20-14l53 31m21-13l-53-31m21-13l52 30m21-13l-52-31m20-13l53 31m21-14l-53-30m21-13l52 30m21-13l-52-30m21-13l52 30m20-13l-52-30m21-13l52 30m21-13l-52-30m21-13l52 30m20-13l-52-29m21-13l52 29m21-12l-52-29m21-13l52 29m20-13l-51-28m20-13l52 29m21-13l-52-28m21-13l51 29m21-12l-51-29m20-12l52 28m21-12l-52-28m21-12l51 28m21-12l-51-28m20-12l52 28m20-12l-51-28m21-12l51 28m21-12l-51-28m20-12l52 28m20-12l-51-27m21-12l51 27m21-12l-51-27m20-11l51 27m21-12l-51-27m21-11l51 27m21-12l-51-27m20-11l51 27m21-12l-51-26m21-11l51 26m20-12l-50-26m20-11l51 26"/>
<path fill="#ca0808" d="M4746 4128l54 34 66-38-53-33zM4684 4163l54 34 66-39-54-33zM4622 4198l54 34 66-39-54-34zM4560 4233l54 35 66-40-54-34zM4498 4269l54 35 66-40-54-35zM4436 4305l54 35 66-40-54-35zM4374 4342l54 36 66-41-54-36zM4312 4379l54 36 66-41-54-36zM4249 4417l55 36 66-41-54-37z"/>
<path fill="#cb0808" d="M4187 4455l55 37 66-42-55-37zM4125 4494l55 37 66-43-55-36z"/>
<path fill="#cc0808" d="M4063 4533l55 38 66-43-55-38zM4001 4573l55 38 66-44-55-37z"/>
<path fill="#cd0808" d="M3938 4613l56 39 66-44-55-39zM3876 4654l56 39 66-45-56-38z"/>
<path fill="#ce0808" d="M3814 4696l56 39 66-45-56-39z"/>
<path fill="#ce0908" d="M3752 4738l56 39 66-46-56-39z"/>
<path fill="#cf0908" d="M3690 4780l56 40 66-46-56-40z"/>
<path fill="#d00908" d="M3628 4823l56 41 66-47-56-40z"/>
<path fill="#d10908" d="M3566 4867l56 41 66-48-56-40z"/>
<path fill="#d20908" d="M3504 4911l57 41 65-48-56-41z"/>
<path fill="#d30a08" d="M3442 4956l57 42 66-49-57-42z"/>
<path class="m" d="M3446 4956l62-45 62-44 62-44 62-43 62-43 62-41 62-42 62-41 62-40 62-40 62-39 63-39 62-38 62-38 62-37 62-37 62-36 63-36 62-36 62-34 62-35 62-34m-1339 880l61-45 62-44 62-44 62-43 62-43 62-42 62-42 62-41 62-40 62-40 62-40 63-39 62-38 62-38 62-38 62-37 62-36 62-36 62-36 62-35 62-34 62-34m-1391 847l53 38m21-15l-54-38m21-15l53 38m21-15l-53-38m20-15l54 38m20-15l-53-38m21-14l53 37m20-14l-53-38m21-14l53 37m21-15l-53-37m20-14l53 37m21-15l-53-37m21-14l53 37m20-15l-53-36m21-14l53 36m20-14l-52-37m20-14l53 37m21-14l-53-37m21-13l52 36m21-14l-53-36m21-14l53 36m20-14l-52-36m21-14l52 36m21-14l-53-35m21-14l52 35m21-13l-52-35m20-14l53 35m20-13l-52-35m21-13l52 34m21-13l-52-35m20-13l52 35m21-14l-52-34m21-13l52 34m20-13l-52-34m21-13l52 34m21-13l-52-34m21-13l51 34m21-13l-52-34m21-13l52 34m20-13l-51-33m21-13l51 33m21-13l-52-33m21-12l52 33m20-13l-51-33m20-12l52 33m21-13l-52-32m21-13l51 33m21-13l-51-32m20-12l52 32m20-12l-51-32m21-12l51 32m21-13l-52-31m21-12l51 31m21-12l-51-31m21-12l51 31m20-12l-51-31m21-12l51 31m20-12l-50-31m20-11l51 31m21-12l-51-31m21-11l50 30m21-12l-50-30m20-11l51 30m20-12l-50-30m21-11l50 30m21-12l-51-30m21-11l50 30"/>
<path fill="#cc0808" d="M4797 4158l53 38 66-38-53-37zM4735 4193l53 38 66-38-53-38zM4673 4228l53 39 66-39-53-38zM4611 4264l54 39 65-40-53-38zM4549 4300l54 40 66-41-54-38zM4487 4337l54 40 66-41-54-39zM4425 4374l54 40 66-41-54-39zM4363 4412l54 40 66-41-54-40z"/>
<path fill="#cd0808" d="M4301 4450l54 41 66-42-54-41zM4239 4489l55 41 65-43-54-40zM4177 4528l55 41 66-43-55-41z"/>
<path fill="#ce0808" d="M4115 4568l55 42 66-44-55-42z"/>
<path fill="#ce0908" d="M4053 4608l55 42 66-44-55-42z"/>
<path fill="#cf0908" d="M3991 4648l55 43 66-44-55-43zM3929 4690l55 43 66-45-55-43z"/>
<path fill="#d00908" d="M3867 4732l56 43 65-46-55-43z"/>
<path fill="#d10908" d="M3805 4774l56 44 65-46-55-44zM3743 4817l56 44 66-47-56-44z"/>
<path fill="#d20a08" d="M3681 4860l56 45 66-47-56-45z"/>
<path fill="#d30a08" d="M3619 4904l57 46 65-48-56-45z"/>
<path fill="#d40a08" d="M3558 4949l56 46 65-49-56-45z"/>
<path fill="#d60d08" d="M3496 4994l56 46 66-49-57-46z"/>
<path class="m" d="M3499 4994l62-45 62-45 62-44 62-43 61-43 62-42 62-42 62-42 62-40 62-40 62-40 62-39 62-39 63-38 62-38 62-37 62-37 62-36 61-36 62-35 62-35 62-34m-1336 891l62-45 61-45 62-45 62-43 62-43 62-43 62-42 61-41 62-41 62-41 62-40 62-39 62-39 62-38 62-38 62-37 62-37 62-37 62-36 62-35 61-35 62-35m-1388 854l54 43m20-15l-53-43m20-15l54 42m20-15l-53-42m21-15l53 42m20-15l-53-42m21-15l53 42m21-15l-54-41m21-15l53 41m21-14l-53-42m20-14l53 41m21-15l-53-41m21-14l52 41m21-15l-53-41m21-14l53 41m20-14l-53-41m21-14l53 40m20-14l-52-40m20-14l53 40m21-14l-53-40m21-14l52 40m21-14l-53-40m21-14l52 40m21-14l-52-40m20-14l53 40m20-14l-52-39m21-14l52 39m20-13l-52-39m21-14l52 39m21-13l-52-39m20-13l52 38m21-13l-52-39m21-13l52 38m20-13l-52-38m21-13l52 38m20-13l-51-38m20-13l52 37m21-13l-52-37m21-13l51 37m21-13l-52-37m21-13l52 37m20-12l-51-38m21-12l51 37m20-13l-51-37m21-12l51 36m21-12l-51-37m20-12l51 36m21-12l-51-37m21-12l50 36m21-12l-51-36m21-12l51 35m20-12l-50-36m20-12l51 36m21-12l-51-36m21-12l50 36m21-13l-51-35m21-12l50 35m21-12l-51-35m21-11l50 34m21-11l-50-35m20-12l51 35m20-12l-50-35m21-11l50 34m20-11l-50-35m21-11l50 34m21-12l-50-34m20-11l50 34"/>
<path fill="#ce0908" d="M4847 4192l53 42 65-38-52-42zM4785 4228l53 42 66-39-53-42zM4723 4263l53 43 66-40-53-42zM4662 4299l53 43 66-40-54-42zM4600 4336l53 43 66-40-53-43zM4538 4373l54 44 65-41-53-43z"/>
<path fill="#cf0908" d="M4476 4411l54 44 66-41-54-44zM4414 4449l54 44 66-42-54-44zM4352 4487l55 45 65-42-54-45zM4291 4526l54 46 66-43-55-45z"/>
<path fill="#d00908" d="M4229 4566l54 46 66-44-55-45zM4167 4606l55 46 65-44-54-45z"/>
<path fill="#d10908" d="M4105 4647l55 46 65-44-54-46zM4043 4688l55 47 66-45-55-47z"/>
<path fill="#d20908" d="M3981 4729l56 48 65-45-55-48z"/>
<path fill="#d20a08" d="M3919 4772l56 48 65-46-55-48z"/>
<path fill="#d30a08" d="M3858 4814l55 49 66-47-56-48z"/>
<path fill="#d40a08" d="M3796 4858l56 49 65-48-56-48z"/>
<path fill="#d60c08" d="M3734 4902l56 49 66-48-56-49z"/>
<path fill="#d90f09" d="M3672 4946l57 50 65-48-56-50z"/>
<path fill="#dc1309" d="M3611 4991l56 50 65-49-56-49z"/>
<path fill="#df1609" d="M3549 5037l57 50 65-49-56-50z"/>
<path class="m" d="M3553 5037l61-46 62-45 62-44 61-44 62-43 62-43 62-42 62-42 61-41 62-41 62-40 62-40 62-39 62-38 62-38 61-38 62-37 62-36 62-37 62-35 61-35 62-35m-1333 902l62-46 61-45 62-45 62-44 61-44 62-43 62-42 62-42 61-41 62-41 62-40 62-40 61-39 62-39 62-38 62-38 62-37 61-37 62-37 62-35 61-36 62-35m-1384 861l53 47m20-15l-53-47m21-16l53 47m20-15l-53-47m21-15l53 47m20-15l-53-47m21-15l53 46m20-15l-52-46m20-15l53 46m20-14l-52-46m20-15l53 46m20-15l-52-46m20-14l53 45m21-14l-53-46m21-14l52 45m21-15l-53-44m21-15l52 45m21-14l-53-45m21-14l52 44m21-14l-52-44m20-14l52 44m21-14l-52-44m20-14l52 43m21-14l-52-43m21-14l52 43m20-13l-52-44m21-14l52 44m20-14l-52-43m21-14l52 43m20-14l-51-42m20-14l52 43m20-14l-51-42m21-14l51 43m21-14l-52-42m21-13l51 42m21-13l-52-42m21-14l51 42m21-13l-51-42m20-13l51 42m21-13l-51-42m21-13l51 42m20-13l-51-41m21-13l51 41m20-13l-51-41m21-13l51 41m20-13l-50-40m20-13l51 41m21-13l-51-40m20-13l51 40m21-12l-51-40m21-13l50 40m21-12l-51-40m21-12l50 40m21-13l-50-39m20-12l50 39m21-12l-50-40m20-12l50 40m21-13l-50-39m20-12l51 39m20-12l-50-38m21-12l50 38m20-12l-50-38m21-12l50 39m20-12l-50-38m21-12l50 38m20-12l-49-38m20-11l50 38"/>
<path fill="#d10908" d="M4897 4231l52 45 65-38-52-46zM4835 4266l53 46 65-39-52-46zM4774 4302l52 47 66-40-53-46zM4712 4339l53 47 65-40-52-47zM4650 4376l53 47 66-40-53-48zM4589 4413l53 48 65-41-53-48zM4527 4451l53 49 66-42-53-48z"/>
<path fill="#d20908" d="M4465 4490l54 49 65-43-53-48zM4404 4529l53 49 66-43-54-49z"/>
<path fill="#d20a08" d="M4342 4568l54 50 65-43-54-50z"/>
<path fill="#d30a08" d="M4280 4608l54 50 66-43-54-50zM4218 4649l55 50 65-44-54-50zM4157 4690l54 51 66-45-55-51z"/>
<path fill="#d40a08" d="M4095 4731l55 52 65-45-54-52z"/>
<path fill="#d60c08" d="M4033 4773l55 52 66-45-55-52z"/>
<path fill="#d80f08" d="M3972 4816l55 53 65-47-55-52z"/>
<path fill="#db1109" d="M3910 4859l56 53 65-47-55-52z"/>
<path fill="#dd1409" d="M3849 4903l55 53 65-47-55-53z"/>
<path fill="#e01709" d="M3787 4947l56 54 65-48-56-53z"/>
<path fill="#e31a0a" d="M3725 4992l56 55 66-49-56-54z"/>
<path fill="#e61e0a" d="M3664 5038l56 54 65-49-56-54z"/>
<path fill="#e9260b" d="M3602 5084l57 55 65-50-56-55z"/>
<path class="m" d="M3606 5084l61-46 62-46 61-44 62-45 62-44 61-43 62-42 62-43 61-41 62-41 62-41 61-40 62-39 62-39 61-39 62-38 62-37 61-37 62-37 62-36 61-35 62-35m-1329 913l61-46 61-46 62-45 61-44 62-44 61-44 62-43 61-42 62-42 62-41 61-41 62-40 61-40 62-39 62-39 61-38 62-38 61-37 62-37 61-36 62-36 61-35m-1380 868l53 51m21-15l-54-51m21-16l53 51m20-15l-53-51m21-15l53 51m20-16l-53-50m21-16l53 51m20-15l-53-51m21-15l53 51m20-15l-53-50m21-15l53 50m20-15l-53-50m21-15l52 50m21-15l-52-49m20-15l52 49m21-14l-52-50m20-14l52 49m21-14l-52-49m20-15l52 49m21-14l-52-49m20-14l52 48m21-14l-52-48m20-15l52 49m21-15l-52-48m21-14l51 48m21-14l-52-47m21-14l51 47m21-14l-52-47m21-14l51 47m21-13l-52-48m21-13l51 47m21-14l-52-47m21-13l51 46m21-13l-51-47m20-13l51 46m21-13l-51-46m20-14l51 46m21-13l-51-46m20-13l51 46m21-13l-51-46m21-13l50 45m21-13l-51-45m21-13l50 45m21-13l-51-45m21-13l50 45m21-13l-51-45m21-12l50 44m21-12l-50-45m20-13l50 45m21-13l-50-44m20-13l50 44m21-12l-50-44m20-12l50 43m21-12l-50-44m20-12l50 43m21-12l-50-43m20-12l50 43m21-13l-50-43m21-12l49 43m21-12l-50-43m21-12l49 43m21-12l-50-43m21-11l49 42m21-12l-50-42m21-12l49 42m20-12l-49-42m21-11l49 41"/>
<path fill="#d50c08" d="M4946 4273l52 50 65-39-52-50z"/>
<path fill="#d50b08" d="M4885 4309l52 50 65-39-52-50zM4823 4345l53 51 65-40-52-50zM4762 4382l52 51 66-40-53-51zM4700 4420l53 51 65-41-52-51z"/>
<path fill="#d60c08" d="M4639 4457l53 53 65-42-53-52z"/>
<path fill="#d60d08" d="M4577 4496l54 53 65-42-53-53z"/>
<path fill="#d70d08" d="M4516 4535l53 53 66-43-54-52z"/>
<path fill="#d80e08" d="M4454 4574l54 54 65-43-53-53z"/>
<path fill="#d91009" d="M4393 4614l54 54 65-43-54-54z"/>
<path fill="#da1109" d="M4331 4655l54 54 66-44-54-54z"/>
<path fill="#dc1309" d="M4270 4696l54 55 65-45-54-55z"/>
<path fill="#de1509" d="M4208 4737l55 56 65-46-54-55z"/>
<path fill="#df1709" d="M4147 4779l54 56 66-46-55-55z"/>
<path fill="#e11909" d="M4085 4822l55 56 65-46-54-56z"/>
<path fill="#e41b0a" d="M4024 4865l55 57 65-47-55-57z"/>
<path fill="#e61e0a" d="M3962 4908l56 58 65-48-55-56z"/>
<path fill="#e9250b" d="M3901 4953l55 57 65-47-55-58z"/>
<path fill="#eb2c0c" d="M3840 4997l55 59 65-49-55-58z"/>
<path fill="#ee340c" d="M3778 5043l56 59 65-50-56-58z"/>
<path fill="#f23c0d" d="M3717 5089l56 59 65-50-56-58z"/>
<path fill="#f5450f" d="M3656 5135l56 60 65-50-56-60z"/>
<path class="m" d="M3659 5135l61-46 62-46 61-45 61-45 62-44 61-44 62-43 61-43 62-42 61-41 62-41 61-41 62-39 61-40 62-39 61-38 62-38 61-38 62-37 61-36 62-36 61-36m-1325 926l61-47 61-46 61-46 62-45 61-44 61-44 62-43 61-43 61-42 62-42 61-41 62-41 61-40 62-40 61-39 61-38 62-39 61-37 62-37 61-37 61-36 61-36m-1376 875l53 56m20-15l-52-56m20-16l53 56m20-16l-53-55m21-15l52 55m21-16l-53-55m21-15l52 55m21-15l-53-55m21-15l52 54m20-15l-52-54m21-15l52 54m20-15l-52-54m20-15l53 54m20-15l-52-54m20-15l52 54m21-15l-52-53m20-15l52 53m21-14l-52-53m20-15l52 53m21-14l-52-53m20-15l52 53m20-14l-51-53m20-14l52 52m20-14l-51-53m20-14l52 53m20-15l-51-52m20-14l52 52m20-14l-51-52m20-14l52 52m20-14l-51-51m20-14l51 51m21-14l-51-51m20-14l51 51m21-13l-51-51m20-14l51 51m21-14l-51-50m20-14l51 51m21-14l-51-50m20-13l51 50m20-14l-50-49m20-14l51 50m20-13l-50-50m20-13l51 50m20-14l-50-49m20-13l51 49m20-13l-50-49m20-13l50 49m21-13l-50-48m20-13l50 48m21-13l-50-48m20-13l50 49m21-13l-50-48m20-13l50 48m20-12l-49-48m20-13l50 48m20-13l-49-47m20-12l50 47m20-12l-49-48m20-12l50 47m20-12l-49-47m20-12l49 47m21-13l-49-46m20-12l49 46m21-12l-49-46m20-12l49 46m20-12l-49-46m21-12l49 46"/>
<path fill="#e2190a" d="M4995 4319l52 54 64-39-51-54zM4934 4355l52 55 65-40-52-54z"/>
<path fill="#e11909" d="M4873 4392l52 55 65-40-52-55z"/>
<path fill="#e2190a" d="M4811 4430l53 55 65-41-52-55zM4750 4467l53 57 65-42-53-55z"/>
<path fill="#e21a0a" d="M4689 4506l52 56 65-41-52-57z"/>
<path fill="#e31a0a" d="M4628 4545l52 57 65-43-52-56z"/>
<path fill="#e41b0a" d="M4566 4584l53 58 65-43-53-57z"/>
<path fill="#e51c0a" d="M4505 4624l53 58 65-43-53-58z"/>
<path fill="#e61e0a" d="M4444 4664l53 59 65-44-53-58z"/>
<path fill="#e7210a" d="M4382 4705l54 59 65-44-54-59z"/>
<path fill="#e9250b" d="M4321 4747l54 59 65-45-54-59z"/>
<path fill="#ea290b" d="M4260 4789l54 59 65-45-54-59z"/>
<path fill="#ec2e0c" d="M4198 4831l55 60 65-46-55-59z"/>
<path fill="#ef340c" d="M4137 4874l54 61 65-47-54-60z"/>
<path fill="#f13a0d" d="M4076 4918l54 61 65-47-54-61z"/>
<path fill="#f3400e" d="M4014 4962l55 62 65-48-55-61z"/>
<path fill="#f5480f" d="M3953 5007l55 62 65-48-55-62z"/>
<path fill="#f75111" d="M3892 5052l55 63 65-49-55-63z"/>
<path fill="#f95b13" d="M3831 5098l55 63 65-49-55-63z"/>
<path fill="#fa6514" d="M3770 5144l55 64 65-50-55-63z"/>
<path fill="#fc7016" d="M3709 5191l55 64 65-50-56-64z"/>
<path class="m" d="M3712 5191l61-47 61-46 61-46 62-45 61-45 61-44 61-43 62-43 61-43 61-42 62-41 61-41 61-41 62-39 61-40 61-39 62-38 61-38 61-37 61-37 62-37 61-36m-1322 938l61-47 61-47 62-46 61-45 61-45 61-45 61-44 61-43 62-43 61-42 61-41 61-42 62-40 61-40 61-40 61-39 61-39 62-38 61-37 61-37 61-37 61-36m-1319 944l61-48 61-47 61-46 61-46 61-45 61-44 61-45 61-43 61-43 61-42 61-42 61-42 62-41 61-40 61-40 61-39 61-39 61-38 61-38 61-38 61-36 61-37m-1396 858l53 61m20-16l-53-60m21-16l52 60m21-16l-53-60m20-15l53 60m20-16l-52-60m20-15l53 59m20-15l-52-59m20-16l52 59m21-15l-53-59m21-15l52 59m20-15l-52-59m21-15l52 58m20-15l-52-58m20-15l52 58m21-15l-52-58m20-15l52 58m20-15l-51-57m20-15l52 58m20-15l-51-57m20-15l51 57m21-15l-52-56m21-15l51 57m21-15l-52-56m21-14l51 56m20-14l-51-57m21-14l51 56m20-14l-51-56m21-14l50 56m21-14l-51-56m20-14l51 56m21-14l-51-56m20-14l51 56m20-14l-50-55m20-14l51 55m20-14l-50-55m20-13l50 54m21-13l-50-55m20-13l50 54m21-14l-51-54m21-13l50 54m20-14l-50-53m21-13l50 53m20-13l-50-54m21-13l49 53m21-13l-50-53m20-13l50 53m21-13l-50-53m20-13l50 53m20-13l-49-53m20-12l50 52m20-13l-49-52m20-13l49 52m21-13l-50-51m21-13l49 52m20-13l-49-52m21-12l49 51m20-12l-49-51m21-13l48 51m21-12l-49-51m20-12l49 50m20-12l-48-51m20-12l49 51m20-12l-48-51m20-12l48 50m21-12l-49-50m21-12l48 50"/></g>
<g><path class="ax" d="M212.6 608.4L198.5 421"/>
<path class="ax" d="M498.7 591.9L512.8 407.1"/>
<circle cx="209.3" cy="564.6" r="1.5"/>
<circle cx="207.5" cy="540.7" r="1.5"/>
<circle cx="205.7" cy="516.7" r="1.5"/>
<circle cx="203.9" cy="492.8" r="1.5"/>
<circle cx="202.1" cy="468.9" r="1.5"/>
<circle cx="200.3" cy="444.9" r="1.5"/>
<circle cx="198.5" cy="421" r="1.5"/>
<circle cx="212.6" cy="608.4" r="1.5"/>
<circle cx="253" cy="628.6" r="1.5"/>
<circle cx="293.4" cy="648.9" r="1.5"/>
<circle cx="333.8" cy="669.1" r="1.5"/>
<circle cx="374.2" cy="689.4" r="1.5"/>
<circle cx="399.1" cy="669.9" r="1.5"/>
<circle cx="424" cy="650.4" r="1.5"/>
<circle cx="448.9" cy="630.9" r="1.5"/>
<circle cx="473.8" cy="611.4" r="1.5"/>
<circle cx="498.7" cy="591.9" r="1.5"/></g>
<text class="t" x="52.1" y="193.5" text-anchor="end">40.0</text>
<text class="t" x="50.5" y="170.9" text-anchor="end">50.0</text>
<text class="t" x="48.9" y="148.3" text-anchor="end">60.0</text>
<text class="t" x="47.3" y="125.7" text-anchor="end">70.0</text>
<text class="t" x="45.7" y="103.1" text-anchor="end">80.0</text>
<text class="t" x="44.1" y="80.5" text-anchor="end">90.0</text>
<text class="t" x="42.5" y="57.9" text-anchor="end">100.0</text>
<text class="t" x="54.5" y="245" text-anchor="end">7.0</text>
<text class="t" x="93.5" y="262.7" text-anchor="end">6.0</text>
<text class="t" x="132.4" y="280.4" text-anchor="end">5.0</text>
<text class="t" x="171.4" y="298.1" text-anchor="end">4.0</text>
<text class="t" x="210.3" y="315.8" text-anchor="end">3.0</text>
<text class="t" x="219.9" y="315.8">5.0</text>
<text class="t" x="247.5" y="293.2">6.0</text>
<text class="t" x="275.1" y="270.6">7.0</text>
<text class="t" x="302.8" y="248">8.0</text>
<text class="t" x="330.4" y="225.4">9.0</text>
<text class="tb" x="467.3" y="189.5" text-anchor="end">79.0</text>
<text class="tb" x="466" y="165.1" text-anchor="end">82.5</text>
<text class="tb" x="464.6" y="140.6" text-anchor="end">86.0</text>
<text class="tb" x="463.3" y="116.1" text-anchor="end">89.5</text>
<text class="tb" x="461.9" y="91.6" text-anchor="end">93.0</text>
<text class="tb" x="460.6" y="67.2" text-anchor="end">96.5</text>
<text class="tb" x="459.2" y="42.7" text-anchor="end">100.0</text>
<text class="tb" x="469.3" y="245.6" text-anchor="end">7.0</text>
<text class="tb" x="506.5" y="263" text-anchor="end">6.0</text>
<text class="tb" x="543.7" y="280.4" text-anchor="end">5.0</text>
<text class="tb" x="580.9" y="297.7" text-anchor="end">4.0</text>
<text class="tb" x="618.1" y="315.1" text-anchor="end">3.0</text>
<text class="tb" x="628.5" y="315.1">20.0</text>
<text class="tb" x="655.2" y="300">22.0</text>
<text class="tb" x="681.8" y="284.8">24.0</text>
<text class="tb" x="708.5" y="269.7">26.0</text>
<text class="tb" x="735.1" y="254.5">28.0</text>
<text class="tb" x="761.8" y="239.4">30.0</text>
<text class="tc" x="204.4" y="562.4" text-anchor="end">40.0</text>
<text class="tc" x="202.6" y="538.5" text-anchor="end">50.0</text>
<text class="tc" x="200.8" y="514.5" text-anchor="end">60.0</text>
<text class="tc" x="199" y="490.6" text-anchor="end">70.0</text>
<text class="tc" x="197.2" y="466.7" text-anchor="end">80.0</text>
<text class="tc" x="195.4" y="442.7" text-anchor="end">90.0</text>
<text class="tc" x="193.6" y="418.8" text-anchor="end">100.0</text>
<text class="tc" x="207.4" y="617.2" text-anchor="end">9.0</text>
<text class="tc" x="247.8" y="637.4" text-anchor="end">8.0</text>
<text class="tc" x="288.2" y="657.7" text-anchor="end">7.0</text>
<text class="tc" x="328.6" y="677.9" text-anchor="end">6.0</text>
<text class="tc" x="369" y="698.2" text-anchor="end">5.0</text>
<text class="tc" x="378.6" y="698.2">20.0</text>
<text class="tc" x="403.5" y="678.7">22.0</text>
<text class="tc" x="428.4" y="659.2">24.0</text>
<text class="tc" x="453.3" y="639.7">26.0</text>
<text class="tc" x="478.2" y="620.2">28.0</text>
<text class="tc" x="503.1" y="600.7">30.0</text>
<text class="l" x="36" y="311">Inoculum concentration</text>
<text class="l" x="319.2" y="291.8">pH</text>
<text class="l" x="9" y="186" transform="rotate(-90 9 186)">COD removal</text>
<text class="lb" x="437.5" y="305.6">Inoculum concentration</text>
<text class="lb" x="715.3" y="300.4">Temperature</text>
<text class="ld" x="422.7" y="183.1" transform="rotate(-90 422.7 183.1)">COD removal</text>
<text class="ld" x="236" y="689.8">pH</text>
<text class="lc" x="461.9" y="673.6">Temperature</text>
<text class="ld" x="158" y="556.4" transform="rotate(-90 158 556.4)">COD removal</text>
<text class="p" x="6.6" y="20.3">a</text>
<text class="p" x="414.1" y="20.7">b</text>
<text class="p" x="153.9" y="371.8">c</text>
</svg></body></html>
